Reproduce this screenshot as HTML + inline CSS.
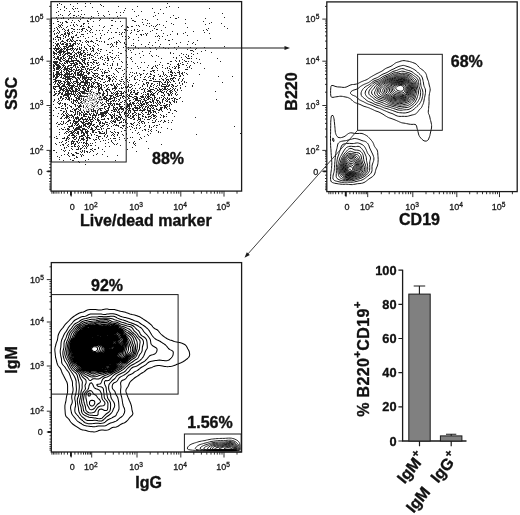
<!DOCTYPE html>
<html lang="en"><head><meta charset="utf-8"><title>Flow cytometry figure</title>
<style>html,body{margin:0;padding:0;background:#fff}svg{display:block}</style>
</head><body>
<svg width="520" height="515" viewBox="0 0 520 515">
<style>
text{font-family:'Liberation Sans', sans-serif;fill:#111}
.tk{font-size:9px;fill:#1a1a1a;stroke:#1a1a1a;stroke-width:.3px}
.sp{font-size:6.6px}
.ti{font-size:16px;font-weight:bold;stroke:#111;stroke-width:.35px}
.pc{font-size:16px;font-weight:bold;stroke:#111;stroke-width:.35px}
.bt{font-size:12.8px;font-weight:bold;stroke:#111;stroke-width:.3px}
.bl{font-size:14px;font-weight:bold;stroke:#111;stroke-width:.3px}
</style>
<rect width="520" height="515" fill="#fff"/>
<defs>
<clipPath id="c2"><rect x="327.5" y="2.5" width="189" height="189"/></clipPath>
<clipPath id="c3"><rect x="52" y="263" width="189" height="188.5"/></clipPath>
</defs>
<path d="M59 3h1M77 3h1M85 3h1M90 3h1M167 3h1M57 4h1M61 4h1M70 4h1M100 4h1M57 5h1M101 5h1M64 6h1M73 6h1M85 6h1M103 6h1M118 6h1M137 6h1M169 6h1M57 7h1M64 7h1M92 7h1M166 7h1M178 7h1M66 8h1M72 8h1M75 8h1M77 8h1M125 8h1M152 8h1M209 8h1M60 9h1M73 9h1M132 9h1M160 9h1M64 10h1M81 10h1M124 10h1M58 11h1M69 11h1M74 11h1M78 11h1M97 11h1M108 11h1M134 11h1M141 11h1M56 12h1M116 12h1M120 12h1M123 12h1M154 12h1M70 13h1M98 13h1M158 13h1M163 13h1M222 13h1M60 14h1M69 14h1M81 14h1M84 14h1M109 14h1M58 15h1M62 15h1M68 15h1M73 15h1M74 15h1M78 15h1M98 15h1M103 15h1M120 15h1M138 15h1M155 15h1M173 15h1M76 16h1M80 16h1M91 16h1M104 16h1M117 16h1M136 16h1M153 16h1M56 17h1M63 17h1M70 17h1M73 17h1M82 17h1M83 17h1M93 17h1M170 17h1M178 17h1M224 17h1M61 18h1M63 18h1M88 18h1M91 18h1M99 18h1M109 18h1M113 18h1M118 18h1M131 18h1M175 18h1M176 18h1M205 18h1M57 19h1M68 19h1M80 19h1M90 19h1M100 19h1M142 19h1M145 19h1M157 19h1M185 19h1M72 20h1M78 20h1M87 20h1M99 20h1M111 20h1M112 20h1M132 20h1M133 20h1M147 20h1M57 21h1M58 21h1M65 21h1M66 21h1M79 21h1M87 21h1M88 21h1M93 21h1M115 21h1M120 21h1M134 21h1M135 21h1M166 21h1M203 21h1M60 22h1M62 22h1M66 22h1M67 22h1M71 22h1M74 22h1M142 22h1M211 22h1M53 23h1M62 23h1M83 23h1M84 23h1M88 23h1M147 23h1M149 23h1M171 23h1M185 23h1M209 23h1M221 23h1M58 24h1M61 24h1M73 24h1M76 24h1M83 24h1M143 24h1M157 24h1M159 24h1M173 24h1M205 24h1M59 25h1M60 25h1M62 25h1M70 25h1M73 25h1M77 25h1M81 25h1M99 25h1M111 25h1M112 25h1M122 25h1M136 25h1M138 25h1M146 25h1M151 25h1M156 25h1M163 25h1M58 26h1M60 26h1M67 26h1M74 26h1M80 26h1M81 26h1M83 26h1M88 26h1M92 26h1M104 26h1M121 26h1M127 26h1M131 26h1M132 26h1M139 26h1M149 26h1M153 26h1M155 26h1M224 26h1M56 27h1M59 27h1M61 27h1M66 27h1M88 27h1M89 27h1M103 27h1M127 27h1M128 27h1M165 27h1M187 27h1M54 28h1M57 28h1M63 28h1M71 28h1M72 28h1M82 28h1M83 28h1M84 28h1M90 28h1M110 28h1M117 28h1M154 28h1M208 28h1M227 28h1M57 29h1M62 29h1M64 29h1M68 29h1M73 29h1M74 29h1M77 29h1M79 29h1M81 29h1M82 29h1M86 29h1M91 29h1M124 29h1M125 29h1M134 29h1M137 29h1M156 29h1M157 29h1M206 29h1M54 30h1M58 30h1M65 30h1M67 30h1M68 30h1M82 30h1M87 30h1M90 30h1M96 30h1M99 30h1M102 30h1M108 30h1M125 30h1M127 30h1M131 30h1M134 30h1M139 30h1M142 30h1M152 30h1M161 30h1M203 30h1M207 30h1M53 31h1M59 31h1M64 31h1M68 31h1M72 31h1M74 31h1M81 31h1M85 31h1M89 31h1M137 31h1M138 31h1M150 31h1M172 31h1M193 31h1M57 32h1M59 32h1M65 32h1M67 32h1M69 32h1M71 32h1M77 32h1M79 32h1M90 32h1M92 32h1M107 32h1M111 32h1M115 32h1M116 32h1M119 32h1M122 32h1M124 32h1M131 32h1M185 32h1M204 32h1M54 33h1M56 33h1M58 33h1M64 33h1M65 33h1M67 33h1M68 33h1M69 33h1M72 33h1M87 33h1M100 33h1M121 33h1M130 33h1M145 33h1M147 33h1M156 33h1M163 33h1M177 33h1M183 33h1M209 33h1M54 34h1M61 34h1M62 34h1M64 34h1M65 34h1M68 34h1M69 34h1M76 34h1M81 34h1M82 34h1M83 34h1M95 34h1M104 34h1M119 34h1M121 34h1M136 34h1M140 34h1M141 34h1M143 34h1M146 34h1M170 34h1M177 34h1M57 35h1M60 35h1M63 35h1M66 35h1M68 35h1M75 35h1M76 35h1M101 35h1M141 35h1M146 35h1M158 35h1M167 35h1M187 35h1M56 36h1M57 36h1M63 36h1M65 36h1M68 36h1M71 36h1M73 36h1M80 36h1M83 36h1M92 36h1M122 36h1M125 36h1M128 36h1M155 36h1M157 36h1M159 36h1M162 36h1M55 37h1M57 37h1M58 37h1M59 37h1M60 37h1M65 37h1M71 37h1M72 37h1M73 37h1M77 37h1M78 37h1M88 37h1M100 37h1M113 37h1M129 37h1M138 37h1M53 38h1M60 38h1M63 38h1M69 38h1M72 38h1M85 38h1M96 38h1M100 38h1M109 38h1M111 38h1M128 38h1M159 38h1M210 38h1M53 39h1M55 39h1M58 39h1M60 39h1M67 39h1M68 39h1M70 39h1M72 39h1M108 39h1M125 39h1M133 39h1M165 39h1M172 39h1M58 40h1M62 40h1M66 40h1M67 40h1M70 40h1M71 40h1M73 40h1M76 40h1M77 40h1M79 40h1M80 40h1M86 40h1M91 40h1M96 40h1M97 40h1M118 40h1M138 40h1M158 40h1M168 40h1M169 40h1M197 40h1M56 41h1M61 41h1M62 41h1M63 41h1M67 41h1M69 41h1M71 41h1M72 41h1M74 41h1M75 41h1M80 41h1M85 41h1M87 41h1M88 41h1M90 41h1M91 41h1M92 41h1M99 41h1M101 41h1M104 41h1M116 41h1M119 41h1M188 41h1M53 42h1M60 42h1M64 42h1M65 42h1M75 42h1M82 42h1M86 42h1M88 42h1M93 42h1M104 42h1M114 42h1M116 42h1M117 42h1M120 42h1M124 42h1M149 42h1M155 42h1M180 42h1M193 42h1M55 43h1M57 43h1M58 43h1M60 43h1M62 43h1M63 43h1M66 43h1M67 43h1M69 43h1M70 43h1M73 43h1M74 43h1M75 43h1M77 43h1M79 43h1M95 43h1M111 43h1M116 43h1M124 43h1M133 43h1M176 43h1M192 43h1M56 44h1M57 44h1M58 44h1M61 44h1M62 44h1M63 44h1M65 44h1M66 44h1M67 44h1M70 44h1M72 44h1M73 44h1M75 44h1M78 44h1M81 44h1M87 44h1M97 44h1M107 44h1M108 44h1M110 44h1M112 44h1M116 44h1M125 44h1M126 44h1M141 44h1M148 44h1M160 44h1M169 44h1M187 44h1M195 44h1M53 45h1M56 45h1M57 45h1M59 45h1M66 45h1M67 45h1M69 45h1M70 45h1M71 45h1M72 45h1M73 45h1M81 45h1M88 45h1M93 45h1M98 45h1M112 45h1M131 45h1M133 45h1M152 45h1M55 46h1M57 46h1M59 46h1M63 46h1M64 46h1M65 46h1M66 46h1M68 46h1M69 46h1M70 46h1M71 46h1M72 46h1M77 46h1M84 46h1M89 46h1M90 46h1M94 46h1M111 46h1M113 46h1M116 46h1M125 46h1M135 46h1M145 46h1M159 46h1M178 46h1M224 46h1M55 47h1M58 47h1M60 47h1M64 47h1M66 47h1M67 47h1M68 47h1M72 47h1M79 47h1M81 47h1M84 47h1M92 47h1M110 47h1M123 47h1M128 47h1M135 47h1M149 47h1M155 47h1M163 47h1M174 47h1M190 47h1M204 47h1M53 48h1M54 48h1M55 48h1M56 48h1M57 48h1M58 48h1M59 48h1M61 48h1M63 48h1M64 48h1M65 48h1M67 48h1M70 48h1M71 48h1M72 48h1M73 48h1M75 48h1M77 48h1M79 48h1M81 48h1M85 48h1M86 48h1M90 48h1M92 48h1M93 48h1M98 48h1M118 48h1M138 48h1M150 48h1M165 48h1M168 48h1M196 48h1M54 49h1M56 49h1M57 49h1M58 49h1M60 49h1M61 49h1M62 49h1M64 49h1M66 49h1M67 49h1M68 49h1M69 49h1M70 49h1M72 49h1M74 49h1M76 49h1M77 49h1M79 49h1M80 49h1M86 49h1M90 49h1M93 49h1M97 49h1M100 49h1M101 49h1M128 49h1M133 49h1M156 49h1M176 49h1M187 49h1M195 49h1M55 50h1M56 50h1M59 50h1M60 50h1M61 50h1M63 50h1M66 50h1M67 50h1M71 50h1M73 50h1M76 50h1M81 50h1M83 50h1M84 50h1M87 50h1M92 50h1M93 50h1M98 50h1M106 50h1M112 50h1M125 50h1M130 50h1M190 50h1M191 50h1M192 50h1M205 50h1M53 51h1M56 51h1M58 51h1M59 51h1M60 51h1M61 51h1M62 51h1M63 51h1M64 51h1M65 51h1M67 51h1M73 51h1M78 51h1M80 51h1M83 51h1M91 51h1M93 51h1M100 51h1M126 51h1M142 51h1M150 51h1M193 51h1M201 51h1M53 52h1M54 52h1M57 52h1M58 52h1M59 52h1M60 52h1M61 52h1M63 52h1M64 52h1M67 52h1M68 52h1M69 52h1M72 52h1M74 52h1M77 52h1M78 52h1M79 52h1M80 52h1M83 52h1M84 52h1M87 52h1M96 52h1M109 52h1M110 52h1M118 52h1M131 52h1M170 52h1M211 52h1M53 53h1M54 53h1M55 53h1M56 53h1M59 53h1M60 53h1M63 53h1M65 53h1M66 53h1M67 53h1M68 53h1M69 53h1M70 53h1M71 53h1M75 53h1M76 53h1M78 53h1M80 53h1M81 53h1M82 53h1M85 53h1M90 53h1M95 53h1M97 53h1M99 53h1M112 53h1M120 53h1M121 53h1M139 53h1M149 53h1M170 53h1M173 53h1M181 53h1M191 53h1M197 53h1M54 54h1M56 54h1M58 54h1M60 54h1M62 54h1M64 54h1M65 54h1M67 54h1M70 54h1M71 54h1M74 54h1M76 54h1M79 54h1M80 54h1M81 54h1M84 54h1M85 54h1M87 54h1M88 54h1M89 54h1M90 54h1M94 54h1M107 54h1M135 54h1M183 54h1M186 54h1M193 54h1M53 55h1M59 55h1M60 55h1M63 55h1M64 55h1M68 55h1M69 55h1M73 55h1M74 55h1M77 55h1M79 55h1M81 55h1M83 55h1M87 55h1M89 55h1M91 55h1M92 55h1M97 55h1M104 55h1M116 55h1M118 55h1M126 55h1M143 55h1M151 55h1M156 55h1M179 55h1M188 55h1M54 56h1M57 56h1M58 56h1M62 56h1M63 56h1M67 56h1M69 56h1M70 56h1M71 56h1M72 56h1M74 56h1M76 56h1M77 56h1M79 56h1M83 56h1M84 56h1M85 56h1M93 56h1M101 56h1M107 56h1M110 56h1M152 56h1M158 56h1M185 56h1M188 56h1M191 56h1M53 57h1M54 57h1M57 57h1M58 57h1M60 57h1M61 57h1M63 57h1M65 57h1M69 57h1M71 57h1M72 57h1M74 57h1M79 57h1M81 57h1M89 57h1M91 57h1M95 57h1M100 57h1M102 57h1M107 57h1M111 57h1M112 57h1M115 57h1M118 57h1M127 57h1M131 57h1M140 57h1M173 57h1M176 57h1M181 57h1M186 57h1M55 58h1M56 58h1M57 58h1M58 58h1M60 58h1M61 58h1M63 58h1M64 58h1M68 58h1M69 58h1M70 58h1M71 58h1M73 58h1M75 58h1M76 58h1M80 58h1M83 58h1M84 58h1M85 58h1M87 58h1M89 58h1M98 58h1M100 58h1M105 58h1M107 58h1M108 58h1M114 58h1M130 58h1M161 58h1M176 58h1M187 58h1M188 58h1M189 58h1M191 58h1M196 58h1M217 58h1M54 59h1M56 59h1M58 59h1M59 59h1M60 59h1M62 59h1M65 59h1M68 59h1M71 59h1M76 59h1M81 59h1M82 59h1M84 59h1M85 59h1M92 59h1M93 59h1M102 59h1M108 59h1M112 59h1M119 59h1M131 59h1M182 59h1M199 59h1M59 60h1M60 60h1M63 60h1M64 60h1M66 60h1M67 60h1M68 60h1M71 60h1M72 60h1M73 60h1M74 60h1M75 60h1M76 60h1M77 60h1M78 60h1M82 60h1M83 60h1M84 60h1M88 60h1M94 60h1M95 60h1M96 60h1M104 60h1M107 60h1M108 60h1M175 60h1M179 60h1M184 60h1M53 61h1M54 61h1M55 61h1M56 61h1M57 61h1M60 61h1M61 61h1M65 61h1M66 61h1M67 61h1M68 61h1M69 61h1M70 61h1M71 61h1M72 61h1M73 61h1M77 61h1M78 61h1M79 61h1M82 61h1M84 61h1M93 61h1M113 61h1M121 61h1M126 61h1M132 61h1M155 61h1M170 61h1M171 61h1M176 61h1M179 61h1M185 61h1M186 61h1M188 61h1M191 61h1M220 61h1M53 62h1M54 62h1M55 62h1M56 62h1M57 62h1M59 62h1M64 62h1M66 62h1M67 62h1M69 62h1M73 62h1M75 62h1M76 62h1M79 62h1M80 62h1M83 62h1M84 62h1M87 62h1M88 62h1M90 62h1M91 62h1M93 62h1M94 62h1M96 62h1M98 62h1M105 62h1M122 62h1M126 62h1M141 62h1M144 62h1M160 62h1M182 62h1M193 62h1M197 62h1M54 63h1M55 63h1M56 63h1M59 63h1M60 63h1M62 63h1M64 63h1M65 63h1M67 63h1M70 63h1M71 63h1M72 63h1M73 63h1M74 63h1M76 63h1M77 63h1M79 63h1M80 63h1M81 63h1M84 63h1M85 63h1M87 63h1M92 63h1M96 63h1M97 63h1M103 63h1M107 63h1M112 63h1M117 63h1M135 63h1M167 63h1M168 63h1M178 63h1M180 63h1M187 63h1M194 63h1M200 63h1M53 64h1M55 64h1M56 64h1M57 64h1M58 64h1M61 64h1M63 64h1M71 64h1M74 64h1M75 64h1M76 64h1M77 64h1M81 64h1M82 64h1M85 64h1M87 64h1M88 64h1M93 64h1M99 64h1M103 64h1M104 64h1M112 64h1M117 64h1M127 64h1M159 64h1M170 64h1M177 64h1M178 64h1M182 64h1M183 64h1M53 65h1M54 65h1M56 65h1M57 65h1M58 65h1M59 65h1M62 65h1M63 65h1M64 65h1M68 65h1M69 65h1M70 65h1M71 65h1M73 65h1M74 65h1M75 65h1M79 65h1M82 65h1M88 65h1M91 65h1M97 65h1M98 65h1M107 65h1M110 65h1M112 65h1M117 65h1M148 65h1M155 65h1M157 65h1M162 65h1M178 65h1M179 65h1M186 65h1M190 65h1M53 66h1M54 66h1M57 66h1M58 66h1M59 66h1M60 66h1M63 66h1M65 66h1M67 66h1M68 66h1M73 66h1M75 66h1M77 66h1M81 66h1M82 66h1M83 66h1M84 66h1M86 66h1M87 66h1M95 66h1M121 66h1M137 66h1M153 66h1M155 66h1M169 66h1M174 66h1M176 66h1M178 66h1M189 66h1M53 67h1M56 67h1M57 67h1M58 67h1M59 67h1M60 67h1M62 67h1M64 67h1M65 67h1M67 67h1M70 67h1M71 67h1M72 67h1M75 67h1M77 67h1M78 67h1M80 67h1M82 67h1M83 67h1M84 67h1M90 67h1M91 67h1M93 67h1M94 67h1M98 67h1M111 67h1M127 67h1M140 67h1M147 67h1M152 67h1M156 67h1M162 67h1M167 67h1M172 67h1M175 67h1M178 67h1M179 67h1M187 67h1M189 67h1M53 68h1M54 68h1M56 68h1M57 68h1M58 68h1M59 68h1M61 68h1M64 68h1M65 68h1M66 68h1M67 68h1M68 68h1M69 68h1M71 68h1M76 68h1M81 68h1M85 68h1M87 68h1M88 68h1M93 68h1M97 68h1M98 68h1M108 68h1M111 68h1M116 68h1M118 68h1M119 68h1M120 68h1M131 68h1M138 68h1M151 68h1M152 68h1M157 68h1M165 68h1M167 68h1M169 68h1M174 68h1M175 68h1M178 68h1M191 68h1M204 68h1M54 69h1M56 69h1M57 69h1M58 69h1M60 69h1M63 69h1M64 69h1M65 69h1M66 69h1M67 69h1M69 69h1M70 69h1M71 69h1M73 69h1M74 69h1M76 69h1M78 69h1M79 69h1M81 69h1M82 69h1M83 69h1M85 69h1M87 69h1M89 69h1M90 69h1M91 69h1M92 69h1M96 69h1M100 69h1M102 69h1M115 69h1M124 69h1M170 69h1M185 69h1M186 69h1M187 69h1M53 70h1M54 70h1M59 70h1M61 70h1M64 70h1M66 70h1M67 70h1M68 70h1M71 70h1M72 70h1M75 70h1M76 70h1M77 70h1M78 70h1M80 70h1M81 70h1M86 70h1M89 70h1M94 70h1M95 70h1M97 70h1M105 70h1M108 70h1M116 70h1M122 70h1M143 70h1M144 70h1M152 70h1M153 70h1M154 70h1M157 70h1M168 70h1M171 70h1M178 70h1M56 71h1M57 71h1M58 71h1M61 71h1M63 71h1M66 71h1M68 71h1M69 71h1M70 71h1M71 71h1M73 71h1M75 71h1M79 71h1M80 71h1M81 71h1M82 71h1M86 71h1M87 71h1M91 71h1M101 71h1M104 71h1M109 71h1M117 71h1M126 71h1M150 71h1M151 71h1M153 71h1M162 71h1M170 71h1M171 71h1M179 71h1M53 72h1M56 72h1M57 72h1M58 72h1M60 72h1M61 72h1M64 72h1M66 72h1M67 72h1M69 72h1M74 72h1M75 72h1M77 72h1M78 72h1M79 72h1M81 72h1M83 72h1M84 72h1M86 72h1M88 72h1M89 72h1M92 72h1M102 72h1M104 72h1M105 72h1M106 72h1M107 72h1M118 72h1M130 72h1M132 72h1M136 72h1M154 72h1M163 72h1M168 72h1M170 72h1M171 72h1M172 72h1M174 72h1M177 72h1M178 72h1M179 72h1M182 72h1M184 72h1M53 73h1M56 73h1M57 73h1M58 73h1M59 73h1M61 73h1M65 73h1M66 73h1M67 73h1M68 73h1M69 73h1M71 73h1M72 73h1M74 73h1M75 73h1M77 73h1M78 73h1M80 73h1M81 73h1M83 73h1M87 73h1M88 73h1M89 73h1M93 73h1M94 73h1M95 73h1M96 73h1M97 73h1M102 73h1M104 73h1M113 73h1M124 73h1M134 73h1M136 73h1M139 73h1M143 73h1M147 73h1M150 73h1M163 73h1M172 73h1M175 73h1M179 73h1M181 73h1M182 73h1M186 73h1M53 74h1M55 74h1M56 74h1M57 74h1M58 74h1M59 74h1M60 74h1M61 74h1M62 74h1M64 74h1M65 74h1M66 74h1M67 74h1M68 74h1M69 74h1M70 74h1M71 74h1M73 74h1M75 74h1M77 74h1M78 74h1M79 74h1M80 74h1M81 74h1M82 74h1M83 74h1M88 74h1M94 74h1M98 74h1M114 74h1M123 74h1M129 74h1M140 74h1M141 74h1M146 74h1M150 74h1M151 74h1M158 74h1M163 74h1M165 74h1M170 74h1M171 74h1M179 74h1M182 74h1M187 74h1M199 74h1M53 75h1M54 75h1M56 75h1M57 75h1M59 75h1M61 75h1M63 75h1M64 75h1M65 75h1M67 75h1M69 75h1M73 75h1M75 75h1M77 75h1M78 75h1M79 75h1M80 75h1M81 75h1M82 75h1M84 75h1M85 75h1M86 75h1M92 75h1M93 75h1M95 75h1M97 75h1M101 75h1M102 75h1M103 75h1M106 75h1M108 75h1M109 75h1M111 75h1M132 75h1M137 75h1M140 75h1M153 75h1M154 75h1M160 75h1M164 75h1M166 75h1M171 75h1M172 75h1M174 75h1M175 75h1M176 75h1M180 75h1M183 75h1M53 76h1M54 76h1M56 76h1M57 76h1M58 76h1M61 76h1M64 76h1M65 76h1M66 76h1M67 76h1M68 76h1M69 76h1M70 76h1M71 76h1M72 76h1M73 76h1M74 76h1M80 76h1M82 76h1M83 76h1M84 76h1M86 76h1M93 76h1M96 76h1M97 76h1M102 76h1M106 76h1M107 76h1M113 76h1M116 76h1M123 76h1M126 76h1M131 76h1M135 76h1M145 76h1M149 76h1M150 76h1M154 76h1M159 76h1M160 76h1M162 76h1M167 76h1M169 76h1M171 76h1M179 76h1M180 76h1M218 76h1M232 76h1M53 77h1M55 77h1M56 77h1M57 77h1M60 77h1M61 77h1M63 77h1M65 77h1M66 77h1M67 77h1M68 77h1M69 77h1M72 77h1M73 77h1M74 77h1M75 77h1M77 77h1M78 77h1M80 77h1M82 77h1M83 77h1M84 77h1M85 77h1M86 77h1M87 77h1M88 77h1M89 77h1M90 77h1M91 77h1M94 77h1M95 77h1M98 77h1M99 77h1M106 77h1M108 77h1M109 77h1M112 77h1M114 77h1M121 77h1M126 77h1M129 77h1M134 77h1M140 77h1M144 77h1M148 77h1M153 77h1M166 77h1M173 77h1M174 77h1M55 78h1M56 78h1M62 78h1M63 78h1M64 78h1M65 78h1M67 78h1M68 78h1M69 78h1M70 78h1M71 78h1M75 78h1M76 78h1M78 78h1M79 78h1M82 78h1M83 78h1M84 78h1M85 78h1M86 78h1M88 78h1M91 78h1M92 78h1M97 78h1M99 78h1M100 78h1M102 78h1M108 78h1M109 78h1M110 78h1M115 78h1M125 78h1M134 78h1M150 78h1M152 78h1M153 78h1M161 78h1M165 78h1M170 78h1M171 78h1M172 78h1M173 78h1M175 78h1M179 78h1M183 78h1M53 79h1M54 79h1M55 79h1M65 79h1M66 79h1M67 79h1M68 79h1M69 79h1M70 79h1M72 79h1M76 79h1M77 79h1M79 79h1M82 79h1M84 79h1M85 79h1M87 79h1M88 79h1M89 79h1M90 79h1M91 79h1M94 79h1M95 79h1M101 79h1M102 79h1M104 79h1M109 79h1M110 79h1M113 79h1M116 79h1M121 79h1M122 79h1M127 79h1M134 79h1M135 79h1M137 79h1M143 79h1M144 79h1M145 79h1M153 79h1M155 79h1M159 79h1M162 79h1M163 79h1M166 79h1M167 79h1M168 79h1M170 79h1M172 79h1M178 79h1M182 79h1M55 80h1M56 80h1M57 80h1M58 80h1M59 80h1M60 80h1M65 80h1M67 80h1M70 80h1M76 80h1M77 80h1M80 80h1M83 80h1M85 80h1M86 80h1M87 80h1M90 80h1M95 80h1M98 80h1M108 80h1M109 80h1M112 80h1M119 80h1M126 80h1M129 80h1M139 80h1M146 80h1M149 80h1M150 80h1M151 80h1M163 80h1M166 80h1M168 80h1M171 80h1M173 80h1M178 80h1M182 80h1M54 81h1M55 81h1M56 81h1M58 81h1M60 81h1M61 81h1M63 81h1M64 81h1M66 81h1M67 81h1M68 81h1M70 81h1M73 81h1M74 81h1M75 81h1M76 81h1M77 81h1M81 81h1M82 81h1M83 81h1M85 81h1M86 81h1M87 81h1M91 81h1M94 81h1M100 81h1M105 81h1M107 81h1M109 81h1M112 81h1M115 81h1M120 81h1M121 81h1M123 81h1M127 81h1M142 81h1M153 81h1M154 81h1M155 81h1M156 81h1M157 81h1M158 81h1M159 81h1M160 81h1M165 81h1M167 81h1M169 81h1M173 81h1M174 81h1M181 81h1M184 81h1M53 82h1M55 82h1M58 82h1M59 82h1M60 82h1M64 82h1M65 82h1M67 82h1M68 82h1M69 82h1M71 82h1M73 82h1M76 82h1M77 82h1M78 82h1M80 82h1M81 82h1M82 82h1M83 82h1M84 82h1M85 82h1M86 82h1M87 82h1M88 82h1M89 82h1M92 82h1M93 82h1M95 82h1M96 82h1M97 82h1M103 82h1M104 82h1M124 82h1M128 82h1M136 82h1M146 82h1M147 82h1M148 82h1M159 82h1M161 82h1M164 82h1M165 82h1M167 82h1M168 82h1M170 82h1M179 82h1M184 82h1M186 82h1M222 82h1M55 83h1M57 83h1M59 83h1M61 83h1M62 83h1M64 83h1M67 83h1M68 83h1M69 83h1M70 83h1M72 83h1M74 83h1M75 83h1M77 83h1M79 83h1M80 83h1M84 83h1M85 83h1M86 83h1M87 83h1M89 83h1M91 83h1M93 83h1M94 83h1M97 83h1M98 83h1M99 83h1M113 83h1M117 83h1M120 83h1M123 83h1M135 83h1M143 83h1M146 83h1M148 83h1M151 83h1M152 83h1M157 83h1M159 83h1M162 83h1M167 83h1M175 83h1M179 83h1M182 83h1M193 83h1M54 84h1M57 84h1M58 84h1M60 84h1M63 84h1M64 84h1M66 84h1M67 84h1M68 84h1M69 84h1M73 84h1M77 84h1M78 84h1M79 84h1M80 84h1M84 84h1M85 84h1M87 84h1M89 84h1M91 84h1M93 84h1M97 84h1M98 84h1M100 84h1M101 84h1M105 84h1M108 84h1M110 84h1M111 84h1M113 84h1M116 84h1M118 84h1M119 84h1M124 84h1M128 84h1M130 84h1M131 84h1M138 84h1M143 84h1M144 84h1M147 84h1M151 84h1M154 84h1M159 84h1M162 84h1M163 84h1M164 84h1M165 84h1M167 84h1M169 84h1M171 84h1M172 84h1M182 84h1M58 85h1M59 85h1M62 85h1M63 85h1M64 85h1M68 85h1M69 85h1M70 85h1M71 85h1M72 85h1M73 85h1M74 85h1M77 85h1M79 85h1M81 85h1M82 85h1M83 85h1M84 85h1M85 85h1M86 85h1M88 85h1M89 85h1M91 85h1M92 85h1M98 85h1M99 85h1M101 85h1M103 85h1M106 85h1M107 85h1M111 85h1M112 85h1M114 85h1M116 85h1M121 85h1M128 85h1M132 85h1M134 85h1M142 85h1M147 85h1M150 85h1M153 85h1M157 85h1M159 85h1M161 85h1M166 85h1M168 85h1M169 85h1M172 85h1M173 85h1M177 85h1M180 85h1M192 85h1M53 86h1M54 86h1M55 86h1M56 86h1M57 86h1M58 86h1M59 86h1M61 86h1M62 86h1M63 86h1M64 86h1M65 86h1M67 86h1M69 86h1M71 86h1M72 86h1M73 86h1M75 86h1M76 86h1M77 86h1M79 86h1M80 86h1M83 86h1M86 86h1M88 86h1M90 86h1M91 86h1M92 86h1M93 86h1M95 86h1M97 86h1M98 86h1M99 86h1M101 86h1M106 86h1M114 86h1M115 86h1M117 86h1M125 86h1M127 86h1M128 86h1M131 86h1M142 86h1M147 86h1M150 86h1M151 86h1M156 86h1M161 86h1M162 86h1M163 86h1M164 86h1M165 86h1M166 86h1M167 86h1M168 86h1M171 86h1M173 86h1M175 86h1M176 86h1M185 86h1M192 86h1M53 87h1M55 87h1M59 87h1M60 87h1M61 87h1M65 87h1M66 87h1M68 87h1M70 87h1M71 87h1M72 87h1M74 87h1M78 87h1M80 87h1M82 87h1M83 87h1M84 87h1M87 87h1M88 87h1M89 87h1M91 87h1M92 87h1M94 87h1M96 87h1M98 87h1M100 87h1M101 87h1M104 87h1M108 87h1M114 87h1M115 87h1M116 87h1M121 87h1M123 87h1M125 87h1M126 87h1M127 87h1M129 87h1M130 87h1M140 87h1M149 87h1M153 87h1M158 87h1M164 87h1M165 87h1M172 87h1M180 87h1M53 88h1M54 88h1M59 88h1M60 88h1M61 88h1M63 88h1M64 88h1M66 88h1M68 88h1M69 88h1M70 88h1M71 88h1M72 88h1M75 88h1M76 88h1M78 88h1M79 88h1M82 88h1M83 88h1M85 88h1M87 88h1M88 88h1M95 88h1M98 88h1M99 88h1M100 88h1M101 88h1M107 88h1M112 88h1M113 88h1M114 88h1M115 88h1M116 88h1M119 88h1M121 88h1M122 88h1M126 88h1M132 88h1M135 88h1M139 88h1M143 88h1M145 88h1M149 88h1M155 88h1M156 88h1M159 88h1M162 88h1M164 88h1M165 88h1M167 88h1M170 88h1M173 88h1M175 88h1M180 88h1M54 89h1M55 89h1M60 89h1M61 89h1M62 89h1M63 89h1M65 89h1M66 89h1M67 89h1M69 89h1M71 89h1M72 89h1M75 89h1M76 89h1M77 89h1M79 89h1M83 89h1M84 89h1M85 89h1M87 89h1M88 89h1M91 89h1M98 89h1M99 89h1M101 89h1M102 89h1M106 89h1M107 89h1M108 89h1M109 89h1M112 89h1M115 89h1M128 89h1M131 89h1M141 89h1M142 89h1M144 89h1M147 89h1M150 89h1M151 89h1M152 89h1M153 89h1M157 89h1M159 89h1M160 89h1M161 89h1M163 89h1M164 89h1M165 89h1M166 89h1M168 89h1M169 89h1M172 89h1M174 89h1M177 89h1M59 90h1M60 90h1M62 90h1M63 90h1M64 90h1M66 90h1M67 90h1M68 90h1M69 90h1M70 90h1M72 90h1M73 90h1M75 90h1M76 90h1M78 90h1M79 90h1M84 90h1M85 90h1M86 90h1M88 90h1M90 90h1M98 90h1M99 90h1M102 90h1M105 90h1M106 90h1M109 90h1M114 90h1M118 90h1M126 90h1M128 90h1M130 90h1M133 90h1M134 90h1M137 90h1M144 90h1M148 90h1M149 90h1M150 90h1M154 90h1M157 90h1M158 90h1M160 90h1M162 90h1M167 90h1M170 90h1M171 90h1M174 90h1M177 90h1M181 90h1M54 91h1M56 91h1M58 91h1M59 91h1M63 91h1M65 91h1M66 91h1M67 91h1M68 91h1M70 91h1M71 91h1M72 91h1M73 91h1M74 91h1M75 91h1M76 91h1M77 91h1M80 91h1M81 91h1M82 91h1M83 91h1M84 91h1M86 91h1M87 91h1M88 91h1M90 91h1M98 91h1M103 91h1M106 91h1M107 91h1M110 91h1M116 91h1M117 91h1M119 91h1M120 91h1M121 91h1M124 91h1M126 91h1M128 91h1M131 91h1M134 91h1M144 91h1M147 91h1M148 91h1M149 91h1M150 91h1M151 91h1M156 91h1M159 91h1M160 91h1M161 91h1M164 91h1M166 91h1M169 91h1M170 91h1M172 91h1M175 91h1M215 91h1M54 92h1M59 92h1M60 92h1M62 92h1M65 92h1M67 92h1M68 92h1M71 92h1M73 92h1M75 92h1M78 92h1M79 92h1M81 92h1M82 92h1M83 92h1M84 92h1M91 92h1M93 92h1M98 92h1M99 92h1M103 92h1M107 92h1M111 92h1M113 92h1M115 92h1M117 92h1M121 92h1M123 92h1M125 92h1M126 92h1M130 92h1M131 92h1M133 92h1M134 92h1M137 92h1M138 92h1M143 92h1M145 92h1M150 92h1M152 92h1M155 92h1M158 92h1M161 92h1M162 92h1M163 92h1M166 92h1M170 92h1M171 92h1M176 92h1M55 93h1M56 93h1M58 93h1M59 93h1M61 93h1M62 93h1M65 93h1M66 93h1M67 93h1M68 93h1M69 93h1M70 93h1M71 93h1M73 93h1M75 93h1M77 93h1M79 93h1M80 93h1M82 93h1M83 93h1M84 93h1M85 93h1M86 93h1M87 93h1M90 93h1M96 93h1M97 93h1M99 93h1M100 93h1M103 93h1M104 93h1M107 93h1M111 93h1M112 93h1M114 93h1M116 93h1M117 93h1M118 93h1M120 93h1M121 93h1M122 93h1M123 93h1M130 93h1M135 93h1M136 93h1M137 93h1M141 93h1M147 93h1M148 93h1M151 93h1M153 93h1M154 93h1M157 93h1M163 93h1M167 93h1M168 93h1M170 93h1M172 93h1M175 93h1M54 94h1M55 94h1M58 94h1M61 94h1M62 94h1M64 94h1M65 94h1M66 94h1M67 94h1M68 94h1M69 94h1M71 94h1M72 94h1M73 94h1M74 94h1M76 94h1M78 94h1M80 94h1M87 94h1M97 94h1M102 94h1M103 94h1M107 94h1M113 94h1M115 94h1M116 94h1M117 94h1M121 94h1M127 94h1M129 94h1M131 94h1M132 94h1M135 94h1M136 94h1M137 94h1M143 94h1M145 94h1M147 94h1M148 94h1M150 94h1M151 94h1M152 94h1M153 94h1M157 94h1M164 94h1M168 94h1M169 94h1M171 94h1M175 94h1M177 94h1M53 95h1M54 95h1M57 95h1M63 95h1M64 95h1M65 95h1M66 95h1M67 95h1M68 95h1M70 95h1M74 95h1M75 95h1M77 95h1M79 95h1M80 95h1M81 95h1M92 95h1M102 95h1M103 95h1M106 95h1M107 95h1M109 95h1M110 95h1M111 95h1M112 95h1M115 95h1M117 95h1M119 95h1M120 95h1M121 95h1M123 95h1M126 95h1M128 95h1M129 95h1M142 95h1M146 95h1M148 95h1M150 95h1M152 95h1M153 95h1M154 95h1M161 95h1M162 95h1M164 95h1M168 95h1M169 95h1M171 95h1M176 95h1M60 96h1M61 96h1M63 96h1M67 96h1M68 96h1M70 96h1M74 96h1M77 96h1M79 96h1M80 96h1M81 96h1M82 96h1M83 96h1M84 96h1M85 96h1M86 96h1M87 96h1M100 96h1M104 96h1M105 96h1M110 96h1M111 96h1M113 96h1M116 96h1M117 96h1M118 96h1M122 96h1M123 96h1M124 96h1M127 96h1M129 96h1M130 96h1M131 96h1M134 96h1M135 96h1M136 96h1M140 96h1M141 96h1M142 96h1M143 96h1M145 96h1M147 96h1M148 96h1M149 96h1M154 96h1M163 96h1M60 97h1M61 97h1M65 97h1M66 97h1M68 97h1M69 97h1M75 97h1M76 97h1M78 97h1M79 97h1M99 97h1M100 97h1M103 97h1M104 97h1M105 97h1M106 97h1M110 97h1M113 97h1M114 97h1M115 97h1M120 97h1M122 97h1M125 97h1M128 97h1M132 97h1M133 97h1M136 97h1M137 97h1M141 97h1M142 97h1M143 97h1M145 97h1M147 97h1M148 97h1M150 97h1M151 97h1M154 97h1M155 97h1M159 97h1M161 97h1M164 97h1M167 97h1M173 97h1M180 97h1M58 98h1M60 98h1M62 98h1M63 98h1M66 98h1M68 98h1M69 98h1M71 98h1M76 98h1M77 98h1M78 98h1M79 98h1M81 98h1M83 98h1M91 98h1M97 98h1M103 98h1M104 98h1M106 98h1M107 98h1M109 98h1M110 98h1M111 98h1M112 98h1M114 98h1M116 98h1M120 98h1M123 98h1M128 98h1M129 98h1M134 98h1M135 98h1M136 98h1M137 98h1M139 98h1M140 98h1M144 98h1M146 98h1M148 98h1M149 98h1M152 98h1M154 98h1M157 98h1M159 98h1M163 98h1M165 98h1M167 98h1M169 98h1M171 98h1M172 98h1M174 98h1M175 98h1M179 98h1M54 99h1M58 99h1M62 99h1M65 99h1M67 99h1M68 99h1M69 99h1M71 99h1M73 99h1M76 99h1M78 99h1M79 99h1M81 99h1M83 99h1M85 99h1M93 99h1M99 99h1M101 99h1M102 99h1M104 99h1M105 99h1M106 99h1M108 99h1M109 99h1M110 99h1M114 99h1M118 99h1M119 99h1M127 99h1M133 99h1M135 99h1M136 99h1M137 99h1M141 99h1M143 99h1M144 99h1M147 99h1M148 99h1M150 99h1M152 99h1M154 99h1M156 99h1M162 99h1M163 99h1M166 99h1M168 99h1M169 99h1M174 99h1M176 99h1M177 99h1M216 99h1M54 100h1M59 100h1M61 100h1M69 100h1M73 100h1M74 100h1M75 100h1M76 100h1M77 100h1M80 100h1M83 100h1M106 100h1M107 100h1M108 100h1M112 100h1M113 100h1M114 100h1M116 100h1M119 100h1M124 100h1M125 100h1M129 100h1M130 100h1M135 100h1M136 100h1M137 100h1M138 100h1M139 100h1M140 100h1M144 100h1M145 100h1M146 100h1M152 100h1M153 100h1M156 100h1M157 100h1M158 100h1M162 100h1M165 100h1M167 100h1M172 100h1M174 100h1M53 101h1M58 101h1M71 101h1M73 101h1M75 101h1M77 101h1M81 101h1M85 101h1M88 101h1M96 101h1M98 101h1M106 101h1M108 101h1M110 101h1M111 101h1M113 101h1M115 101h1M118 101h1M122 101h1M125 101h1M129 101h1M134 101h1M138 101h1M140 101h1M142 101h1M143 101h1M145 101h1M149 101h1M150 101h1M152 101h1M153 101h1M157 101h1M159 101h1M162 101h1M166 101h1M167 101h1M169 101h1M173 101h1M174 101h1M176 101h1M182 101h1M57 102h1M60 102h1M71 102h1M73 102h1M76 102h1M78 102h1M80 102h1M81 102h1M97 102h1M100 102h1M102 102h1M106 102h1M110 102h1M120 102h1M121 102h1M124 102h1M126 102h1M130 102h1M132 102h1M133 102h1M137 102h1M140 102h1M142 102h1M145 102h1M146 102h1M147 102h1M148 102h1M150 102h1M151 102h1M153 102h1M155 102h1M157 102h1M159 102h1M160 102h1M162 102h1M169 102h1M170 102h1M174 102h1M176 102h1M58 103h1M59 103h1M60 103h1M62 103h1M64 103h1M65 103h1M72 103h1M73 103h1M78 103h1M79 103h1M82 103h1M92 103h1M97 103h1M101 103h1M104 103h1M107 103h1M108 103h1M109 103h1M110 103h1M111 103h1M113 103h1M114 103h1M116 103h1M117 103h1M119 103h1M127 103h1M129 103h1M130 103h1M132 103h1M133 103h1M134 103h1M136 103h1M138 103h1M140 103h1M141 103h1M143 103h1M144 103h1M146 103h1M147 103h1M153 103h1M156 103h1M158 103h1M160 103h1M164 103h1M170 103h1M53 104h1M59 104h1M64 104h1M65 104h1M67 104h1M74 104h1M75 104h1M80 104h1M102 104h1M103 104h1M105 104h1M108 104h1M110 104h1M112 104h1M114 104h1M116 104h1M117 104h1M118 104h1M119 104h1M120 104h1M124 104h1M127 104h1M128 104h1M129 104h1M130 104h1M131 104h1M133 104h1M139 104h1M141 104h1M142 104h1M143 104h1M144 104h1M146 104h1M148 104h1M151 104h1M157 104h1M159 104h1M166 104h1M167 104h1M169 104h1M171 104h1M62 105h1M65 105h1M69 105h1M75 105h1M77 105h1M79 105h1M80 105h1M83 105h1M92 105h1M97 105h1M101 105h1M102 105h1M108 105h1M109 105h1M111 105h1M112 105h1M114 105h1M119 105h1M127 105h1M128 105h1M129 105h1M131 105h1M134 105h1M135 105h1M137 105h1M138 105h1M140 105h1M141 105h1M142 105h1M147 105h1M149 105h1M150 105h1M151 105h1M152 105h1M153 105h1M154 105h1M155 105h1M157 105h1M160 105h1M161 105h1M163 105h1M164 105h1M165 105h1M166 105h1M169 105h1M61 106h1M65 106h1M70 106h1M71 106h1M75 106h1M78 106h1M79 106h1M80 106h1M81 106h1M83 106h1M86 106h1M93 106h1M94 106h1M104 106h1M105 106h1M106 106h1M109 106h1M113 106h1M119 106h1M120 106h1M121 106h1M122 106h1M126 106h1M127 106h1M128 106h1M129 106h1M131 106h1M135 106h1M139 106h1M141 106h1M143 106h1M145 106h1M146 106h1M148 106h1M150 106h1M152 106h1M155 106h1M156 106h1M164 106h1M165 106h1M167 106h1M169 106h1M55 107h1M58 107h1M59 107h1M67 107h1M71 107h1M78 107h1M79 107h1M83 107h1M87 107h1M104 107h1M108 107h1M109 107h1M113 107h1M114 107h1M116 107h1M117 107h1M120 107h1M121 107h1M124 107h1M126 107h1M127 107h1M129 107h1M134 107h1M135 107h1M136 107h1M137 107h1M139 107h1M140 107h1M142 107h1M145 107h1M147 107h1M148 107h1M151 107h1M153 107h1M160 107h1M161 107h1M162 107h1M164 107h1M165 107h1M166 107h1M56 108h1M61 108h1M62 108h1M63 108h1M65 108h1M67 108h1M73 108h1M76 108h1M77 108h1M80 108h1M93 108h1M99 108h1M100 108h1M101 108h1M102 108h1M104 108h1M107 108h1M108 108h1M113 108h1M115 108h1M117 108h1M119 108h1M120 108h1M121 108h1M122 108h1M123 108h1M125 108h1M126 108h1M128 108h1M129 108h1M130 108h1M132 108h1M133 108h1M135 108h1M136 108h1M137 108h1M138 108h1M139 108h1M142 108h1M144 108h1M147 108h1M149 108h1M150 108h1M152 108h1M153 108h1M156 108h1M160 108h1M161 108h1M164 108h1M166 108h1M169 108h1M65 109h1M72 109h1M74 109h1M75 109h1M76 109h1M78 109h1M80 109h1M88 109h1M91 109h1M93 109h1M98 109h1M100 109h1M105 109h1M108 109h1M113 109h1M114 109h1M115 109h1M116 109h1M118 109h1M119 109h1M121 109h1M122 109h1M123 109h1M127 109h1M129 109h1M132 109h1M133 109h1M137 109h1M140 109h1M143 109h1M144 109h1M145 109h1M147 109h1M150 109h1M154 109h1M156 109h1M157 109h1M159 109h1M160 109h1M161 109h1M167 109h1M170 109h1M53 110h1M60 110h1M61 110h1M66 110h1M70 110h1M74 110h1M75 110h1M79 110h1M80 110h1M83 110h1M91 110h1M93 110h1M94 110h1M95 110h1M97 110h1M100 110h1M101 110h1M106 110h1M107 110h1M108 110h1M111 110h1M112 110h1M114 110h1M116 110h1M118 110h1M123 110h1M126 110h1M128 110h1M129 110h1M130 110h1M133 110h1M134 110h1M135 110h1M136 110h1M137 110h1M139 110h1M140 110h1M141 110h1M142 110h1M143 110h1M144 110h1M147 110h1M148 110h1M149 110h1M150 110h1M152 110h1M153 110h1M158 110h1M159 110h1M161 110h1M170 110h1M174 110h1M175 110h1M63 111h1M64 111h1M66 111h1M70 111h1M71 111h1M72 111h1M75 111h1M77 111h1M78 111h1M81 111h1M84 111h1M86 111h1M87 111h1M88 111h1M91 111h1M92 111h1M93 111h1M95 111h1M97 111h1M104 111h1M105 111h1M106 111h1M107 111h1M113 111h1M114 111h1M115 111h1M117 111h1M119 111h1M122 111h1M125 111h1M128 111h1M130 111h1M134 111h1M142 111h1M148 111h1M149 111h1M150 111h1M153 111h1M154 111h1M155 111h1M162 111h1M176 111h1M63 112h1M66 112h1M73 112h1M75 112h1M77 112h1M79 112h1M81 112h1M82 112h1M84 112h1M87 112h1M88 112h1M95 112h1M97 112h1M100 112h1M101 112h1M102 112h1M103 112h1M104 112h1M105 112h1M106 112h1M107 112h1M111 112h1M117 112h1M118 112h1M119 112h1M121 112h1M124 112h1M125 112h1M128 112h1M130 112h1M134 112h1M135 112h1M141 112h1M145 112h1M146 112h1M148 112h1M150 112h1M151 112h1M153 112h1M155 112h1M158 112h1M168 112h1M169 112h1M58 113h1M62 113h1M65 113h1M67 113h1M75 113h1M77 113h1M79 113h1M80 113h1M83 113h1M85 113h1M86 113h1M89 113h1M91 113h1M93 113h1M96 113h1M97 113h1M100 113h1M101 113h1M102 113h1M103 113h1M104 113h1M105 113h1M106 113h1M108 113h1M114 113h1M119 113h1M124 113h1M125 113h1M126 113h1M127 113h1M129 113h1M132 113h1M133 113h1M136 113h1M138 113h1M142 113h1M148 113h1M150 113h1M156 113h1M172 113h1M61 114h1M63 114h1M66 114h1M68 114h1M71 114h1M74 114h1M75 114h1M77 114h1M79 114h1M81 114h1M83 114h1M84 114h1M85 114h1M86 114h1M87 114h1M89 114h1M90 114h1M93 114h1M94 114h1M96 114h1M98 114h1M99 114h1M100 114h1M101 114h1M102 114h1M103 114h1M105 114h1M109 114h1M110 114h1M112 114h1M114 114h1M119 114h1M120 114h1M124 114h1M128 114h1M132 114h1M135 114h1M138 114h1M139 114h1M140 114h1M143 114h1M147 114h1M148 114h1M149 114h1M152 114h1M153 114h1M160 114h1M166 114h1M53 115h1M63 115h1M64 115h1M66 115h1M67 115h1M69 115h1M70 115h1M71 115h1M72 115h1M74 115h1M79 115h1M81 115h1M83 115h1M84 115h1M90 115h1M92 115h1M93 115h1M94 115h1M95 115h1M96 115h1M98 115h1M101 115h1M102 115h1M103 115h1M104 115h1M106 115h1M110 115h1M111 115h1M113 115h1M114 115h1M116 115h1M117 115h1M120 115h1M125 115h1M127 115h1M128 115h1M130 115h1M133 115h1M134 115h1M136 115h1M138 115h1M142 115h1M151 115h1M153 115h1M154 115h1M155 115h1M161 115h1M163 115h1M57 116h1M62 116h1M66 116h1M67 116h1M68 116h1M72 116h1M73 116h1M77 116h1M83 116h1M84 116h1M85 116h1M86 116h1M88 116h1M92 116h1M95 116h1M101 116h1M102 116h1M103 116h1M105 116h1M111 116h1M112 116h1M114 116h1M118 116h1M119 116h1M121 116h1M125 116h1M127 116h1M130 116h1M132 116h1M133 116h1M138 116h1M142 116h1M143 116h1M145 116h1M148 116h1M149 116h1M150 116h1M153 116h1M154 116h1M156 116h1M163 116h1M164 116h1M166 116h1M174 116h1M61 117h1M65 117h1M66 117h1M67 117h1M69 117h1M71 117h1M73 117h1M75 117h1M76 117h1M77 117h1M78 117h1M81 117h1M82 117h1M88 117h1M89 117h1M90 117h1M92 117h1M93 117h1M95 117h1M98 117h1M101 117h1M111 117h1M112 117h1M114 117h1M116 117h1M118 117h1M119 117h1M120 117h1M121 117h1M128 117h1M129 117h1M132 117h1M133 117h1M138 117h1M139 117h1M145 117h1M146 117h1M148 117h1M151 117h1M155 117h1M160 117h1M163 117h1M195 117h1M60 118h1M61 118h1M64 118h1M66 118h1M68 118h1M73 118h1M75 118h1M76 118h1M77 118h1M78 118h1M80 118h1M81 118h1M82 118h1M85 118h1M87 118h1M89 118h1M92 118h1M94 118h1M97 118h1M104 118h1M107 118h1M108 118h1M111 118h1M112 118h1M115 118h1M116 118h1M117 118h1M120 118h1M122 118h1M130 118h1M131 118h1M134 118h1M138 118h1M140 118h1M142 118h1M150 118h1M153 118h1M154 118h1M69 119h1M74 119h1M76 119h1M78 119h1M79 119h1M80 119h1M82 119h1M83 119h1M84 119h1M85 119h1M86 119h1M87 119h1M89 119h1M90 119h1M91 119h1M92 119h1M95 119h1M97 119h1M98 119h1M101 119h1M102 119h1M103 119h1M104 119h1M108 119h1M114 119h1M116 119h1M117 119h1M120 119h1M123 119h1M124 119h1M126 119h1M133 119h1M134 119h1M138 119h1M139 119h1M140 119h1M144 119h1M147 119h1M148 119h1M149 119h1M156 119h1M68 120h1M69 120h1M70 120h1M73 120h1M74 120h1M78 120h1M79 120h1M83 120h1M86 120h1M88 120h1M90 120h1M93 120h1M97 120h1M98 120h1M99 120h1M111 120h1M113 120h1M115 120h1M117 120h1M118 120h1M119 120h1M123 120h1M125 120h1M137 120h1M140 120h1M152 120h1M155 120h1M161 120h1M164 120h1M168 120h1M172 120h1M61 121h1M63 121h1M67 121h1M68 121h1M73 121h1M74 121h1M75 121h1M76 121h1M77 121h1M78 121h1M80 121h1M81 121h1M83 121h1M85 121h1M86 121h1M87 121h1M90 121h1M91 121h1M92 121h1M98 121h1M100 121h1M105 121h1M110 121h1M112 121h1M113 121h1M114 121h1M115 121h1M121 121h1M125 121h1M139 121h1M141 121h1M142 121h1M143 121h1M155 121h1M158 121h1M160 121h1M164 121h1M165 121h1M57 122h1M63 122h1M66 122h1M70 122h1M73 122h1M75 122h1M76 122h1M77 122h1M81 122h1M82 122h1M83 122h1M84 122h1M88 122h1M89 122h1M91 122h1M96 122h1M99 122h1M100 122h1M102 122h1M105 122h1M106 122h1M107 122h1M111 122h1M114 122h1M115 122h1M119 122h1M120 122h1M121 122h1M123 122h1M125 122h1M126 122h1M134 122h1M138 122h1M141 122h1M144 122h1M148 122h1M152 122h1M153 122h1M154 122h1M163 122h1M168 122h1M171 122h1M56 123h1M60 123h1M63 123h1M65 123h1M70 123h1M72 123h1M74 123h1M75 123h1M76 123h1M78 123h1M82 123h1M83 123h1M85 123h1M86 123h1M87 123h1M88 123h1M89 123h1M90 123h1M91 123h1M99 123h1M100 123h1M102 123h1M103 123h1M104 123h1M109 123h1M112 123h1M119 123h1M127 123h1M130 123h1M131 123h1M133 123h1M139 123h1M142 123h1M144 123h1M58 124h1M59 124h1M61 124h1M62 124h1M67 124h1M72 124h1M75 124h1M77 124h1M78 124h1M83 124h1M84 124h1M85 124h1M87 124h1M88 124h1M90 124h1M91 124h1M93 124h1M94 124h1M99 124h1M104 124h1M106 124h1M107 124h1M114 124h1M116 124h1M126 124h1M131 124h1M132 124h1M137 124h1M159 124h1M71 125h1M72 125h1M74 125h1M76 125h1M77 125h1M79 125h1M81 125h1M83 125h1M84 125h1M85 125h1M89 125h1M90 125h1M92 125h1M93 125h1M97 125h1M100 125h1M102 125h1M103 125h1M108 125h1M113 125h1M115 125h1M116 125h1M117 125h1M118 125h1M122 125h1M123 125h1M124 125h1M133 125h1M136 125h1M139 125h1M145 125h1M149 125h1M154 125h1M156 125h1M157 125h1M57 126h1M68 126h1M69 126h1M70 126h1M71 126h1M72 126h1M78 126h1M79 126h1M80 126h1M81 126h1M83 126h1M85 126h1M86 126h1M88 126h1M89 126h1M94 126h1M96 126h1M97 126h1M98 126h1M101 126h1M102 126h1M107 126h1M111 126h1M118 126h1M123 126h1M126 126h1M129 126h1M131 126h1M144 126h1M149 126h1M153 126h1M234 126h1M64 127h1M69 127h1M73 127h1M76 127h1M77 127h1M78 127h1M79 127h1M80 127h1M81 127h1M87 127h1M89 127h1M91 127h1M95 127h1M96 127h1M100 127h1M120 127h1M121 127h1M127 127h1M132 127h1M136 127h1M140 127h1M149 127h1M151 127h1M156 127h1M161 127h1M61 128h1M67 128h1M68 128h1M73 128h1M75 128h1M76 128h1M77 128h1M78 128h1M79 128h1M82 128h1M83 128h1M84 128h1M88 128h1M91 128h1M92 128h1M96 128h1M101 128h1M103 128h1M107 128h1M108 128h1M109 128h1M122 128h1M125 128h1M134 128h1M136 128h1M139 128h1M167 128h1M59 129h1M62 129h1M63 129h1M65 129h1M67 129h1M68 129h1M69 129h1M74 129h1M75 129h1M76 129h1M77 129h1M78 129h1M79 129h1M80 129h1M82 129h1M83 129h1M84 129h1M85 129h1M86 129h1M90 129h1M91 129h1M92 129h1M95 129h1M97 129h1M98 129h1M99 129h1M101 129h1M106 129h1M114 129h1M130 129h1M144 129h1M145 129h1M148 129h1M151 129h1M171 129h1M68 130h1M72 130h1M74 130h1M75 130h1M76 130h1M80 130h1M81 130h1M82 130h1M85 130h1M87 130h1M92 130h1M93 130h1M94 130h1M106 130h1M124 130h1M125 130h1M135 130h1M142 130h1M145 130h1M150 130h1M156 130h1M66 131h1M67 131h1M69 131h1M70 131h1M71 131h1M73 131h1M74 131h1M77 131h1M78 131h1M81 131h1M82 131h1M85 131h1M86 131h1M87 131h1M88 131h1M92 131h1M93 131h1M98 131h1M99 131h1M102 131h1M106 131h1M110 131h1M114 131h1M121 131h1M148 131h1M151 131h1M158 131h1M59 132h1M65 132h1M68 132h1M71 132h1M72 132h1M73 132h1M75 132h1M77 132h1M78 132h1M81 132h1M82 132h1M83 132h1M85 132h1M86 132h1M87 132h1M92 132h1M93 132h1M95 132h1M96 132h1M99 132h1M100 132h1M104 132h1M106 132h1M111 132h1M112 132h1M115 132h1M117 132h1M118 132h1M132 132h1M138 132h1M158 132h1M160 132h1M64 133h1M66 133h1M70 133h1M71 133h1M72 133h1M74 133h1M76 133h1M77 133h1M78 133h1M81 133h1M83 133h1M84 133h1M86 133h1M87 133h1M90 133h1M99 133h1M100 133h1M101 133h1M102 133h1M103 133h1M104 133h1M106 133h1M113 133h1M118 133h1M126 133h1M137 133h1M150 133h1M240 133h1M59 134h1M69 134h1M72 134h1M73 134h1M78 134h1M83 134h1M84 134h1M87 134h1M91 134h1M94 134h1M105 134h1M112 134h1M114 134h1M117 134h1M122 134h1M126 134h1M139 134h1M147 134h1M196 134h1M68 135h1M69 135h1M71 135h1M72 135h1M73 135h1M74 135h1M76 135h1M81 135h1M82 135h1M83 135h1M84 135h1M87 135h1M88 135h1M91 135h1M96 135h1M97 135h1M104 135h1M107 135h1M111 135h1M113 135h1M117 135h1M123 135h1M148 135h1M56 136h1M67 136h1M74 136h1M75 136h1M79 136h1M80 136h1M81 136h1M82 136h1M85 136h1M87 136h1M98 136h1M99 136h1M100 136h1M104 136h1M107 136h1M114 136h1M144 136h1M54 137h1M64 137h1M67 137h1M68 137h1M72 137h1M73 137h1M74 137h1M76 137h1M79 137h1M83 137h1M86 137h1M87 137h1M88 137h1M89 137h1M96 137h1M98 137h1M106 137h1M119 137h1M130 137h1M132 137h1M140 137h1M56 138h1M57 138h1M62 138h1M63 138h1M64 138h1M66 138h1M67 138h1M69 138h1M73 138h1M76 138h1M79 138h1M81 138h1M82 138h1M83 138h1M86 138h1M87 138h1M89 138h1M90 138h1M98 138h1M102 138h1M110 138h1M113 138h1M114 138h1M115 138h1M124 138h1M127 138h1M141 138h1M66 139h1M68 139h1M74 139h1M75 139h1M78 139h1M81 139h1M82 139h1M83 139h1M84 139h1M87 139h1M93 139h1M95 139h1M96 139h1M99 139h1M108 139h1M119 139h1M139 139h1M65 140h1M66 140h1M72 140h1M78 140h1M80 140h1M83 140h1M86 140h1M87 140h1M94 140h1M103 140h1M105 140h1M111 140h1M115 140h1M125 140h1M62 141h1M68 141h1M71 141h1M72 141h1M73 141h1M74 141h1M76 141h1M77 141h1M86 141h1M100 141h1M111 141h1M134 141h1M146 141h1M59 142h1M61 142h1M66 142h1M71 142h1M73 142h1M77 142h1M79 142h1M81 142h1M83 142h1M84 142h1M86 142h1M95 142h1M108 142h1M112 142h1M129 142h1M133 142h1M55 143h1M65 143h1M71 143h1M72 143h1M73 143h1M75 143h1M78 143h1M83 143h1M85 143h1M86 143h1M87 143h1M90 143h1M92 143h1M105 143h1M113 143h1M117 143h1M133 143h1M135 143h1M56 144h1M62 144h1M63 144h1M68 144h1M71 144h1M74 144h1M75 144h1M86 144h1M88 144h1M114 144h1M116 144h1M134 144h1M161 144h1M60 145h1M63 145h1M67 145h1M74 145h1M78 145h1M82 145h1M84 145h1M86 145h1M88 145h1M90 145h1M91 145h1M95 145h1M120 145h1M135 145h1M68 146h1M71 146h1M72 146h1M74 146h1M75 146h1M77 146h1M79 146h1M83 146h1M85 146h1M87 146h1M105 146h1M109 146h1M64 147h1M66 147h1M78 147h1M82 147h1M86 147h1M98 147h1M132 147h1M64 148h1M71 148h1M78 148h1M80 148h1M81 148h1M84 148h1M86 148h1M92 148h1M98 148h1M148 148h1M61 149h1M72 149h1M76 149h1M77 149h1M78 149h1M80 149h1M90 149h1M91 149h1M94 149h1M95 149h1M102 149h1M127 149h1M53 150h1M54 150h1M63 150h1M65 150h1M69 150h1M82 150h1M84 150h1M92 150h1M64 151h1M80 151h1M82 151h1M84 151h1M86 151h1M87 151h1M90 151h1M93 151h1M104 151h1M136 151h1M56 152h1M68 152h1M75 152h1M76 152h1M81 152h1M84 152h1M87 152h1M89 152h1M68 153h1M71 153h1M76 153h1M77 153h1M78 153h1M97 153h1M64 154h1M67 154h1M72 154h1M73 154h1M80 154h1M82 154h1M96 154h1M102 154h1M61 155h1M68 155h1M72 155h1M73 155h1M74 155h1M81 155h1M83 155h1M93 155h1M117 155h1M57 156h1M69 156h1M76 156h1M81 156h1M107 156h1M59 157h1M76 157h1M77 157h1M74 158h1M59 159h1M70 159h1M88 159h1M63 160h1M72 160h1M73 160h1M85 160h1M115 160h1M78 161h1M79 162h1M85 164h1" stroke="#262626" stroke-width="1" fill="none" shape-rendering="crispEdges" transform="translate(0 .5)"/>
<path d="M92 89h1M89 91h1M91 91h1M92 91h1M96 91h1M85 92h1M89 92h1M94 92h1M100 92h1M88 93h1M89 93h1M93 93h1M95 93h1M98 93h1M102 93h1M84 94h1M90 94h1M91 94h1M92 94h1M94 94h1M96 94h1M99 94h1M82 95h1M83 95h1M86 95h1M88 95h1M89 95h1M90 95h1M95 95h1M96 95h1M98 95h1M99 95h1M78 96h1M89 96h1M92 96h1M94 96h1M96 96h1M99 96h1M102 96h1M81 97h1M84 97h1M87 97h1M89 97h1M90 97h1M91 97h1M92 97h1M94 97h1M97 97h1M98 97h1M101 97h1M80 98h1M87 98h1M88 98h1M89 98h1M94 98h1M95 98h1M99 98h1M101 98h1M86 99h1M89 99h1M90 99h1M92 99h1M94 99h1M95 99h1M96 99h1M98 99h1M100 99h1M84 100h1M85 100h1M86 100h1M87 100h1M89 100h1M90 100h1M91 100h1M92 100h1M93 100h1M94 100h1M96 100h1M99 100h1M100 100h1M101 100h1M82 101h1M84 101h1M95 101h1M102 101h1M105 101h1M83 102h1M84 102h1M85 102h1M90 102h1M91 102h1M92 102h1M94 102h1M95 102h1M98 102h1M81 103h1M84 103h1M86 103h1M87 103h1M88 103h1M93 103h1M96 103h1M100 103h1M85 104h1M87 104h1M90 104h1M91 104h1M93 104h1M95 104h1M96 104h1M81 105h1M86 105h1M87 105h1M89 105h1M91 105h1M94 105h1M95 105h1M88 106h1M91 106h1M96 106h1M97 106h1M100 106h1M85 107h1M91 107h1M92 107h1M94 107h1M98 107h1M85 108h1M88 108h1M89 108h1M90 108h1M96 108h1M97 108h1M83 109h1M86 109h1M90 109h1M92 109h1M99 109h1M86 110h1M88 110h1M89 110h1M98 110h1M89 111h1M94 111h1M93 112h1M96 112h1" stroke="#b0b0b0" stroke-width="1" fill="none" shape-rendering="crispEdges" transform="translate(0 .5)"/>
<rect x="51" y="1.6" width="190.6" height="189.5" fill="none" stroke="#1a1a1a" stroke-width="1.3"/>
<path d="M46.5 19.1H51M46.5 61.2H51M46.5 105.5H51M46.5 150.4H51M46.5 171.4H51M49.2 136.9H51M49.2 129H51M49.2 123.4H51M49.2 119H51M49.2 115.5H51M49.2 112.5H51M49.2 109.9H51M49.2 107.6H51M49.2 92.2H51M49.2 84.4H51M49.2 78.8H51M49.2 74.5H51M49.2 71H51M49.2 68.1H51M49.2 65.5H51M49.2 63.2H51M49.2 48.5H51M49.2 41.1H51M49.2 35.9H51M49.2 31.8H51M49.2 28.4H51M49.2 25.6H51M49.2 23.2H51M49.2 21H51M49.2 6.4H51M49.2 167.6H51M49.2 164.3H51M49.2 161.3H51M49.2 158.8H51M49.2 156.7H51M49.2 154.8H51M49.2 153.1H51M49.2 151.7H51M49.2 175.2H51M49.2 178.5H51M49.2 181.5H51M49.2 184H51M49.2 186.1H51M49.2 188H51M49.2 189.7H51M71.2 191.1V196.6M91.7 191.1V196.6M137 191.1V196.6M180.8 191.1V196.6M224 191.1V196.6M105.3 191.1V193.7M113.3 191.1V193.7M119 191.1V193.7M123.4 191.1V193.7M127 191.1V193.7M130 191.1V193.7M132.6 191.1V193.7M134.9 191.1V193.7M150.2 191.1V193.7M157.9 191.1V193.7M163.4 191.1V193.7M167.6 191.1V193.7M171.1 191.1V193.7M174 191.1V193.7M176.6 191.1V193.7M178.8 191.1V193.7M193.8 191.1V193.7M201.4 191.1V193.7M206.8 191.1V193.7M211 191.1V193.7M214.4 191.1V193.7M217.3 191.1V193.7M219.8 191.1V193.7M222 191.1V193.7M237 191.1V193.7M74.9 191.1V193.7M78.2 191.1V193.7M81 191.1V193.7M83.5 191.1V193.7M85.5 191.1V193.7M87.4 191.1V193.7M89 191.1V193.7M90.5 191.1V193.7M67.5 191.1V193.7M64.2 191.1V193.7M61.4 191.1V193.7M58.9 191.1V193.7M56.9 191.1V193.7M55 191.1V193.7M53.4 191.1V193.7M51.9 191.1V193.7" stroke="#1a1a1a" stroke-width="0.9" fill="none"/>
<path d="M70.9 191.1V195.6M47.5 171.4H51" stroke="#1a1a1a" stroke-width="1.8" fill="none"/>
<text x="43.5" y="22.2" text-anchor="end" class="tk">10<tspan dy="-3.2" class="sp">5</tspan></text>
<text x="43.5" y="64.3" text-anchor="end" class="tk">10<tspan dy="-3.2" class="sp">4</tspan></text>
<text x="43.5" y="108.6" text-anchor="end" class="tk">10<tspan dy="-3.2" class="sp">3</tspan></text>
<text x="43.5" y="153.5" text-anchor="end" class="tk">10<tspan dy="-3.2" class="sp">2</tspan></text>
<text x="42.5" y="174.5" text-anchor="end" class="tk">0</text>
<text x="72.2" y="209.7" text-anchor="middle" class="tk">0</text>
<text x="90.9" y="209.7" text-anchor="middle" class="tk">10<tspan dy="-3.2" class="sp">2</tspan></text>
<text x="136.2" y="209.7" text-anchor="middle" class="tk">10<tspan dy="-3.2" class="sp">3</tspan></text>
<text x="180" y="209.7" text-anchor="middle" class="tk">10<tspan dy="-3.2" class="sp">4</tspan></text>
<text x="223.2" y="209.7" text-anchor="middle" class="tk">10<tspan dy="-3.2" class="sp">5</tspan></text>
<text x="145.8" y="226.3" text-anchor="middle" class="ti">Live/dead marker</text>
<text transform="translate(17 93.5) rotate(-90)" text-anchor="middle" class="ti">SSC</text>
<rect x="51.5" y="18.1" width="74.7" height="143.9" fill="none" stroke="#1a1a1a" stroke-width="1"/>
<text x="152" y="164.3" class="pc">88%</text>
<path d="M126.2 48H286" stroke="#1a1a1a" stroke-width="1.15" fill="none"/>
<path d="M290 48l-5.5 -1.9v3.8z" fill="#1a1a1a"/>
<path d="M401.2 61 402.5 60.7 404 60.6 405.5 60.8 406.5 61 408 61.2 409.5 61.5 410.5 61.8 411.5 62.1 412.6 62.5 414 63 415 63.4 416 64 416.7 64.5 417.5 65.4 418 66 418.8 67 419.5 67.7 420.5 68.5 421.2 69 422 69.6 423 70.3 423.8 71 424.5 71.7 425.2 72.5 425.8 73.5 426.3 74.5 426.6 75.5 426.9 77 427.2 78 427.5 79 428 80.2 428.5 81.5 428.7 82.5 429 84 429.2 85 429.5 86 429.9 87.5 430.1 88.5 430.2 90 430 91.2 429.7 92.5 429.5 93.5 429.2 95 429.1 96.5 429 97.9 429 99 429 100 429.1 101.5 429 103 429 104 428.8 105.5 428.7 107 428.6 108.5 428.5 109.5 428.3 111 428.3 112.5 428.5 113.5 429 114.6 429.5 115.8 429.8 117 430 118 430.3 119.5 430.6 120.5 431 122 431.2 123 431.5 124.5 431.6 125.5 431.6 127 431.5 128 431.2 129.5 431 130.5 430.6 132 430.4 133 430.1 134.5 429.9 135.5 429.5 136.7 429 138 428.6 139 428.1 140 427.5 140.5 426.5 141 425 141.1 424 140.8 423 140.2 422.2 139.5 421.5 138.8 420.8 138 420 137.1 419.5 136.4 419 135.4 418.5 134 418.3 133 418 131.7 417.7 130.5 417.4 129.5 417 128.1 416.8 127 416.5 125.8 416 124.9 415 124.4 413.5 124.3 412 124.4 410.5 124.3 409 124.1 408 123.9 406.5 123.6 405.5 123.4 404 123.1 402.9 123 401.5 122.7 400.5 122.3 399.5 121.9 398.5 121.4 397.5 121 396.4 120.5 395.2 120 394 119.5 393 119.1 392 118.8 391 118.4 389.7 118 388.5 117.6 387.5 117.1 386.5 116.5 385.7 116 384.9 115.5 384 114.9 383 114.2 382 113.7 381 113.1 380 112.6 379 112.1 378 111.7 377 111.4 375.9 111 374.7 110.5 373.7 110 372.7 109.5 371.6 109 370.5 108.6 369.5 108.1 368.5 107.7 367.5 107.4 366.4 107 365 106.6 364 106.3 363 105.9 362 105.4 361 104.9 360 104.4 358.9 104 357.5 103.6 356.5 103.2 355.5 102.8 354.5 102.3 353.5 101.6 352.8 101 352 100.2 351.2 99.5 350.5 98.9 349.5 98.3 348.5 97.8 347.5 97.4 346 97.1 345 96.9 343.5 96.6 342.5 96.4 341 96.2 339.5 96.3 338.3 96.5 337 96.7 335.5 96.9 334.5 97.1 333 97.4 331.5 97.2 331 96.4 330.7 95 330.6 93.5 330.6 92 330.6 90.5 330.7 89 330.8 87.5 331 86.4 331.5 85.5 333 85.5 334 85.9 335 86.3 336 86.6 337.5 86.9 339 87 340 87 341.5 87.2 343 87.4 344.5 87.4 346 87.1 347 86.7 348 86.2 349 85.7 350 85.2 351 84.8 352.5 84.5 353.5 84.5 355 84.3 356.5 84 357.5 83.7 358.5 83.2 359.5 82.7 360.5 82.2 361.5 81.7 362.5 81.3 363.5 80.9 364.5 80.5 365.9 80 367 79.5 367.8 79 368.6 78.5 369.5 77.8 370.5 77.2 371.5 76.6 372.5 76 373.4 75.5 374.3 75 375.2 74.5 376.1 74 377.1 73.5 378.2 73 379.2 72.5 380.2 72 381.2 71.5 382.1 71 383 70.4 384 69.6 384.9 69 385.7 68.5 386.7 68 388 67.5 389 67.1 390 66.7 391 66.2 392 65.6 392.9 65 393.5 64.5 394.5 63.7 395.5 63 396.5 62.5 397.5 62.2 398.5 61.9 399.8 61.5 401 61 401.2 61M331.8 115.5 333 115.5 333.5 116.5 333.7 117.5 334 118.8 334.2 120 334.3 121.5 334.5 123 334.6 124 334.7 125.5 334.9 127 335 128.3 335.1 129.5 335.2 131 335.4 132.5 335.7 133.5 336 134.5 336.5 135.5 337.2 136.5 338 137.3 339 137.6 340.5 137.7 341.6 137.5 343 137.1 344 136.7 345 136.2 345.9 135.5 346.5 135 347.5 134.2 348.5 133.5 349.5 133.1 350.5 132.8 352 132.9 353 133.1 354.5 133.4 356 133.5 357 133.5 358 133.5 359.5 133.4 361 133.4 362 133.5 363.5 134 364.5 134.5 365.5 135 366.4 135.5 367.2 136 368 136.7 368.8 137.5 369.5 138.3 370.2 139 371 139.9 371.5 140.5 372.3 141.5 372.9 142.5 373.4 143.5 373.8 144.5 374.1 145.5 374.6 146.5 375.3 147.5 376 148.4 376.5 149 377.1 150 377.5 151.1 377.7 152.5 377.8 154 377.9 155.5 378 156.5 378.1 158 378.2 159.5 378.1 161 378 162.5 377.9 163.5 377.6 165 377.3 166 376.9 167 376.4 168 376 169.1 375.6 170.5 375.4 171.5 375 173 374.6 174 374.1 175 373.5 175.7 372.6 176.5 372 177 371 177.6 370 178.3 369 178.9 368.2 179.5 367.5 180.1 366.5 180.9 365.7 181.5 365 182 364 182.5 362.8 183 361.5 183.3 360 183.5 359 183.6 357.5 183.7 356 184 355 184.2 353.5 184.4 352.5 184.6 351 184.6 349.9 184.5 348.5 184.4 347 184.2 345.5 184.2 344 184.3 342.5 184.3 341 184.2 339.5 184 338.5 183.9 337 183.6 336 183.5 334.5 183.2 333.5 182.9 332.4 182.5 331.5 182 330.9 181 330.6 179.5 330.5 178 330.6 176.5 330.7 175 330.8 173.5 331 172.1 331.2 171 331.4 169.5 331.6 168.5 331.6 167 331.7 165.5 331.8 164 331.8 162.5 331.7 161 331.6 159.5 331.5 158.5 331.4 157 331.3 155.5 331.2 154 331.1 152.5 331 151 331 150 330.8 148.5 330.7 147 330.6 145.5 330.6 144 330.5 142.5 330.5 141.5 330.5 140 330.5 138.5 330.5 137 330.5 135.5 330.5 134.5 330.6 133 330.6 131.5 330.6 130 330.6 128.5 330.7 127 330.7 125.5 330.7 124 330.7 122.5 330.8 121 330.9 119.5 331 118.3 331.2 117 331.5 115.9 331.8 115.5M402.2 65.5 403.5 65.4 404.5 65.6 405.8 66 407 66.4 408 66.7 409 67 410.3 67.5 411.3 68 412.4 68.5 413.3 69 414.2 69.5 415 70 416 70.8 416.8 71.5 417.5 72.1 418.4 73 419 73.5 420 74.4 420.6 75 421.4 76 422 77 422.4 78 422.7 79 423 80.5 423.2 81.5 423.5 83 423.6 84 423.9 85.5 424.2 86.5 424.6 87.5 425.1 88.5 425.5 90 425.5 91 425.5 92.3 425.4 93.5 425.1 95 424.9 96 424.6 97.5 424.4 98.5 424.1 100 423.9 101 423.6 102.5 423.3 103.5 422.9 104.5 422.4 105.5 422 106.5 421.5 107.5 420.6 108.5 420 109.1 419.2 110 418.5 110.8 418 111.5 417.2 112.5 416.5 113.3 415.5 114 414.5 114.4 413.5 114.7 412.2 115 411 115.3 410 115.6 408.6 116 407.5 116.3 406 116.4 404.5 116.4 403 116.3 401.5 116.4 400 116.4 398.5 116.3 397.3 116 396 115.5 395 115 394.1 114.5 393.1 114 392 113.5 391 113.2 390 112.9 389 112.5 387.8 112 386.6 111.5 385.5 111 384.5 110.6 383.5 110.2 382.5 109.7 381.5 109.2 380.5 108.8 379.5 108.4 378.2 108 377 107.6 376 107.2 375 106.8 374 106.3 373 105.8 372 105.4 371 105 369.5 104.5 368.5 104.2 367.5 103.8 366.5 103.3 365.5 102.8 364.5 102.3 363.5 101.7 362.5 101.3 361.5 100.8 360.5 100.3 359.5 99.8 358.5 99 357.9 98.5 357 97.6 356.4 97 355.5 96.3 354.5 95.9 353.5 95.5 352.3 95 351.5 94.5 350.6 93.5 350.5 92.5 351 91.7 351.9 91 352.7 90.5 353.9 90 355 89.7 356 89.4 357 89 358 88.5 359 87.7 359.8 87 360.5 86.4 361.5 85.8 362.5 85.2 363.5 84.7 364.5 84.2 365.5 83.8 366.5 83.4 367.6 83 368.6 82.5 369.5 81.9 370.5 81.2 371.4 80.5 372.1 80 373 79.4 374 78.9 375 78.5 376.3 78 377.4 77.5 378.3 77 379.1 76.5 380 75.9 381 75.2 382 74.6 383 74.1 384 73.7 385 73.3 386 72.9 387 72.5 388 71.9 389 71.3 390 70.7 391 70.1 392 69.6 393 69.2 394 68.8 395 68.2 396 67.7 397 67.2 398 66.8 399 66.4 400.4 66 401.5 65.7 402.2 65.5M332.8 138 333.5 138.4 333.8 139.5 334 141 333.8 141.5 333 141.1 332.7 140 332.6 138.5 332.8 138M354.3 138.5 355.2 138.5 356.5 138.7 357.8 139 359 139.4 360 139.8 361 140.2 362 140.6 363.5 141 364.5 141.2 365.5 141.6 366.5 142.3 367.3 143 368 143.8 368.5 144.7 369 145.9 369.4 147 369.7 148 370.2 149 370.6 150 371.2 151 371.6 152 372.1 153 372.6 154 373 155 373.5 156.4 373.8 157.5 373.9 159 373.7 160.5 373.4 161.5 373 162.6 372.5 164 372.2 165 372 166.5 372 168 372 169.5 372 170.5 371.6 172 371.1 173 370.5 173.7 369.7 174.5 369 175.1 368 176 367.3 176.5 366.5 177.1 365.5 177.9 364.7 178.5 363.9 179 363 179.5 362 180 360.5 180.5 359.5 180.7 358.1 181 357 181.3 356 181.5 354.5 181.9 353.5 182.1 352 182.2 350.5 182.3 349 182.2 347.5 182.1 346 182.1 344.5 182.2 343 182.3 341.5 182.3 340 182 339 181.8 337.8 181.5 336.5 181.2 335.5 180.9 334.5 180.5 333.5 179.7 333 178.9 332.9 177.5 333 176.2 333.2 175 333.5 173.9 333.9 172.5 334.1 171.5 334.3 170 334.4 168.5 334.5 167.3 334.6 166 334.7 164.5 334.8 163 334.9 161.5 335 160.5 335.1 159 335.3 157.5 335.5 156 335.6 155 335.8 153.5 336 152 336.2 151 336.5 149.9 336.9 148.5 337.1 147.5 337.4 146 337.6 145 338 143.7 338.5 143 339.5 142.1 340.5 141.6 341.5 141.3 343 141 344 140.9 345.5 140.7 346.5 140.5 348 140.1 349 139.9 350.5 139.5 351.5 139.2 352.5 138.9 354 138.5 354.3 138.5M400.1 69 401.5 68.6 403 68.6 404.3 69 405.4 69.5 406.5 69.9 407.5 70.2 408.6 70.5 410 70.9 411 71.3 412 71.8 413 72.5 413.6 73 414.5 73.7 415.5 74.4 416.3 75 417 75.5 418 76.2 418.8 77 419.5 78 419.9 79 420.2 80 420.4 81.5 420.6 82.5 420.7 84 420.9 85.5 421.1 86.5 421.5 87.7 422 88.9 422.5 90 422.7 91 422.9 92.5 422.9 94 422.7 95.5 422.5 96.6 422.2 98 422 99 421.5 100.2 421 101.3 420.5 102.3 420 103.1 419.4 104 418.5 105 418 105.5 417 106.4 416.4 107 415.5 107.9 414.8 108.5 414 109.2 413 110 412.2 110.5 411.3 111 410.3 111.5 409 112 408 112.4 407 112.6 405.5 112.9 404 113 402.5 112.9 401 112.8 399.5 112.7 398.4 112.5 397 112.2 396 111.8 395 111.4 394 111 392.5 110.5 391.5 110.2 390.5 109.8 389.5 109.5 388.2 109 387 108.7 386 108.4 384.5 108 383.5 107.6 382.5 107.2 381.5 106.7 380.5 106.3 379.5 105.9 378.2 105.5 377 105.2 376 104.8 375 104.4 374 104 373 103.4 372 102.9 371 102.5 369.8 102 368.5 101.5 367.6 101 366.8 100.5 366 99.8 365.1 99 364.5 98.5 363.5 97.7 362.6 97 362 96.4 361.4 95.5 361 94 361.2 92.5 361.5 91.5 362 90.5 362.6 89.5 363.4 88.5 364 87.9 365 87 365.8 86.5 366.6 86 367.6 85.5 368.5 85 369.5 84.4 370.5 83.7 371.3 83 372 82.4 373 81.6 373.9 81 375 80.5 376 80.2 377 79.9 378.1 79.5 379.2 79 380 78.5 381 77.8 382 77.1 383 76.5 384 76 385 75.6 386 75.2 387 74.8 388 74.4 389 73.9 390 73.3 391 72.6 391.9 72 393 71.5 394 71.1 395 70.9 396.3 70.5 397.5 70.1 398.5 69.6 399.5 69.2 400.1 69M356.2 143 357.5 142.9 358.5 143.1 359.9 143.5 361 144 362 144.5 362.9 145 363.5 145.5 364.4 146.5 365 147.4 365.5 148.3 366 149.3 366.5 150.5 366.9 151.5 367.3 152.5 367.8 153.5 368.5 154.4 369 155 369.8 156 370.3 157 370.5 158 370.4 159 370 160.5 369.8 161.5 369.7 163 369.7 164.5 369.7 166 369.7 167.5 369.7 169 369.5 170.5 369.2 171.5 368.6 172.5 368 173.3 367.4 174 366.5 174.9 365.8 175.5 365 176 364 176.7 363 177.2 362 177.8 361 178.2 360 178.6 358.9 179 357.5 179.4 356.5 179.7 355.5 180 354 180.4 353 180.6 351.5 180.8 350 180.8 348.5 180.7 347 180.6 345.5 180.6 344 180.7 342.5 180.7 341.2 180.5 340 180.1 339 179.7 338 179.1 337.1 178.5 336.5 177.6 336.2 176.5 336.2 175 336.3 173.5 336.4 172 336.4 170.5 336.3 169 336.3 167.5 336.4 166 336.5 164.6 336.6 163.5 336.9 162 337 161 337.2 159.5 337.5 158.1 337.8 157 338.2 156 338.5 155 339 153.6 339.3 152.5 339.6 151.5 340 150.4 340.5 149 340.8 148 341.1 147 341.5 146 342.1 145 343 144.3 344 144 345.5 143.7 346.5 143.5 348 143.4 349.5 143.4 351 143.5 352 143.6 353.5 143.5 354.5 143.4 356 143 356.2 143M400.4 71.5 401.5 71.2 403 71.2 404.1 71.5 405.5 71.9 406.5 72.2 407.8 72.5 409 72.8 410 73.2 411 73.7 412 74.3 412.9 75 413.5 75.5 414.5 76.2 415.5 76.9 416.3 77.5 417 78.2 417.6 79 418 80 418.5 81.5 418.6 82.5 418.8 84 418.9 85.5 419 86.5 419.5 88 419.9 89 420.2 90 420.5 91.2 420.6 92.5 420.5 94 420.4 95 420.2 96.5 419.9 97.5 419.5 98.7 419 99.6 418.5 100.5 417.9 101.5 417.2 102.5 416.5 103.4 416 104 415 105 414.5 105.5 413.5 106.3 412.6 107 411.9 107.5 411 108.2 410 108.8 409 109.3 408 109.6 406.5 109.7 405 109.8 403.5 109.9 402.5 110.1 401 110.2 399.5 110.2 398.1 110 397 109.7 396 109.3 395 109 393.5 108.5 392.5 108.2 391.5 107.9 390.5 107.5 389 107 388 106.8 386.7 106.5 385.5 106.2 384.5 105.8 383.5 105.4 382.5 104.9 381.5 104.4 380.5 104 379.2 103.5 378 103.2 377 102.9 375.6 102.5 374.6 102 373.9 101.5 373 100.8 372 100 371.2 99.5 370.3 99 369.2 98.5 368.3 98 367.5 97.4 366.7 96.5 366 95.5 365.5 94.5 365.2 93.5 365.3 92 365.7 91 366.2 90 367 89 367.5 88.4 368.5 87.5 369.1 87 370 86.3 370.9 85.5 371.5 84.9 372.5 84 373 83.5 374 82.7 375 82.1 376 81.8 377 81.5 378.4 81 379.5 80.5 380.4 80 381.2 79.5 382 79 383 78.3 384 77.7 385 77.2 386 76.7 387 76.3 388 76 389.1 75.5 390.1 75 391 74.4 392 73.8 393 73.2 394 72.9 395.5 72.6 396.5 72.5 398 72.2 399 71.9 400.4 71.5M348.8 146.5 350 146.3 351.5 146.3 353 146.5 354 146.6 355.5 146.6 356.5 146.5 358 146.3 359.2 146.5 360.1 147 361 147.8 361.6 148.5 362.4 149.5 363 150.2 363.5 151 364.1 152 364.6 153 365 154 365.5 155.1 366 156.3 366.3 157.5 366.4 159 366.5 160.5 366.7 161.5 367 162.7 367.3 164 367.5 165.2 367.6 166.5 367.7 168 367.7 169.5 367.5 170.6 367 172 366.5 172.8 366 173.5 365 174.4 364.1 175 363.3 175.5 362.3 176 361.3 176.5 360.3 177 359.1 177.5 358 177.9 357 178.2 356 178.6 354.7 179 353.5 179.3 352.2 179.5 351 179.6 349.5 179.6 348 179.5 347 179.5 345.5 179.4 344 179.3 342.5 179.1 341.5 178.7 340.5 178.1 339.8 177.5 339.1 176.5 338.6 175.5 338.4 174.5 338.1 173 338 172 337.8 170.5 337.7 169 337.7 167.5 337.8 166 338 164.7 338.3 163.5 338.6 162.5 339 161.2 339.3 160 339.5 159 340 157.6 340.5 156.6 341 155.8 341.5 154.9 342 154 342.5 153 343.1 152 343.7 151 344.4 150 345 149.1 345.5 148.4 346.5 147.5 347.4 147 348.5 146.6 348.8 146.5M400.2 73.5 401.5 73.3 403 73.2 404.5 73.4 405.5 73.5 407 73.8 408 74.1 409.1 74.5 410.1 75 411 75.6 412 76.4 412.7 77 413.5 77.7 414.5 78.4 415.1 79 416 80 416.5 80.9 416.9 82 417.1 83 417.2 84.5 417.3 86 417.5 87 417.9 88.5 418.2 89.5 418.5 90.7 418.6 92 418.5 93 418.1 94.5 417.8 95.5 417.5 96.5 417 98 416.6 99 416.1 100 415.6 101 415 102 414.5 102.7 413.9 103.5 413 104.3 412.1 105 411.4 105.5 410.5 106.1 409.5 106.7 408.5 107.2 407.2 107.5 406 107.6 404.5 107.7 403 107.9 402 108.1 400.5 108.3 399 108.3 398 108 396.5 107.5 395.5 107.2 394.5 106.9 393 106.5 392 106.2 391 105.9 389.8 105.5 388.5 105.1 387.5 104.8 386.5 104.5 385.4 104 384.3 103.5 383.2 103 382 102.5 381 102.1 380 101.8 379 101.4 377.8 101 376.6 100.5 375.7 100 375 99.5 374 98.7 373.2 98 372.5 97.4 371.5 96.7 370.6 96 370 95.5 369.2 94.5 368.8 93.5 368.8 92 369 91 369.6 90 370.3 89 371 88.2 371.6 87.5 372.4 86.5 373 85.8 373.7 85 374.5 84.3 375.5 83.6 376.5 83.2 377.5 82.8 378.5 82.4 379.5 81.9 380.5 81.3 381.5 80.7 382.5 80.1 383.4 79.5 384.2 79 385.1 78.5 386 78 387.2 77.5 388.5 77 389.5 76.6 390.5 76.2 391.5 75.6 392.5 75 393.5 74.5 394.5 74.2 395.5 74 397 73.9 398.5 73.7 400 73.5 400.2 73.5M350 148.5 351 148.4 352 148.7 353 149.1 354 149.7 355 150 356.5 150.1 358 150.2 359.1 150.5 360.1 151 361 151.7 361.7 152.5 362.4 153.5 362.8 154.5 363.2 155.5 363.4 157 363.5 158 363.7 159.5 364 161 364.3 162 364.7 163 365.1 164 365.5 165.2 365.8 166.5 366 168 366 169 366 170 365.7 171.5 365.1 172.5 364.5 173.2 363.5 174 362.7 174.5 361.7 175 360.8 175.5 359.7 176 358.6 176.5 357.5 176.9 356.5 177.3 355.5 177.6 354.2 178 353 178.3 351.5 178.5 350.5 178.5 349 178.6 347.5 178.5 346.5 178.4 345 178.2 343.9 178 342.6 177.5 341.9 177 341 176.1 340.5 175.4 340 174.4 339.5 173 339.2 172 339 170.7 338.9 169.5 338.8 168 339 166.5 339.1 165.5 339.5 164.3 340 163 340.4 162 340.7 161 341 160 341.5 158.5 341.9 157.5 342.5 156.5 343 155.7 343.5 154.9 344.1 154 345 153 345.5 152.4 346.3 151.5 347 150.6 347.6 150 348.5 149.2 349.5 148.6 350 148.5M398.2 75 399.5 74.9 401 74.8 402.5 74.7 404 74.7 405.5 74.8 406.6 75 408 75.4 409 75.9 409.9 76.5 410.5 77 411.5 77.9 412.2 78.5 413 79.2 413.9 80 414.5 80.6 415.1 81.5 415.5 82.5 415.9 84 416 85.2 416.2 86.5 416.4 88 416.7 89 416.9 90.5 416.9 92 416.6 93.5 416.3 94.5 415.9 95.5 415.5 96.9 415.1 98 414.7 99 414.2 100 413.6 101 413 101.8 412.4 102.5 411.5 103.3 410.5 104 409.7 104.5 408.8 105 407.7 105.5 406.5 105.8 405.2 106 404 106.1 402.5 106.4 401.5 106.5 400 106.6 398.9 106.5 397.5 106.1 396.5 105.8 395.1 105.5 394 105.3 393 105 391.5 104.6 390.5 104.2 389.5 103.8 388.5 103.4 387.5 102.9 386.5 102.3 385.5 101.7 384.5 101.3 383.5 101 382 100.6 381 100.3 380 99.9 378.9 99.5 377.8 99 376.9 98.5 376 97.9 375 97.1 374.3 96.5 373.5 95.7 372.8 95 372 94 371.6 93 371.7 91.5 372.2 90.5 373 89.5 373.5 89 374.2 88 374.8 87 375.5 86 376 85.4 377 84.6 378 84.1 379 83.6 380 83 380.7 82.5 381.5 81.9 382.5 81.3 383.5 80.6 384.5 80 385.5 79.5 386.4 79 387.4 78.5 388.5 78.1 389.5 77.7 390.5 77.3 391.5 76.9 392.5 76.3 393.5 75.8 394.5 75.4 396 75.1 397.5 75 398.2 75M349.2 151.5 350.5 151.2 351.6 151.5 352.9 152 354 152.3 355 152.5 356.5 152.6 358 152.8 359 153.1 360 153.9 360.5 154.5 361 155.7 361.3 157 361.5 158 361.8 159.5 362 160.5 362.4 162 362.8 163 363.2 164 363.6 165 364 166 364.4 167.5 364.5 169 364.5 169.5 364.3 171 363.8 172 363 172.9 362.2 173.5 361.4 174 360.5 174.5 359.5 175 358.5 175.5 357.2 176 356 176.4 355 176.7 354 177 352.5 177.4 351.5 177.5 350 177.6 348.5 177.7 347 177.6 346 177.4 344.5 177 343.5 176.5 342.8 176 342 175.2 341.5 174.5 340.9 173.5 340.5 172.5 340.1 171 339.9 170 339.8 168.5 340 167 340.2 166 340.5 164.9 341 163.5 341.4 162.5 341.7 161.5 342.1 160.5 342.5 159.2 343 158 343.5 157.1 344 156.3 344.6 155.5 345.4 154.5 346 153.9 347 153 347.6 152.5 348.5 151.9 349.2 151.5M401.1 76 402.5 75.9 404 75.9 405.5 76 406.5 76.1 407.6 76.5 408.5 77 409.5 77.7 410.4 78.5 411 79.1 412 79.9 412.7 80.5 413.5 81.4 414 82.1 414.5 83.2 414.8 84.5 415 85.8 415.2 87 415.4 88.5 415.6 89.5 415.6 91 415.5 92 415.1 93.5 414.9 94.5 414.5 95.7 414.1 97 413.7 98 413.2 99 412.5 100 412 100.6 411.1 101.5 410.5 102 409.5 102.6 408.5 103.2 407.5 103.7 406.5 104 405 104.3 403.9 104.5 402.5 104.8 401.3 105 400 105.1 399 105 397.5 104.7 396.5 104.5 395 104.2 394 103.9 392.5 103.5 391.5 103.2 390.5 102.8 389.5 102.3 388.5 101.7 387.5 101.1 386.5 100.5 385.6 100 384.5 99.5 383.5 99.2 382.5 99 381 98.5 380 98.2 379 97.7 378 97.2 377 96.6 376.3 96 375.5 95.1 375 94.4 374.5 93 374.9 91.5 375.4 90.5 375.9 89.5 376.3 88.5 376.7 87.5 377.3 86.5 378 85.7 379 85 379.8 84.5 380.5 84 381.5 83.2 382.4 82.5 383.1 82 384 81.5 385 80.9 386 80.3 387 79.8 388 79.3 389 78.9 390 78.5 391.3 78 392.5 77.5 393.5 77 394.5 76.6 395.5 76.3 397 76.1 398.5 76.1 400 76 401.1 76M348.9 153.5 350 153.3 351.5 153.4 352.5 153.6 354 154 355 154.1 356.5 154.5 357.5 154.8 358.4 155.5 359 156.3 359.5 157.4 359.9 158.5 360.2 159.5 360.6 160.5 361 161.9 361.4 163 361.7 164 362.1 165 362.5 166 362.9 167.5 363 168.5 363 169.8 362.8 171 362.2 172 361.5 172.7 360.5 173.4 359.6 174 358.6 174.5 357.5 175 356.5 175.3 355.5 175.7 354.4 176 353 176.4 352 176.6 350.5 176.8 349 176.9 347.5 176.9 346 176.6 345 176.3 344 175.7 343.2 175 342.5 174.1 342 173.4 341.5 172.4 341 171 340.8 170 340.8 168.5 341 167 341.2 166 341.5 164.9 342 163.5 342.3 162.5 342.7 161.5 343.1 160.5 343.5 159.3 344 158.2 344.5 157.3 345 156.5 345.9 155.5 346.5 155 347.5 154.2 348.5 153.6 348.9 153.5M400.7 77 402 77 403.5 76.9 405 77 406 77.1 407.2 77.5 408.1 78 409 78.7 409.9 79.5 410.5 80 411.5 80.8 412.2 81.5 413 82.5 413.5 83.5 413.8 84.5 414 85.5 414.2 87 414.4 88.5 414.5 90 414.3 91.5 414 93 413.8 94 413.5 95 413 96.4 412.5 97.5 412 98.4 411.5 99.1 410.7 100 410 100.6 409 101.2 408 101.8 407 102.2 406 102.5 404.5 102.9 403.5 103.1 402 103.4 401 103.6 399.5 103.7 398 103.6 397 103.3 395.5 103 394.5 102.8 393.3 102.5 392 102.1 391 101.7 390 101.2 389 100.6 388 100 387.2 99.5 386.3 99 385.4 98.5 384.2 98 383 97.5 382 97.2 381 96.8 380 96.3 379 95.8 378 95 377.5 94.4 377 93 377 92.4 377.2 91 377.5 89.8 377.9 88.5 378.3 87.5 379 86.6 379.7 86 380.5 85.4 381.5 84.6 382.2 84 383 83.3 384 82.6 385 82 385.9 81.5 386.8 81 387.6 80.5 388.6 80 389.8 79.5 391 79.1 392 78.7 393 78.3 394 77.8 395 77.5 396.5 77.1 398 77 399.5 77 400.7 77M348.4 155 349.5 154.7 351 154.7 352.5 155 353.5 155.2 354.7 155.5 355.9 156 356.7 156.5 357.5 157.4 358 158.1 358.5 159 359 160 359.5 161.1 360 162.4 360.4 163.5 360.7 164.5 361.1 165.5 361.5 167 361.7 168 361.7 169.5 361.5 170.5 361 171.6 360.1 172.5 359.5 173 358.5 173.6 357.5 174.1 356.5 174.5 355.1 175 354 175.3 353 175.6 351.5 175.9 350.5 176.1 349 176.2 347.5 176.1 346.5 176 345.3 175.5 344.5 175 343.5 174 343 173.3 342.5 172.5 342 171.2 341.7 170 341.7 168.5 341.9 167 342.1 166 342.5 164.6 342.9 163.5 343.2 162.5 343.6 161.5 344 160.5 344.5 159.2 345 158.2 345.5 157.5 346.3 156.5 347 155.9 348 155.2 348.4 155M397 78 398 77.9 399.5 77.9 401 77.9 402.5 77.8 404 77.8 405.5 78 406.5 78.3 407.5 78.8 408.5 79.5 409.1 80 410 80.7 410.9 81.5 411.5 82.1 412.2 83 412.7 84 413 85 413.3 86.5 413.4 88 413.4 89.5 413.2 91 413 92.2 412.7 93.5 412.5 94.5 412 95.9 411.5 96.9 411 97.7 410.4 98.5 409.5 99.3 408.6 100 407.8 100.5 406.6 101 405.5 101.4 404.5 101.6 403 102 402 102.2 400.5 102.5 399.5 102.5 398.5 102.4 397 102.1 396 101.9 394.5 101.6 393.5 101.4 392.2 101 391 100.5 390 100 389.1 99.5 388.3 99 387.5 98.5 386.5 97.9 385.5 97.4 384.5 96.9 383.5 96.3 382.5 95.8 381.5 95.2 380.5 94.5 380 94 379.2 93 378.9 92 378.8 90.5 379 89.3 379.5 88.2 380 87.5 381 86.6 381.7 86 382.5 85.3 383.3 84.5 384 83.9 385 83.2 386 82.6 386.9 82 387.7 81.5 388.5 81 389.5 80.5 390.8 80 392 79.6 393 79.2 394 78.8 395 78.4 396.5 78.1 397 78M349.1 156 350.5 155.9 351.8 156 353 156.2 354 156.6 355 157.1 356 157.9 356.6 158.5 357.4 159.5 358 160.5 358.5 161.5 358.9 162.5 359.3 163.5 359.6 164.5 360 165.7 360.3 167 360.5 168.5 360.4 170 360 171 359.3 172 358.5 172.6 357.5 173.2 356.5 173.7 355.5 174.1 354.4 174.5 353 174.9 352 175.1 350.5 175.4 349.5 175.5 348 175.5 347 175.4 345.9 175 345 174.5 344.1 173.5 343.5 172.7 343 171.6 342.7 170.5 342.5 169 342.7 167.5 343 166 343.2 165 343.6 164 344 162.8 344.5 161.5 344.9 160.5 345.4 159.5 346 158.5 346.5 157.8 347.3 157 348 156.5 349.1 156M396.3 79 397.5 78.8 399 78.8 400.5 78.7 402 78.6 403.5 78.6 405 78.8 406 79.1 407 79.6 408 80.2 409 81 409.6 81.5 410.5 82.3 411.1 83 411.7 84 412.1 85 412.4 86.5 412.5 88 412.4 89.5 412.2 91 412 92 411.7 93.5 411.4 94.5 411 95.6 410.5 96.5 409.8 97.5 409 98.3 408.2 99 407.4 99.5 406.4 100 405 100.5 404 100.7 402.6 101 401.5 101.2 400 101.3 398.5 101.2 397.3 101 396 100.7 394.8 100.5 393.5 100.3 392.3 100 391.1 99.5 390.2 99 389.3 98.5 388.5 98 387.5 97.4 386.5 96.8 385.5 96.2 384.5 95.6 383.7 95 383 94.4 382 93.5 381.5 92.8 380.9 92 380.5 90.8 380.5 89.8 381 88.6 381.5 88 382.5 87 383 86.5 384 85.5 384.6 85 385.5 84.2 386.5 83.5 387.1 83 388 82.4 389 81.7 390 81.2 391 80.8 392 80.4 393.2 80 394.5 79.5 395.5 79.2 396.3 79M348.6 157.5 350 157.1 351.5 157.1 353 157.5 354 157.9 354.8 158.5 355.5 159.1 356.3 160 357 161 357.5 161.9 358 162.9 358.4 164 358.7 165 359 166 359.3 167.5 359.3 169 359 170.5 358.5 171.4 357.9 172 357 172.6 356 173.2 355 173.6 353.8 174 352.5 174.4 351.5 174.6 350 174.9 348.5 175 347 174.7 346 174.3 345 173.5 344.5 172.9 344 172 343.5 170.7 343.3 169.5 343.4 168 343.6 167 343.9 165.5 344.2 164.5 344.6 163.5 345 162.5 345.5 161.5 346 160.5 346.6 159.5 347.4 158.5 348 157.9 348.6 157.5M399.8 79.5 401 79.4 402.5 79.4 404 79.5 405 79.7 406 80 407 80.6 408 81.2 409 82 409.6 82.5 410.5 83.5 411 84.4 411.4 85.5 411.5 86.5 411.6 88 411.5 89 411.3 90.5 411 92 410.8 93 410.5 94.2 410 95.4 409.5 96.2 408.9 97 408 97.9 407.2 98.5 406.4 99 405.2 99.5 404 99.8 403 100 401.5 100.2 400 100.2 398.5 100.1 397.5 99.9 396 99.7 394.8 99.5 393.5 99.3 392.2 99 391.1 98.5 390.3 98 389.5 97.5 388.5 96.8 387.5 96.3 386.5 95.7 385.5 95 384.8 94.5 384 93.6 383.5 92.8 383 91.8 382.7 90.5 383 89.1 383.5 88.3 384.1 87.5 384.9 86.5 385.5 85.8 386.3 85 387 84.4 388 83.5 388.6 83 389.5 82.4 390.5 81.9 391.5 81.5 392.8 81 394 80.6 395 80.2 396 79.9 397.5 79.7 399 79.5 399.8 79.5M349.8 158.5 351 158.3 352.1 158.5 353.3 159 354.1 159.5 355 160.3 355.6 161 356.4 162 357 163 357.4 164 357.7 165 358 166.1 358.2 167.5 358.2 169 358 170.1 357.5 171.1 356.5 172 355.8 172.5 354.7 173 353.5 173.5 352.5 173.8 351.5 174 350 174.3 348.5 174.4 347 174.1 346 173.5 345.4 173 344.7 172 344.3 171 344.1 169.5 344.2 168 344.4 166.5 344.7 165.5 345 164.5 345.5 163.5 346 162.5 346.6 161.5 347.3 160.5 348 159.7 348.8 159 349.8 158.5M397 80.5 398 80.4 399.5 80.2 401 80.1 402.5 80.1 404 80.3 405 80.5 406.1 81 407 81.5 408 82.2 409 83 409.5 83.6 410.1 84.5 410.5 85.5 410.7 87 410.7 88.5 410.5 89.7 410.3 91 410 92.5 409.8 93.5 409.4 94.5 408.9 95.5 408.2 96.5 407.5 97.2 406.5 98 405.5 98.5 404.5 98.9 403.5 99.1 402 99.2 400.5 99.2 399 99.1 398 99 396.5 98.8 395 98.6 394 98.5 392.5 98.1 391.5 97.7 390.5 97 389.8 96.5 389 96 388 95.4 387 94.8 386 94.1 385.5 93.5 384.9 92.5 384.5 91 384.7 89.5 385.1 88.5 385.8 87.5 386.5 86.5 387 85.9 387.8 85 388.5 84.3 389.4 83.5 390.1 83 391.1 82.5 392.4 82 393.5 81.6 394.5 81.2 395.5 80.8 397 80.5M350.2 160 351.5 159.9 352.5 160.1 353.5 160.7 354.5 161.4 355.1 162 355.8 163 356.3 164 356.7 165 357 166.3 357.1 167.5 357.1 169 356.9 170 356.4 171 355.5 171.8 354.5 172.4 353.5 172.8 352.5 173.2 351.3 173.5 350 173.7 348.5 173.8 347.2 173.5 346.4 173 345.5 172 345 171 344.8 170 344.9 168.5 345 167.4 345.3 166 345.7 165 346.2 164 346.8 163 347.5 162.1 348.1 161.5 349 160.6 350 160.1 350.2 160M398.9 81 400 80.9 401.5 80.8 403 80.9 404 81 405.3 81.5 406.3 82 407.1 82.5 408 83.2 408.8 84 409.5 85 409.8 86 409.9 87.5 409.8 89 409.6 90.5 409.4 91.5 409.1 93 408.8 94 408.3 95 407.5 96 407 96.6 406 97.3 405 97.8 404 98.2 402.5 98.4 401 98.4 399.5 98.2 398 98 397 97.9 395.5 97.8 394 97.6 393 97.4 392 96.9 391 96.2 390.2 95.5 389.5 95 388.5 94.3 387.5 93.7 386.8 93 386.2 92 386.1 90.5 386.4 89 387 88 387.5 87.2 388 86.4 388.7 85.5 389.5 84.6 390.3 84 391.1 83.5 392.1 83 393.3 82.5 394.4 82 395.5 81.6 396.5 81.3 398 81.1 398.9 81M349.6 162 351 161.6 352.5 161.7 353.5 162.2 354.5 163 355 163.7 355.5 164.6 355.9 166 356.1 167 356.1 168.5 355.9 169.5 355.5 170.6 354.6 171.5 353.8 172 352.7 172.5 351.5 172.9 350.5 173.1 349 173.2 347.7 173 346.8 172.5 346 171.6 345.6 170.5 345.5 169 345.7 167.5 346 166.4 346.5 165.2 347 164.4 347.7 163.5 348.5 162.7 349.5 162.1 349.6 162M400.9 81.5 402 81.5 403 81.6 404.5 82 405.5 82.5 406.5 83 407.2 83.5 408 84.2 408.6 85 409 86.1 409.1 87.5 409 88.9 408.8 90 408.6 91.5 408.4 92.5 408 93.7 407.5 94.7 406.9 95.5 406 96.4 405 97 404 97.3 402.8 97.5 401.7 97.5 400.5 97.4 399 97.2 397.5 97 396.5 97 395 96.8 393.5 96.5 392.5 96 391.8 95.5 391 94.8 390.2 94 389.5 93.4 388.5 92.6 388 91.9 387.7 90.5 388 89 388.4 88 389 87 389.5 86.2 390 85.5 391 84.7 392 84 393 83.5 394 83 395 82.5 396 82.2 397 81.9 398.5 81.7 400 81.6 400.9 81.5M349.9 163.5 351 163.3 352.5 163.4 353.5 163.9 354.1 164.5 354.6 165.5 354.9 167 355 168 354.9 169 354.5 170.4 354 171 353 171.7 352 172.1 350.5 172.5 349.5 172.6 348.3 172.5 347.3 172 346.5 171 346.2 170 346.3 168.5 346.5 167.4 347 166.1 347.5 165.3 348.2 164.5 349 163.9 349.9 163.5M397.7 82.5 399 82.3 400.5 82.2 402 82.2 403.5 82.5 404.5 82.8 405.5 83.3 406.5 84 407.1 84.5 407.9 85.5 408.2 86.5 408.3 88 408.1 89.5 407.9 90.5 407.7 92 407.4 93 406.9 94 406.2 95 405.5 95.7 404.5 96.2 403.5 96.5 402 96.6 401 96.5 399.5 96.3 398 96.1 396.9 96 395.5 95.9 394 95.6 393 95 392.4 94.5 391.5 93.6 390.9 93 390.1 92 389.6 91 389.4 90 389.5 88.9 390 87.5 390.5 86.7 391 86 392 85.1 393 84.5 393.8 84 394.7 83.5 395.8 83 397 82.6 397.7 82.5M349.9 165 351 164.9 352 165.1 353 165.7 353.5 166.6 353.8 168 353.7 169.5 353.2 170.5 352.5 171.1 351.5 171.6 350 172 348.5 171.8 347.5 171.2 347 170 347 169 347.2 168 347.6 167 348.2 166 349 165.4 349.9 165M399.1 83 400.5 82.9 402 82.9 403 83.1 404.1 83.5 405.1 84 406 84.6 406.8 85.5 407.3 86.5 407.4 88 407.2 89.5 407 91 406.8 92 406.4 93 405.9 94 405 94.9 404 95.4 403 95.6 401.5 95.5 400.5 95.4 399 95.1 398 95 396.5 94.8 395 94.5 394 94.1 393.1 93.5 392.5 92.8 391.8 92 391.3 91 391 90 391 88.5 391.3 87.5 392 86.5 392.5 86 393.5 85.2 394.5 84.5 395.4 84 396.5 83.5 397.5 83.2 399 83 399.1 83M348.9 167 350 166.5 351.5 166.8 352.1 167.5 352.5 168.5 352.5 169.5 351.8 170.5 351 171 349.5 171.2 348.5 170.9 347.9 170 348 168.6 348.5 167.5 348.9 167M397.6 84 399 83.7 400.5 83.6 402 83.7 403.2 84 404.3 84.5 405 85 405.9 86 406.3 87 406.3 88.5 406.2 90 406 91 405.5 92.5 405 93.3 404.2 94 403 94.4 401.5 94.3 400 94.1 399 93.9 397.5 93.6 396.5 93.4 395.2 93 394.3 92.5 393.5 91.8 392.9 91 392.5 90 392.3 88.5 392.7 87.5 393.4 86.5 394 86 395 85.2 396 84.6 397 84.2 397.6 84M349.7 169 350.5 169.4 350 169.8 349.5 169.4 349.7 169M399.7 84.5 401 84.5 402 84.6 403.2 85 404 85.5 404.8 86.5 405.1 87.5 405.1 89 405 90 404.5 91.5 404 92.3 403 92.9 401.5 93 400 92.8 398.7 92.5 397.5 92.2 396.5 91.8 395.5 91.3 394.5 90.5 394 89.6 393.8 88.5 394.1 87.5 394.9 86.5 395.5 86 396.5 85.4 397.5 84.9 399 84.6 399.7 84.5M397.8 86 399 85.6 400.5 85.5 402 85.7 403 86.3 403.5 87 403.8 88.5 403.5 89.7 403 90.6 402 91.2 400.5 91.2 399.1 91 398 90.6 397 90.1 396.3 89.5 395.8 88.5 396 87.4 396.9 86.5 397.8 86" fill="none" stroke="#000" stroke-width="0.92" stroke-linejoin="round" clip-path="url(#c2)"/>
<rect x="326.8" y="1.9" width="190.4" height="189.7" fill="none" stroke="#1a1a1a" stroke-width="1.3"/>
<path d="M322.3 19.1H326.8M322.3 61.2H326.8M322.3 105.5H326.8M322.3 150.4H326.8M322.3 171.4H326.8M325 136.9H326.8M325 129H326.8M325 123.4H326.8M325 119H326.8M325 115.5H326.8M325 112.5H326.8M325 109.9H326.8M325 107.6H326.8M325 92.2H326.8M325 84.4H326.8M325 78.8H326.8M325 74.5H326.8M325 71H326.8M325 68.1H326.8M325 65.5H326.8M325 63.2H326.8M325 48.5H326.8M325 41.1H326.8M325 35.9H326.8M325 31.8H326.8M325 28.4H326.8M325 25.6H326.8M325 23.2H326.8M325 21H326.8M325 6.4H326.8M325 167.6H326.8M325 164.3H326.8M325 161.3H326.8M325 158.8H326.8M325 156.7H326.8M325 154.8H326.8M325 153.1H326.8M325 151.7H326.8M325 175.2H326.8M325 178.5H326.8M325 181.5H326.8M325 184H326.8M325 186.1H326.8M325 188H326.8M325 189.7H326.8M346 191.6V197.1M367.7 191.6V197.1M412.8 191.6V197.1M456.8 191.6V197.1M499.5 191.6V197.1M381.3 191.6V194.2M389.2 191.6V194.2M394.9 191.6V194.2M399.2 191.6V194.2M402.8 191.6V194.2M405.8 191.6V194.2M408.4 191.6V194.2M410.7 191.6V194.2M426 191.6V194.2M433.8 191.6V194.2M439.3 191.6V194.2M443.6 191.6V194.2M447 191.6V194.2M450 191.6V194.2M452.5 191.6V194.2M454.8 191.6V194.2M469.7 191.6V194.2M477.2 191.6V194.2M482.5 191.6V194.2M486.6 191.6V194.2M490 191.6V194.2M492.9 191.6V194.2M495.4 191.6V194.2M497.5 191.6V194.2M512.4 191.6V194.2M349.9 191.6V194.2M353.4 191.6V194.2M356.4 191.6V194.2M359 191.6V194.2M361.2 191.6V194.2M363.1 191.6V194.2M364.9 191.6V194.2M366.4 191.6V194.2M342.1 191.6V194.2M338.6 191.6V194.2M335.6 191.6V194.2M333 191.6V194.2M330.8 191.6V194.2M328.9 191.6V194.2" stroke="#1a1a1a" stroke-width="0.9" fill="none"/>
<path d="M345.7 191.6V196.1M323.3 171.4H326.8" stroke="#1a1a1a" stroke-width="1.8" fill="none"/>
<text x="319.3" y="22.2" text-anchor="end" class="tk">10<tspan dy="-3.2" class="sp">5</tspan></text>
<text x="319.3" y="64.3" text-anchor="end" class="tk">10<tspan dy="-3.2" class="sp">4</tspan></text>
<text x="319.3" y="108.6" text-anchor="end" class="tk">10<tspan dy="-3.2" class="sp">3</tspan></text>
<text x="319.3" y="153.5" text-anchor="end" class="tk">10<tspan dy="-3.2" class="sp">2</tspan></text>
<text x="318.3" y="174.5" text-anchor="end" class="tk">0</text>
<text x="347" y="209.7" text-anchor="middle" class="tk">0</text>
<text x="366.9" y="209.7" text-anchor="middle" class="tk">10<tspan dy="-3.2" class="sp">2</tspan></text>
<text x="412" y="209.7" text-anchor="middle" class="tk">10<tspan dy="-3.2" class="sp">3</tspan></text>
<text x="456" y="209.7" text-anchor="middle" class="tk">10<tspan dy="-3.2" class="sp">4</tspan></text>
<text x="498.7" y="209.7" text-anchor="middle" class="tk">10<tspan dy="-3.2" class="sp">5</tspan></text>
<text x="419.5" y="225" text-anchor="middle" class="ti">CD19</text>
<text transform="translate(297 91.5) rotate(-90)" text-anchor="middle" class="ti">B220</text>
<rect x="357.6" y="54.3" width="84.7" height="76" fill="none" stroke="#1a1a1a" stroke-width="1"/>
<text x="450.8" y="67" class="pc">68%</text>
<path d="M357.6 130.3L247 255" stroke="#2a2a2a" stroke-width="0.9" fill="none"/>
<path d="M244.5 257.8l2.3 -5.6l3.0 2.7z" fill="#1a1a1a"/>
<path d="M90.4 309.5 91.5 309.5 93 309.5 94.5 309.5 95.5 309.5 97 309.7 98.5 309.9 99.5 310 101 310 102 309.8 103.3 309.5 104.5 309.2 106 309 107.5 309.1 109 309.4 110 309.5 111.5 309.6 113 309.5 114.5 309.6 115.9 310 117 310.3 118 310.6 119.5 310.9 120.5 311.2 122 311.5 123 311.7 124.2 312 125.5 312.3 126.5 312.7 127.5 313 128.7 313.5 130 314 131 314.2 132.1 314.5 133.5 314.8 134.6 315 136 315.4 137 315.8 138 316.2 139 316.6 140 317 141 317.6 142 318.2 143 318.9 143.9 319.5 144.6 320 145.5 320.5 146.5 321.2 147.5 321.9 148.3 322.5 149 323 150 323.8 150.8 324.5 151.5 325.2 152.2 326 152.9 327 153.5 327.7 154.5 328.5 155.5 329 156.5 329.4 157.4 330 158 330.5 158.8 331.5 159.5 332.4 160 333 160.9 334 161.5 334.6 162.5 335.4 163.2 336 164 336.6 165 337.4 166 338 166.8 338.5 167.7 339 168.8 339.5 170 339.9 171 340.2 172 340.6 173 341 174.3 341.5 175.5 341.8 176.7 342 178 342.2 179.5 342.4 180.5 342.7 181.5 343.1 182.6 343.5 183.7 344 184.7 344.5 185.5 345.1 186.3 346 186.9 347 187.4 348 187.9 349 188.5 350 189 351 189.3 352 189.5 353 189.7 354.5 189.5 355.7 189 356.9 188.5 357.5 187.5 358.5 186.9 359 186 359.7 185 360.5 184.2 361 183.4 361.5 182.5 362 181.5 362.5 180.4 363 179.1 363.5 178 364 177 364.3 176 364.8 175 365.2 174 365.6 172.6 366 171.5 366.2 170 366.4 169 366.6 167.5 366.7 166 366.6 164.9 366.5 163.5 366.2 162.5 366 161 365.7 159.5 365.6 158 365.6 156.5 365.8 155.3 366 154 366.4 153 366.9 152 367.4 151 367.7 150 368 148.5 368.5 147.5 369 146.7 369.5 146 370.1 145 371 144.4 371.5 143.5 372.1 142.5 372.7 141.5 373.3 140.5 373.9 139.7 374.5 139 375 138 375.8 137 376.4 136 377 135.2 377.5 134.5 378 133.5 378.8 132.8 379.5 132 380.1 131 381 130.5 381.5 129.8 382.5 129.3 383.5 128.9 384.5 128.5 385.5 128 386.5 127.3 387.5 126.7 388.5 126.1 389.5 125.9 390.5 126 391.9 126.4 393 126.8 394 127.1 395 127.5 396.1 128 397.4 128.5 398.5 128.9 399.5 129.3 400.5 129.8 401.5 130.2 402.5 130.6 403.5 131 404.7 131.4 406 131.6 407 131.8 408.5 132 410 132.2 411 132.6 412 132.9 413.5 132.5 414.8 132 415.5 131 416.4 130.3 417 129.5 417.9 129 418.5 128.3 419.5 127.5 420.4 126.9 421 126 421.8 125 422.5 124 423 123 423.3 122 423.7 121 424.3 120 424.9 119.1 425.5 118.4 426 117.5 426.5 116.2 427 115 427.2 113.5 427.3 112.5 427.5 111.4 428 110.5 428.6 109.5 429.3 108.5 429.8 107.5 430.1 106 430.2 104.5 430.2 103 430.1 101.5 430 100 430.2 98.9 430.5 97.8 431 96.6 431.5 95.5 431.8 94 431.9 92.5 431.8 91 431.7 89.5 431.5 88.5 431.3 87.4 431 86 430.6 85 430.3 83.5 430.1 82.5 429.9 81.2 429.5 80.2 429 79.3 428.5 78.5 427.9 77.5 427.3 76.5 426.6 75.5 426 74.7 425.5 74 425 73 424.3 72.1 423.5 71.5 422.9 70.7 422 70 421 69.5 420.1 69 419.4 68.2 418.5 67.5 417.8 66.6 417 66 416.3 65.5 415.1 65.3 414 65.2 412.5 65.1 411 65 409.5 64.9 408.5 64.9 407 64.9 405.5 65.1 404.5 65.4 403 65.7 402 66 400.7 66.1 399.5 66.3 398 66.5 396.8 66.8 395.5 67.1 394.5 67.4 393 67.6 392 67.6 390.5 67.6 389 67.6 387.5 67.6 386 67.5 384.7 67.3 383.5 67 382.5 66.5 381.3 66 380.4 65.5 379.4 65 378.4 64.5 377.4 64 376.4 63.5 375.5 63 374.5 62.4 373.5 62 372.5 61.5 371.2 61.1 370 60.6 369 60 368 59.5 367.4 58.7 366.5 58 365.5 57.5 364.5 57.2 363.5 56.9 362.5 56.5 361 56.3 360 56 358.9 55.6 357.5 55.5 356.5 55.3 355 55.2 353.5 55 352 54.9 351 54.8 349.5 55 348 55.2 347 55.5 346 55.9 344.5 56.1 343.5 56.5 342.4 57 341.1 57.4 340 57.6 339 57.8 337.5 58 336 58.3 335 58.6 334 59.1 333 59.6 332 60.2 331 60.9 330 61.5 329.3 62.2 328.5 63 327.6 63.5 326.9 64.1 326 64.8 325 65.5 324.1 66.1 323.5 67 322.7 67.7 322 68.5 321.2 69.2 320.5 70 319.6 70.6 319 71.5 318.2 72.4 317.5 73 317 74 316.3 75 315.6 75.9 315 76.7 314.5 77.6 314 78.5 313.5 79.5 313 81 312.5 82 312.3 83.4 312 84.5 311.6 85.4 311 86.3 310.5 87.4 310 88.5 309.7 90 309.5 90.4 309.5M107.5 314 108.5 313.9 110 313.8 111.5 313.7 113 313.7 114.5 314 115.5 314.3 116.5 314.6 117.6 315 118.8 315.5 119.9 316 121 316.4 122 316.8 123 317.1 124.5 317.4 125.5 317.6 127 317.9 128 318.2 129 318.5 130.4 319 131.5 319.4 132.5 319.8 133.5 320.3 134.5 320.7 135.5 321 137 321.4 138 321.8 139 322.4 139.8 323 140.5 323.5 141.5 324.3 142.5 324.9 143.5 325.5 144.3 326 145 326.5 146 327.4 146.7 328 147.5 328.7 148.3 329.5 149 330.4 149.5 331.1 150 332 150.6 333 151.2 334 151.8 335 152.5 336 153 336.6 153.8 337.5 154.5 338.2 155.5 339 156.3 339.5 157.3 340 158.5 340.5 159.5 341 160.4 341.5 161.1 342 162 342.6 163 343.3 164 343.9 164.9 344.5 165.5 345 166.5 346 167 346.6 167.7 347.5 168.5 348.5 169.1 349 170 349.6 171 350.1 172 350.6 173 351.4 173.3 352.5 173.2 354 173 355.1 172.5 356.3 172 357 171.2 358 170.5 358.7 169.7 359.5 168.9 360 167.7 360.5 166.5 360.7 165 360.7 163.5 360.5 162.5 360.4 161 360.2 159.5 360.1 158 360.2 156.5 360.4 155.5 360.5 154 360.8 153 361 151.5 361.3 150.4 361.5 149.1 362 148.4 362.5 147.5 363.2 146.7 364 146 364.6 145 365.3 144 365.9 143 366.5 142 367 141.2 367.5 140.4 368 139.5 368.8 138.6 369.5 138 370 137 370.6 136 371.1 135 371.6 134 372.3 133.2 373 132.5 373.5 131.5 374.1 130.5 374.5 129.2 375 128.3 375.5 127.5 376.3 126.9 377 126.3 378 125.5 378.9 124.5 379.5 123.5 379.9 122.5 380.3 121.5 381 121 381.8 120.6 383 120.7 384.5 120.9 386 120.9 387.5 120.7 389 120.6 390.5 120.6 392 120.7 393.5 121 395 121.3 396 121.6 397 121.9 398.5 122.1 399.5 122.3 401 122.5 402.4 122.7 403.5 123 405 123.3 406 123.7 407 124.2 408 124.5 409 124.8 410.5 124.6 412 124.3 413 123.8 414 123.3 415 122.5 416 122 416.5 121 417.2 120 417.9 119.2 418.5 118.5 419.2 117.6 420 117 420.5 116 421.1 115 421.6 113.9 422 112.5 422.5 111.5 422.8 110.5 423.1 109.5 423.5 108.5 424 107.5 424.6 106.5 425.2 105.5 425.7 104 426 102.5 426 101 425.9 99.5 425.9 98.5 426 97 426.3 96 426.6 94.5 426.8 93 426.8 91.5 426.6 90.4 426.5 89 426.3 87.5 426.1 86.5 425.9 85 425.6 84 425.2 83 424.7 82 424.1 81.2 423.5 80.3 423 79.5 422.5 78.5 421.9 77.5 421.1 76.9 420.5 76 419.5 75.5 418.8 74.9 418 74.1 417 73.5 416.3 72.9 415.5 72.2 414.5 71.7 413.5 71.4 412.5 71.1 411 70.9 410 70.6 408.5 70.6 407 70.9 405.5 71.4 404.5 71.9 403.5 72.2 402.5 72.3 401 72 399.5 71.8 398.5 71.7 397 71.8 395.5 72 394.5 72.5 393 72.8 392 73 390.8 73.1 389.5 73 388.1 72.8 387 72.5 385.5 72.5 384.5 72.5 383 72.3 381.5 72 380.5 71.5 379.4 71 378.1 70.6 377 70.3 376 69.9 375 69.5 373.9 69 372.8 68.5 372 67.7 371 67 370.1 66.5 369.5 65.8 368.5 65.2 367.5 64.5 366.5 64 366 63.1 365 62.5 364.3 62 363.5 61.6 362 61.6 360.5 61.5 359.2 61.3 358 61 356.8 60.7 355.5 60.5 354.4 60.3 353 60.2 351.5 60.3 350 60.5 348.8 60.8 347.5 60.9 346 61 344.5 61 343.5 61.2 342 61.5 340.7 61.9 339.5 62.3 338.5 62.8 337.5 63.2 336.5 63.6 335.5 64.1 334.5 64.6 333.5 65.3 332.5 66 331.6 66.5 330.9 67 330 67.6 329 68.1 328 68.8 327 69.5 326.1 70 325.5 70.9 324.5 71.5 323.8 72.2 323 73 322 73.5 321.4 74.5 320.5 75.2 320 76.1 319.5 77.1 319 78.1 318.5 79 318 80 317.4 81 317 82.5 316.6 83.5 316.5 85 316.2 86 315.9 87 315.5 88 315 89 314.5 90.5 314.1 92 314 93.5 314.1 95 314.1 96.5 314.1 98 314.1 99.5 314.1 101 314.1 102.5 314.3 104 314.4 105.5 314.4 107 314.1 107.5 314M99.9 316.5 101 316.5 102 316.5 103.5 316.7 105 316.8 106.5 316.7 108 316.5 109 316.4 110.5 316.3 112 316.2 113.5 316.3 114.5 316.6 115.5 317 116.5 317.5 117.5 318.1 118.5 318.6 119.6 319 121 319.4 122 319.7 123.2 320 124.5 320.4 125.5 320.8 126.5 321.2 127.5 321.6 128.5 322 130 322.5 131 322.8 132 323.2 133 323.6 134 324 135.2 324.5 136.4 325 137.3 325.5 138.1 326 139 326.6 140 327.2 141 327.8 141.7 328.5 142.5 329.5 143 330.3 143.5 331.1 144.2 332 145 332.9 145.6 333.5 146.5 334.4 147.1 335 147.9 336 148.5 336.8 149 337.5 149.7 338.5 150.2 339.5 150.5 340.5 150.7 342 150.9 343.5 151.4 344.5 152 345.2 153 346 153.9 346.5 154.7 347 155.6 347.5 156.5 348.2 157.1 349 157 350.5 156.7 351.5 156.2 352.5 155.5 353.3 154.6 354 153.5 354.5 152.5 354.8 151.5 355 150.2 355.5 149.5 356 148.6 357 148 357.7 147.4 358.5 146.5 359.4 145.9 360 145 360.8 144.1 361.5 143.3 362 142.4 362.5 141.5 363 140.5 363.7 139.5 364.3 138.5 365 137.7 365.5 136.8 366 135.5 366.5 134.5 366.7 133.5 367 132.5 367.5 131.5 368.2 130.7 369 130 369.9 129.5 370.6 128.8 371.5 128 372.2 127 373 126.3 373.5 125.5 374.1 124.5 374.8 123.5 375.4 122.5 375.9 121.5 376.4 120.5 376.9 119.7 377.5 119 378.2 118.4 379 117.8 380 117.1 381 116.5 381.6 115.5 382.2 114.5 382.6 113.5 383.3 112.9 384 112.4 385 112.2 386.5 112.3 388 112.8 389 113.5 389.8 114.2 390.5 114.9 391.5 115.3 392.5 115.5 393.5 116 394.6 116.6 395.5 117.2 396.5 117.7 397.5 118 398.6 118.3 400 118.5 401.2 118.7 402.5 118.8 404 118.9 405.5 119 407 119 408 119 409 118.5 410.5 118 411.5 117.5 412.2 117 413.1 116.5 414.4 116 415.3 115.4 416 114.5 416.5 113.4 417 112.5 417.5 111.5 418.1 110.5 418.6 109.5 419 108.4 419.5 107.5 420 106.5 420.8 105.8 421.5 105 422.1 104 422.7 103 423.1 101.5 423.3 100 423.4 98.5 423.3 97 423.2 95.5 423.2 94 423.4 93 423.6 91.5 423.8 90 423.8 88.5 423.7 87.5 423.5 86 423.1 85 422.7 84.1 422 83.5 421.5 82.5 420.5 81.9 420 81 419.3 80.1 418.5 79.5 417.8 78.8 417 78.1 416 77.5 415.3 76.7 414.5 76 413.7 75.5 413 75 412 74.8 410.5 74.9 409 75 408 75.4 406.5 75.5 405.5 75.6 404 75.5 403 75.3 401.5 75 400.1 74.8 399 74.8 397.5 75 396.3 75.4 395 75.7 394 76 392.8 76.2 391.5 76.4 390 76.4 388.5 76.3 387 76.2 385.5 76.1 384 76.2 382.5 76.1 381 75.8 380 75.5 379 75 377.8 74.5 376.7 74 375.8 73.5 375 72.9 374 72.2 373 71.5 372 71 371.3 70.5 370.5 69.7 369.5 69.1 368.5 68.5 367.5 68.1 366.5 67.6 365.5 67.1 364.5 66.5 363.5 66 362.8 65.5 362 64.9 361 64.4 360 64 358.8 63.6 357.5 63.3 356.5 63 355 62.9 354 62.9 352.5 63 351.4 63.3 350 63.6 349 63.9 347.5 64 346 64 344.5 64 343 64.2 342 64.5 341 65 340 65.5 339 66 337.9 66.5 336.5 66.8 335.5 67.2 334.5 67.6 333.5 68.2 332.5 68.8 331.5 69.5 330.5 70 329.9 70.8 329 71.5 328.1 72 327.5 72.6 326.5 73.4 325.5 74 324.7 74.8 324 75.5 323.5 76.5 322.9 77.5 322.5 78.5 321.9 79.5 321.2 80.5 320.5 81.2 320 82.2 319.5 83.5 319.1 84.5 318.8 86 318.5 87 318.2 88 317.9 89.4 317.5 90.5 317.2 92 317.1 93.5 317.1 95 317.1 96.5 317 97.5 316.9 99 316.6 99.9 316.5M99.1 318.5 100.5 318.3 102 318.2 103.5 318.3 105 318.3 106.5 318.2 108 318.2 109.5 318.3 110.8 318.5 112 318.8 113 319.1 114 319.5 115.4 320 116.5 320.3 117.5 320.7 118.5 321 119.9 321.5 121 321.9 122 322.2 123.1 322.5 124.5 322.9 125.5 323.3 126.5 323.7 127.5 324 129 324.4 130 324.6 131.3 325 132.5 325.5 133.3 326 134 326.5 135 327.5 135.5 328.1 136.3 329 137 329.6 138 330.4 138.7 331 139.4 332 139.9 333 140.3 334 141 335 141.6 335.5 142.5 336.1 143.5 336.7 144.5 337.3 145.3 338 146 338.9 146.5 339.8 146.8 341 147 342.2 147.1 343.5 147.2 345 147.3 346.5 147.3 348 146.8 349 146.1 350 145.6 351 145.2 352 144.8 353 144.5 354 144 355.3 143.5 356.3 143 357.1 142.3 358 141.5 359 141 359.5 140 360.4 139.1 361 138.3 361.5 137.4 362 136.5 362.5 135.5 363.1 134.5 363.7 133.5 364.2 132.5 364.7 131.5 365.3 130.5 365.9 129.7 366.5 129 367.1 128 368 127.5 368.5 126.6 369.5 126 370.3 125.4 371 124.5 371.8 123.5 372.4 122.5 372.8 121.5 373.2 120.5 373.7 119.5 374.2 118.5 374.7 117.5 375.4 116.8 376 116 377 115.5 377.7 114.9 378.5 114 379.3 113 380 112.4 380.5 111.5 381.4 111 382 110.1 383 109.5 383.8 109 384.6 108.7 386 108.6 387.5 108.7 389 109 390.2 109.5 391.4 110 392.5 110.4 393.5 110.6 394.5 110.7 396 111 397.5 111.4 398.5 112 399.5 112.5 400.3 113 401 113.7 402 114.2 403 114.5 404 114.7 405.5 114.5 406.7 114 407.8 113.5 408.8 113 410 112.6 411 112.1 412 111.5 412.8 110.9 413.5 110 414.3 109.2 415 108.5 415.5 107.5 416.2 106.5 416.9 105.9 417.5 105 418.3 104.3 419 103.5 419.8 102.5 420.5 101.5 420.9 100.5 421.1 99.2 421 98 420.8 96.9 420.5 95.5 420.3 94 420.3 92.5 420.4 91 420.5 90 420.5 88.8 420.5 87.5 420.4 86.3 420 85.5 419.5 84.5 418.6 83.7 418 83 417.5 82 416.6 81.4 416 80.6 415 80 414 79.5 413.1 79.1 412 78.8 411 78.5 409.5 78.5 408.5 78.3 407 78 405.5 77.8 404.5 77.6 403 77.4 402 77.3 400.5 77.4 399 77.7 398 78.1 397 78.5 396 78.8 394.5 78.8 393 78.9 391.5 79 390.5 79.2 389 79.3 387.5 79.3 386 79.2 384.5 79 383.2 78.8 382 78.5 380.5 78.2 379.5 78 378.5 77.6 377 77.4 376 77 374.7 76.5 373.9 75.7 373 75 372.4 74 371.6 73.4 371 72.5 370.1 72 369.5 71.3 368.5 70.6 367.5 70.1 366.5 69.7 365.5 69.3 364.5 68.9 363.5 68.5 362.5 67.9 361.5 67.3 360.5 66.8 359.5 66.2 358.5 65.8 357.5 65.4 356.5 65 355.1 64.8 354 64.8 352.5 65 351.4 65.3 350 65.5 349 65.8 347.5 66 346 66.1 345 66.2 343.5 66.5 342.3 67 341.1 67.5 340.1 68 339 68.3 338 68.6 337 69 335.5 69.3 334.5 69.7 333.5 70.2 332.5 71 331.5 71.5 330.9 72.4 330 73 329.4 73.6 328.5 74.3 327.5 75 326.6 75.6 326 76.5 325.3 77.5 324.8 78.5 324.3 79.5 323.7 80.4 323 81 322.5 82 321.8 83 321.3 84 320.9 85.5 320.6 86.5 320.4 88 320 89 319.8 90.3 319.5 91.5 319.3 93 319.2 94.5 319.2 96 319.1 97 318.9 98.5 318.6 99.1 318.5M99.3 320 100.5 319.8 102 319.7 103.5 319.7 105 319.6 106.5 319.5 108 319.7 109.1 320 110.1 320.5 111 321 112 321.5 113.5 321.9 114.9 322 116 322.1 117.3 322.5 118.5 323 119.4 323.5 120.5 324 121.5 324.3 122.5 324.6 124 324.9 125 325.2 126 325.6 127.2 326 128.5 326.3 129.5 326.5 131 327 131.8 327.5 132.5 328.3 133 329.1 133.5 330 134.2 331 135 331.7 136 332.5 136.5 333 137.4 334 138 335 138.5 335.8 139.1 336.5 140 337.3 141 338 141.7 338.5 142.5 339.4 143 340.2 143.4 341.5 143.5 342.5 143.5 343.5 143 345 142.7 346 142.4 347 142.3 348.5 142.2 350 142 351.1 141.5 352.3 141 353 140.2 354 139.5 355 139 356 138.6 357 138 358 137.5 358.6 136.5 359.3 135.5 359.8 134.5 360.4 133.7 361 133 361.5 132 362.3 131 362.9 130.1 363.5 129.4 364 128.5 364.7 127.6 365.5 127 366 126 366.9 125.4 367.5 124.5 368.3 123.8 369 123 369.6 122 370.2 121 370.9 120 371.5 119.1 372 118.2 372.5 117.2 373 116.2 373.5 115.3 374 114.5 374.6 113.5 375.4 112.9 376 112 377 111.5 377.5 110.7 378.5 110 379.4 109.4 380 108.5 380.6 107 380.7 105.5 380.6 104.6 381.5 104.4 382.5 104.5 383.6 105 384.9 105.5 385.9 105.9 387 106.2 388 106.3 389.5 106.4 391 106.6 392 106.9 393.5 107 394.5 107.2 396 107.5 397.5 107.9 398.5 108.5 399.4 109 400.1 109.6 401 110.1 402 110.5 403.2 110.6 404.5 110.6 406 110.5 407.5 110.5 408.5 110.2 410 109.8 411 109 412 108.3 412.5 107.5 413 106.5 413.7 105.6 414.5 105 415.1 104.1 416 103.5 416.7 102.7 417.5 102 418.1 101 418.6 99.5 418.8 98 418.6 97 418.4 95.5 418.1 94.5 418 93 417.8 91.5 417.6 90.5 417.5 89 417.2 88 416.8 87 416.4 86 415.9 85 415.5 84 414.9 83 414.1 82.5 413.5 81.9 412.5 81.5 411 81.4 410 81.2 408.5 81 407 80.7 406 80.3 405 80 404 79.6 402.5 79.6 401 79.9 399.5 80.2 398.5 80.5 397.2 80.7 396 80.8 394.5 80.9 393 81 392 81.4 390.5 81.8 389.5 82.1 388.5 82.2 387 82.1 385.5 82.2 384 82.4 382.5 82.1 381 81.6 380 81 379.1 80.5 378.3 80 377 79.7 376 79.4 375 79 374 78.3 373 77.5 372.2 76.7 371.5 76 370.9 75 370.1 74.3 369.5 73.5 368.7 72.9 368 72.2 367 71.7 366 71.2 365 70.8 364 70.4 363 70 362 69.5 361 69 360 68.4 359 68 358 67.5 356.9 67 355.6 66.7 354.5 66.6 353 66.7 351.5 66.9 350 67 349 67.3 347.5 67.5 346 67.6 345 67.9 343.5 68.2 342.5 68.6 341.5 69.1 340.5 69.6 339.5 70 338.5 70.5 337.2 70.9 336 71.1 335 71.5 333.9 72 333 72.8 332 73.5 331.2 74.1 330.5 74.9 329.5 75.5 328.6 76 328 76.9 327 77.5 326.5 78.5 325.9 79.5 325.3 80.5 324.7 81.5 324.1 82.4 323.5 83.3 323 84.5 322.5 85.5 322.3 86.8 322 88 321.8 89.5 321.5 90.5 321.4 92 321.2 93.5 321.1 94.5 320.9 96 320.7 97 320.5 98.5 320.2 99.3 320M105.2 321 106.5 320.9 107.5 321.1 108.5 321.5 109.5 322.1 110.5 322.6 111.7 323 113 323.3 114.5 323.4 115.5 323.5 117 323.9 118 324.4 119 325 119.9 325.5 121 326 122 326.3 123 326.6 124.4 327 125.5 327.4 126.5 327.9 127.5 328.4 128.5 328.8 129.5 329.3 130.3 330 131 330.7 131.7 331.5 132.5 332.3 133.3 333 134 333.6 135 334.4 135.6 335 136.3 336 137 337 137.5 337.7 138.2 338.5 139 339.3 139.6 340 140 341 140.1 342.5 139.9 343.5 139.7 345 139.6 346.5 139.5 348 139.4 349 139 350.1 138.5 351.1 138 352.1 137.5 353.3 137 354.5 136.6 355.5 136.1 356.5 135.5 357.2 134.5 358 133.6 358.5 132.7 359 132 359.5 131 360.2 130.1 361 129.5 361.5 128.5 362.3 127.6 363 127 363.5 126 364.4 125.5 365 124.5 366 124 366.5 123 367.4 122.2 368 121.5 368.5 120.5 369.2 119.5 369.8 118.5 370.5 117.6 371 116.6 371.5 115.5 372 114.5 372.5 113.5 373 112.7 373.5 112 374 111 374.7 110 375.4 109 376 108 376.5 107 376.9 106 377.2 105 377.5 104 378 103 378.9 102.5 379.5 102 380.5 101.5 381.9 101 383 100.5 383.7 99.5 384.1 98 384.2 96.9 384.5 97 385.5 98 386.2 99.1 386.5 100.5 386.7 101.5 387 102.5 387.6 103.2 388.5 103.5 389.7 103.6 391 103.8 392.5 104 393.5 104.1 395 104.2 396.5 104.4 398 105 398.9 105.5 399.5 106.4 400.5 107 401.2 107.5 402 108 403.5 107.9 405 107.8 406.5 107.8 408 107.5 409.5 107 410.2 106 410.6 104.5 410.5 103.6 410 102.7 409.5 101.5 409.1 100 409.3 99 410 98.5 410.8 98.1 412 98.1 413.5 98 414.7 97 415.5 96 415.6 94.5 415.6 93.5 415.5 92 415.3 90.5 415.2 89.2 415 88 414.5 87 414 86.2 413.5 85.4 413 84.5 412.1 84 411.5 83.5 410.3 83.3 409 83.1 407.5 83 406.5 82.5 405.1 82.1 404 81.8 403 81.6 401.5 81.7 400 81.9 398.5 82.1 397.5 82.3 396 82.5 394.5 82.6 393.5 83 392.4 83.6 391.5 84.5 390.5 85 389.8 85.5 388.5 85.2 387 85 385.5 85.5 384.2 86 383.1 86.2 382 86 380.6 85.5 379.6 84.9 379 84 378.3 83 377.5 82.5 376.9 81.9 376 81.4 375 80.9 374 80.2 373 79.5 372.2 78.8 371.5 78 370.8 77.1 370 76.5 369.5 75.5 368.5 75 368 74.1 367 73.5 366.2 73 365.4 72.5 364.4 72 363.2 71.5 362 71 361 70.5 360.1 70 359.1 69.5 358 69.1 357 68.7 356 68.4 355 68.1 353.5 68.1 352 68.2 350.5 68.4 349 68.5 348 68.7 346.5 68.9 345 69.1 344 69.5 342.8 70 341.7 70.5 340.7 71 339.7 71.5 338.7 72 337.7 72.5 336.6 73 335.5 73.4 334.5 73.8 333.5 74.5 332.5 75 331.8 75.6 331 76.3 330 77 329 77.5 328.4 78.5 327.5 79.2 327 80 326.5 81 325.9 82 325.4 83 324.9 84 324.4 85.1 324 86.5 323.6 87.5 323.3 89 323.1 90 322.9 91.5 322.8 93 322.7 94.4 322.5 95.5 322.3 96.6 322 98 321.7 99 321.5 100.5 321.3 102 321.2 103.5 321.2 105 321 105.2 321M105.4 322.5 106.2 322.5 107.5 322.8 108.5 323.2 109.5 323.6 110.8 324 112 324.3 113.5 324.4 114.5 324.6 116 324.9 117 325.3 118 325.8 119 326.4 120 326.9 121 327.4 122 327.8 123 328.2 124 328.6 125 329.2 126 329.8 127 330.4 128 330.9 128.9 331.5 129.6 332 130.5 332.7 131.4 333.5 132 334 133 334.9 133.6 335.5 134.4 336.5 135 337.3 135.5 338.2 136 339.2 136.5 340.3 137 341.5 137.2 342.5 137.3 344 137.3 345.5 137.3 347 137.1 348.5 136.9 349.5 136.5 350.9 136.2 352 135.9 353 135.5 354.2 135 355.3 134.4 356 133.5 356.8 132.5 357.3 131.5 357.9 130.6 358.5 130 359 129 359.9 128.4 360.5 127.5 361.3 126.7 362 126 362.5 125 363.4 124.4 364 123.5 365 123 365.5 122 366.5 121.3 367 120.5 367.6 119.5 368.2 118.5 368.9 117.5 369.5 116.6 370 115.5 370.5 114.5 371 113.5 371.5 112.6 372 111.8 372.5 111 373 110 373.5 108.9 374 107.6 374.5 106.5 374.9 105.5 375.3 104.5 375.7 103.5 376.2 102.5 376.8 101.5 377.4 100.6 378 99.8 378.5 98.6 379 97.5 379 96.5 378.9 95 378.7 93.5 378.7 92.5 379 91.5 379.8 90.8 380.5 89.7 380.5 89 379.8 88.4 379 87.6 378 87 377.5 86 376.9 85 376.3 84 375.7 83.3 375 82.6 374 82 373.2 81.5 372.5 80.6 371.5 80 370.9 79 370 78.4 369.5 77.5 368.6 77 368 76.1 367 75.5 366.3 74.8 365.5 74.1 364.5 73.5 363.5 73 362.5 72.6 361.5 72 360.5 71.5 359.5 71 358.5 70.6 357.5 70.2 356.5 69.9 355.5 69.5 354 69.4 353 69.4 351.5 69.5 350 69.6 349 69.8 347.5 70 346 70.1 345 70.5 343.5 70.9 342.5 71.3 341.5 71.8 340.5 72.3 339.5 72.9 338.5 73.5 337.5 74 336.6 74.5 335.6 75 334.5 75.5 333.5 76 332.6 76.5 331.9 77.2 331 78 330 78.5 329.4 79.5 328.5 80.2 328 81 327.5 82 326.9 83 326.3 84 325.8 85 325.5 86.4 325 87.5 324.7 88.5 324.4 90 324.2 91.5 324 92.5 324 94 323.8 95.5 323.5 96.5 323.3 98 323 99 322.8 100.5 322.7 102 322.6 103.5 322.6 105 322.5 105.4 322.5M90.3 383 91.5 382.8 92.1 383.5 92.8 384.5 93.2 385.5 93.6 386.5 94.2 387.5 95 388.3 96 388.8 97 389.1 98.2 389.5 99.2 390 100 390.8 100.5 391.7 101 392.8 101.5 394 101.7 395 101.7 396.5 101.9 398 102.3 399 102.9 400 103.5 400.8 104.2 401.5 104.8 402.5 105 403.5 104.7 404.5 104 405.4 103 405.7 101.5 405.9 100.5 406.1 99.2 406.5 98.4 407 97.5 407.8 97 408.5 96.3 409.5 95.7 410.5 95.1 411.5 94.5 412 93.5 412.5 92 412.8 90.5 412.9 89 412.7 88 412.3 87 411.5 86.5 411 85.9 410 85.6 408.5 85.5 407.1 85.2 406 84.9 405 84.5 403.9 84.1 402.5 83.9 401.5 83.6 400 83.6 398.5 83.8 397 84 395.9 84.3 394.5 84.6 393.5 85.2 392.5 86 391.5 86.5 391 87.4 390 88 389.3 88.5 388.3 88.8 387 89 385.8 89.5 384.5 90 383.5 90.3 383M100.8 324 102 323.9 103.5 323.9 105 323.9 106.2 324 107.5 324.3 108.5 324.6 110 324.9 111 325.1 112.5 325.4 113.7 325.5 115 325.7 116 326 117.1 326.5 118 327 119 327.6 120 328.1 121 328.6 122 329.2 123 329.7 124 330.4 124.9 331 125.6 331.5 126.5 332.1 127.5 332.7 128.5 333.3 129.5 334 130.1 334.5 131 335.3 131.7 336 132.5 336.9 133 337.6 133.5 338.7 133.9 340 134.1 341 134.5 342.5 134.8 343.5 135.2 344.5 135.5 346 135.6 347 135.5 348.3 135.4 349.5 135.1 351 134.9 352 134.5 353.3 134 354.3 133.5 355 132.5 355.8 131.5 356.4 130.5 357 129.8 357.5 129 358.3 128.3 359 127.5 359.9 126.9 360.5 126 361.2 125 362 124.2 362.5 123.5 363.1 122.6 364 122 364.7 121.2 365.5 120.5 366.1 119.5 366.8 118.5 367.4 117.5 368 116.7 368.5 115.8 369 114.8 369.5 113.8 370 112.9 370.5 112 371.1 111 371.7 110 372.2 109 372.6 107.8 373 106.5 373.3 105.5 373.6 104.3 374 103 374.5 102 374.7 100.7 375 99.5 375.4 98.5 375.8 97.5 376.3 96.5 376.6 95 376.7 93.5 376.8 92 376.9 90.5 376.8 89.5 376.3 88.5 375.7 87.5 375.2 86.5 374.8 85.5 374.4 84.5 373.8 83.6 373 83 372.4 82.2 371.5 81.5 370.8 80.6 370 80 369.4 79.1 368.5 78.5 367.9 77.8 367 77 366 76.5 365.4 75.7 364.5 75 363.6 74.5 362.9 74 361.9 73.5 361 73 360 72.5 359 72 358 71.5 356.7 71.1 355.5 70.9 354.5 70.6 353 70.5 351.5 70.6 350 70.7 348.5 70.9 347 71 346 71.3 344.5 71.6 343.5 72 342.4 72.5 341.2 73 340.2 73.5 339.3 74 338.5 74.7 337.5 75.3 336.5 75.8 335.5 76.3 334.5 76.8 333.5 77.5 332.5 78 331.8 78.8 331 79.5 330.3 80.5 329.5 81.1 329 82 328.3 83 327.7 84 327.1 85 326.7 86 326.3 87 326 88.5 325.6 89.5 325.4 91 325.2 92.5 325.1 93.5 325 95 324.8 96.5 324.5 97.5 324.4 99 324.2 100.5 324 100.8 324M88.9 391 90 390.6 91.5 391 92 391.5 92.7 392.5 93.3 393.5 94 394.3 95 394.8 96 395.4 96.6 396 97.2 397 97.9 398 98.5 398.6 99.5 399.5 100 400.2 100.5 401.4 100.4 402 99.5 403 98.6 403.5 97.9 404 97 404.8 96.5 405.5 95.7 406.5 95 407.5 94.5 408.1 93.5 409 92.6 409.5 91.5 409.8 90 409.5 89.5 409 89 408 88.5 407 87.9 406 87.4 405 87 403.9 86.8 402.5 86.6 401 86.4 400 86 398.5 85.9 397.5 85.9 396 86 395 86.4 393.5 87 392.5 87.5 392 88.5 391.2 88.9 391M97.5 325.5 99 325.4 100.5 325.3 102 325.1 103.5 325 105 325.1 106.5 325.3 107.5 325.5 109 325.8 110 326 111.5 326.2 113 326.4 114 326.6 115.5 326.9 116.5 327.3 117.5 327.8 118.5 328.4 119.5 328.9 120.5 329.5 121.3 330 122.1 330.5 123 331.2 123.9 332 124.5 332.6 125.5 333.4 126.2 334 127 334.6 128 335.3 128.8 336 129.5 336.7 130.3 337.5 131 338.4 131.5 339.4 131.9 340.5 132.1 341.5 132.5 343 132.9 344 133.3 345 133.7 346 134 347.1 134.1 348.5 134 349.8 133.8 351 133.5 352.3 133 353.5 132.5 354.1 131.5 354.9 130.5 355.5 129.8 356 129 356.7 128.3 357.5 127.5 358.5 127 359.1 126.1 360 125.5 360.5 124.5 361.2 123.5 361.8 122.5 362.5 121.8 363 121 363.8 120.3 364.5 119.5 365.2 118.5 365.9 117.7 366.5 116.9 367 116 367.6 115 368.2 114 368.8 113 369.3 112 369.9 111.1 370.5 110.2 371 109.1 371.5 108 371.8 107 372 105.5 372.3 104.5 372.6 103 373 102 373.2 100.5 373.4 99.5 373.5 98 373.9 97 374.4 96 374.8 95 375 93.5 375.2 92 375.2 90.9 375 89.9 374.5 89 374 88 373.4 86.9 373 85.5 372.5 84.6 372 83.9 371.5 83 370.7 82.2 370 81.5 369.3 80.7 368.5 80 367.8 79.3 367 78.5 366 78 365.4 77.2 364.5 76.5 363.7 75.9 363 75.2 362 74.7 361 74.1 360 73.7 359 73.2 358 72.8 357 72.5 356 72 354.5 71.8 353.5 71.6 352 71.6 350.5 71.7 349 71.8 347.5 72 346 72.1 345 72.5 343.6 72.9 342.5 73.3 341.5 73.8 340.5 74.3 339.5 75 338.5 75.5 337.8 76 337 76.5 336 77.1 335 77.6 334 78.3 333 79 332.2 79.8 331.5 80.5 330.9 81.5 330.2 82.4 329.5 83 329 84 328.4 85 327.8 86 327.4 87.3 327 88.5 326.6 89.5 326.4 91 326.2 92.5 326.1 93.5 326 95 325.8 96.5 325.6 97.5 325.5M89.3 393 90 393.1 90.5 394 90.4 395 89.8 396 88.5 396 88.1 395 88.5 393.5 89.3 393M90.7 400.5 92 400.2 93.5 400.5 94.3 401 94.8 402 94.7 403.5 94.2 404.5 93.5 405.4 92.5 406 91.5 406 90.5 405.5 90 405 89.5 404 89.5 402.5 89.8 401.5 90.5 400.6 90.7 400.5M96.7 326.5 98 326.4 99.5 326.4 101 326.3 102.5 326.2 104 326.1 105.5 326.2 107 326.5 108 326.6 109.5 326.9 110.5 327 112 327.3 113.3 327.5 114.5 327.7 115.5 328 116.7 328.5 117.8 329 118.7 329.5 119.6 330 120.5 330.6 121.5 331.3 122.3 332 123 332.7 123.8 333.5 124.5 334.2 125.4 335 126 335.6 126.9 336.5 127.5 337.2 128.1 338 128.8 339 129.4 340 130 341 130.4 342 130.7 343 131 344 131.5 345.1 132 346.2 132.5 347.5 132.6 348.5 132.6 350 132.4 351 132 352.3 131.5 353 130.5 353.9 129.7 354.5 129 355.2 128.3 356 127.5 357 127 357.8 126.4 358.5 125.5 359.5 124.9 360 124 360.5 123 361.1 122 361.5 121 362.1 120 362.8 119.2 363.5 118.5 364.2 117.6 365 117 365.5 116 366.3 115.1 367 114.3 367.5 113.5 368 112.5 368.6 111.5 369.2 110.5 369.8 109.5 370.3 108.5 370.7 107.1 371 106 371.2 104.5 371.5 103.5 371.7 102.4 372 101 372.2 99.5 372.3 98.1 372.5 97 372.7 96 373 94.5 373.5 93.5 373.7 92 373.6 91 373.3 90 372.8 89 372.3 88 371.9 86.9 371.5 85.5 371 84.5 370.5 83.8 370 83 369.3 82.1 368.5 81.5 367.9 80.7 367 80 366.2 79.4 365.5 78.6 364.5 78 363.9 77.2 363 76.5 362.2 76 361.5 75.5 360.5 75 359.5 74.5 358.3 74 357 73.6 356 73.3 355 73 354 72.7 352.5 72.5 351 72.6 349.5 72.7 348 72.8 346.5 73 345 73.2 344 73.6 343 74 341.8 74.5 340.7 75 339.8 75.5 339 76.2 338 76.8 337 77.4 336 77.9 335 78.5 334.1 79 333.5 80 332.5 80.6 332 81.5 331.3 82.5 330.6 83.3 330 84.1 329.5 85 328.9 86 328.5 87.4 328 88.5 327.7 89.5 327.4 91 327.2 92.5 327 93.5 326.9 95 326.7 96.5 326.5 96.7 326.5M95 327.5 96 327.4 97.5 327.3 99 327.3 100.5 327.3 102 327.3 103.5 327.2 105 327.2 106.5 327.3 108 327.5 109 327.6 110.5 327.9 111.5 328.1 113 328.4 114 328.6 115.4 329 116.5 329.4 117.5 329.9 118.5 330.4 119.5 331 120.3 331.5 121 332.1 122 333 122.5 333.5 123.4 334.5 124 335.1 125 336 125.5 336.5 126.3 337.5 126.9 338.5 127.4 339.5 127.9 340.5 128.3 341.5 128.8 342.5 129.1 343.5 129.5 344.8 129.9 346 130.3 347 130.6 348 130.8 349.5 130.6 351 130 352 129.5 352.6 128.7 353.5 128 354.4 127.5 355.2 127 356.1 126.5 357 125.8 358 125 358.8 124.2 359.5 123.2 360 122 360.5 121 360.9 120 361.4 119.1 362 118.5 362.5 117.5 363.4 116.9 364 116 364.9 115.4 365.5 114.5 366.3 113.5 367 112.7 367.5 111.9 368 111 368.5 110 369.1 109 369.6 107.5 370 106.5 370.1 105 370.3 104 370.6 102.5 371 101.5 371.2 100 371.3 98.5 371.4 97.1 371.5 96 371.7 94.5 372 93.5 372.2 92 372.2 91 371.9 90 371.5 88.7 371 87.5 370.6 86.5 370.3 85.5 369.9 84.5 369.3 83.5 368.5 83 368 82 367.1 81.5 366.5 80.6 365.5 80 364.8 79.3 364 78.5 363.1 77.9 362.5 77.1 361.5 76.5 360.6 76 359.6 75.6 358.5 75.3 357.5 74.9 356.5 74.5 355.4 74 354 73.7 353 73.5 351.9 73.4 350.5 73.4 349 73.5 347.9 73.6 346.5 73.8 345 74.1 344 74.5 342.7 75 341.5 75.4 340.5 76 339.5 76.5 338.7 77 338 77.6 337 78.2 336 78.8 335 79.5 334 80 333.5 81 332.7 82 332 82.7 331.5 83.5 331 84.5 330.3 85.5 329.7 86.5 329.3 87.5 328.9 89 328.5 90 328.3 91.5 328 92.5 327.9 94 327.7 95 327.5M96.8 328 98 328 99 328 100.5 328.1 102 328.2 103.5 328.2 105 328.1 106.5 328.1 108 328.2 109.5 328.5 110.5 328.7 111.7 329 113 329.3 114 329.6 115.4 330 116.5 330.4 117.5 330.9 118.5 331.5 119.4 332 120.1 332.5 121 333.3 121.7 334 122.5 334.8 123.2 335.5 124 336.2 124.8 337 125.5 338 126 338.9 126.4 340 126.7 341 127.1 342 127.5 343.4 127.8 344.5 128 345.5 128.4 347 128.5 348 128.5 349.5 128.2 350.5 127.8 351.5 127.3 352.5 126.9 353.5 126.5 354.6 126 355.8 125.5 356.8 125 357.5 124.1 358.5 123.3 359 122.2 359.5 121 359.9 120 360.3 119 360.9 118.1 361.5 117.5 362 116.5 362.9 116 363.5 115.1 364.5 114.5 365.1 113.5 366 112.8 366.5 112 367 111 367.6 110 368.2 109 368.6 107.5 369 106.5 369.1 105 369.3 104 369.6 102.7 370 101.5 370.3 100 370.4 98.5 370.5 97.5 370.5 96 370.6 94.5 370.8 93 371 91.5 370.9 90 370.5 89 370.2 88 369.9 86.9 369.5 85.8 369 85 368.5 84 367.8 83.1 367 82.5 366.4 81.7 365.5 81 364.7 80.4 364 79.5 363 79 362.5 78.1 361.5 77.5 360.7 77 359.8 76.5 358.5 76.2 357.5 75.9 356.5 75.5 355.4 75 354.2 74.6 353 74.4 352 74.2 350.5 74.2 349 74.3 347.5 74.5 346 74.6 345 75 343.6 75.4 342.5 75.7 341.5 76.2 340.5 76.7 339.5 77.4 338.5 78 337.5 78.5 336.6 79 335.8 79.5 335 80.4 334 81 333.5 82 332.8 83 332.2 84 331.6 85 331 86 330.5 87 330.1 88 329.7 89 329.5 90.5 329.1 91.5 328.9 93 328.6 94 328.4 95.5 328.1 96.8 328M94.5 329 95.5 328.8 97 328.6 98.5 328.6 100 328.8 101.5 329 102.5 329 104 329 105 328.9 106.5 328.8 108 328.9 109 329.1 110.5 329.4 111.5 329.7 112.5 330 114 330.5 115 330.8 116 331.2 117 331.8 118 332.4 118.9 333 119.7 333.5 120.5 334.2 121.4 335 122 335.5 123 336.4 123.6 337 124.5 338 125 338.9 125.4 340 125.7 341 126 342.4 126.3 343.5 126.5 344.7 126.7 346 126.8 347.5 126.6 349 126.2 350 125.9 351 125.5 352.5 125.4 353.5 125.1 355 124.7 356 124.1 357 123.5 357.7 122.5 358.4 121.5 358.8 120.5 359.2 119.5 359.6 118.5 360.2 117.5 360.9 116.7 361.5 116 362.2 115.2 363 114.5 363.9 113.9 364.5 113 365.4 112.1 366 111.3 366.5 110.4 367 109.3 367.5 108 367.8 106.5 368 105.5 368.1 104 368.5 103 368.9 102 369.2 100.8 369.5 99.5 369.6 98 369.7 96.5 369.6 95 369.7 93.5 369.9 92.5 370 91.5 370 90 369.7 89 369.5 87.7 369 86.6 368.5 85.7 368 85 367.5 84 366.7 83.2 366 82.5 365.3 81.8 364.5 81 363.6 80.5 363 79.5 362 79 361.4 78.3 360.5 77.7 359.5 77.3 358.5 77 357.5 76.5 356 76.2 355 75.8 354 75.4 353 75 351.5 74.9 350.5 74.9 349 75 347.9 75.1 346.5 75.4 345 75.7 344 76 342.9 76.5 341.5 76.9 340.5 77.5 339.5 78 338.6 78.5 337.7 79 336.9 79.6 336 80.3 335 81 334.3 82 333.6 83 333 83.9 332.5 84.8 332 85.8 331.5 86.9 331 88 330.6 89 330.3 90.2 330 91.5 329.7 92.5 329.5 94 329.1 94.5 329M95 329.5 96.5 329.3 98 329.2 99.5 329.3 100.5 329.5 102 329.7 103.5 329.8 105 329.6 106.5 329.5 108 329.6 109.5 329.8 110.5 330.1 111.7 330.5 113 331 114 331.3 115 331.7 116 332.4 116.8 333 117.5 333.6 118.5 334.3 119.5 335 120.3 335.5 121 336 122 336.8 122.8 337.5 123.5 338.2 124 339 124.5 340.4 124.8 341.5 125 342.6 125.3 344 125.5 345.5 125.5 347 125.2 348.5 124.8 349.5 124.4 350.5 124 352 123.9 353 123.7 354.5 123.5 355.5 122.9 356.5 122 357.4 121 358 120 358.5 119 359 118.1 359.5 117.4 360 116.5 360.7 115.6 361.5 115 362.1 114.2 363 113.5 363.8 112.7 364.5 112 365.1 111 365.7 110 366.2 109 366.6 107.5 366.8 106 366.9 105 367.1 103.8 367.5 102.6 368 101.5 368.4 100.5 368.7 99 368.8 97.5 368.8 96 368.8 94.5 368.9 93.5 369 92 369.2 90.5 369.1 89.5 368.9 88.2 368.5 87.1 368 86.3 367.5 85.5 366.9 84.5 366.2 83.7 365.5 83 364.8 82.3 364 81.5 363.1 81 362.5 80.1 361.5 79.5 360.8 78.9 360 78.3 359 77.9 358 77.5 356.8 77.1 355.5 76.7 354.5 76.3 353.5 76 352.5 75.7 351 75.6 349.5 75.7 348 75.9 346.5 76 345.5 76.4 344 76.8 343 77.1 342 77.5 340.9 78 339.8 78.5 338.8 79 338 79.6 337 80.3 336 81 335.1 81.8 334.5 82.6 334 83.5 333.5 84.5 333 85.5 332.5 86.5 332 87.8 331.5 89 331.1 90 330.8 91.2 330.5 92.5 330.1 93.5 329.9 95 329.5 95 329.5M95.4 330 96.5 329.8 98 329.8 99.5 329.9 100.5 330.1 102 330.3 103.5 330.4 105 330.3 106.5 330.1 108 330.2 109.5 330.5 110.5 330.8 111.5 331.2 112.5 331.5 113.6 332 114.5 332.5 115.5 333.2 116.2 334 117 334.8 117.7 335.5 118.5 336 119.5 336.6 120.5 337.2 121.5 337.8 122.3 338.5 123 339.4 123.5 340.5 123.7 341.5 124 342.6 124.3 344 124.4 345.5 124.3 347 124 348.1 123.5 349.5 123.1 350.5 122.8 351.5 122.5 353 122.3 354 122 355.1 121.5 356 120.5 357 119.8 357.5 118.9 358 118 358.6 117 359.3 116.2 360 115.5 360.6 114.5 361.5 114 362.1 113.1 363 112.5 363.6 111.5 364.4 110.5 365 109.5 365.4 108.5 365.6 107 365.8 105.8 366 104.5 366.3 103.5 366.7 102.5 367.1 101.5 367.5 100 367.9 99 368.1 97.5 368.1 96 368 94.5 368 93 368.3 91.5 368.5 90 368.4 88.7 368 87.6 367.5 86.8 367 86 366.4 85 365.7 84.2 365 83.5 364.4 82.7 363.5 82 362.7 81.4 362 80.6 361 80 360.3 79.4 359.5 78.9 358.5 78.4 357.5 78 356.3 77.5 355 77.2 354 76.8 353 76.5 351.9 76.3 350.5 76.3 349 76.4 347.5 76.5 346.5 76.9 345 77.2 344 77.5 343 78 341.5 78.4 340.5 78.8 339.5 79.3 338.5 79.9 337.5 80.5 336.6 81 336 82 335.1 83 334.5 84 334 85 333.6 86 333.1 87 332.6 88 332.2 89 331.8 90 331.5 91.5 331.1 92.5 330.8 93.5 330.5 95 330.1 95.4 330M95.7 330.5 97 330.3 98.5 330.4 99.5 330.5 101 330.8 102.5 331 104 331 105.5 330.8 107 330.7 108.5 330.8 109.5 331.1 110.6 331.5 111.8 332 112.9 332.5 113.7 333 114.5 333.6 115.3 334.5 116 335.3 116.6 336 117.5 336.8 118.5 337.5 119.3 338 120.1 338.5 121 339.1 121.8 340 122.4 341 122.8 342 123 343 123.3 344.5 123.3 346 123.1 347.5 122.8 348.5 122.5 349.5 122 350.7 121.5 352 121.1 353 120.8 354 120.3 355 119.7 356 119 356.6 118 357.4 117.4 358 116.5 358.8 115.7 359.5 115 360.1 114.1 361 113.5 361.5 112.5 362.5 111.9 363 111 363.6 110 364.1 109 364.5 107.5 364.8 106.5 365 105 365.4 104 365.7 103 366 101.8 366.5 100.5 367 99.5 367.2 98 367.4 96.5 367.3 95 367.3 93.5 367.4 92.5 367.6 91 367.8 89.5 367.6 88.5 367.2 87.5 366.7 86.5 366 85.9 365.5 85 364.8 84 364 83.5 363.5 82.7 362.5 82 361.6 81.5 361 80.7 360 80 359.1 79.5 358.3 79 357.3 78.5 356 78.1 355 77.8 354 77.4 353 77 351.5 76.9 350.5 76.9 349 77 347.6 77.2 346.5 77.5 345.4 78 344 78.3 343 78.6 342 79 340.6 79.4 339.5 80 338.5 80.5 337.6 81 336.9 81.9 336 82.6 335.5 83.5 335 84.7 334.5 85.7 334 86.7 333.5 87.7 333 88.9 332.5 90 332.1 91 331.8 92 331.5 93.5 331.1 94.5 330.8 95.7 330.5M96.2 331 97.5 330.9 99 331 100 331.1 101.5 331.4 102.5 331.5 104 331.6 105 331.5 106.5 331.3 108 331.4 109 331.6 110.1 332 111.2 332.5 112.1 333 113 333.6 114 334.4 114.5 335 115.4 336 116 336.7 116.9 337.5 117.5 338 118.5 338.8 119.4 339.5 120 340 120.9 341 121.5 342 121.8 343 122.1 344 122.3 345.5 122.2 347 122 348 121.5 349.5 121.1 350.5 120.6 351.5 120 352.5 119.5 353.5 119 354.4 118.5 355.1 117.9 356 117.1 357 116.5 357.6 115.7 358.5 115 359.3 114.2 360 113.5 360.6 112.5 361.5 111.8 362 111 362.6 110 363.1 109 363.5 107.5 363.9 106.5 364.2 105.5 364.5 104 365 103 365.3 102 365.6 100.9 366 99.5 366.4 98.5 366.6 97 366.6 95.5 366.5 94 366.6 92.5 366.9 91.5 367.1 90 367 89 366.7 88 366.2 87 365.5 86.3 365 85.5 364.4 84.5 363.6 83.9 363 83.1 362 82.5 361.2 81.9 360.5 81.1 359.5 80.5 358.7 80 357.9 79.5 357 79 355.8 78.5 354.5 78.2 353.5 77.9 352.5 77.6 351 77.5 350 77.5 348.5 77.6 347.5 78 346 78.3 345 78.7 344 79 343 79.4 341.5 79.7 340.5 80.1 339.5 80.6 338.5 81.3 337.5 82 336.8 83 336 84 335.5 85 335.1 86 334.6 87 334.1 88 333.6 89 333.1 90 332.7 91 332.4 92.3 332 93.5 331.6 94.5 331.3 96 331 96.2 331M97.5 331.5 98 331.5 99.5 331.6 101 331.9 102 332 103.5 332.2 105 332.1 106.1 332 107.5 332 108.5 332.1 109.6 332.5 110.6 333 111.5 333.6 112.5 334.3 113.3 335 114 335.8 114.7 336.5 115.5 337.3 116.2 338 117 338.8 117.8 339.5 118.5 340.2 119.2 341 119.9 342 120.5 343 120.8 344 121.1 345 121.2 346.5 121.1 348 120.8 349 120.4 350 119.8 351 119.1 352 118.5 352.8 118 353.6 117.5 354.5 116.9 355.5 116.3 356.5 115.6 357.5 115 358.3 114.4 359 113.5 359.8 112.6 360.5 111.9 361 111 361.6 110 362.1 109 362.5 107.9 363 106.5 363.5 105.5 363.8 104.5 364.1 103.2 364.5 102 364.9 101 365.2 99.8 365.5 98.5 365.8 97 365.9 95.5 365.8 94 365.9 93 366.1 91.5 366.3 90 366.3 89 366 88 365.4 87 364.8 86 364.1 85.3 363.5 84.5 362.8 83.8 362 83.1 361 82.5 360.2 82 359.5 81.2 358.5 80.5 357.6 80 356.7 79.5 355.7 79 354.5 78.7 353.5 78.4 352.5 78.1 351 78 349.5 78.1 348 78.4 346.5 78.8 345.5 79.1 344.5 79.5 343.5 79.9 342 80.2 341 80.5 340 81 339 81.7 338 82.5 337.2 83.5 336.6 84.5 336.1 85.5 335.7 86.5 335.1 87.5 334.5 88.5 334 89.5 333.5 90.5 333.1 91.5 332.8 92.5 332.5 94 332.1 95 331.8 96.5 331.6 97.5 331.5M94.6 332.5 96 332.3 97.5 332.1 99 332.2 100.5 332.4 101.5 332.5 103 332.8 104.5 332.8 106 332.7 107.5 332.7 108.8 333 109.8 333.5 110.6 334 111.5 334.7 112.4 335.5 113 336.1 114 337 114.5 337.5 115.5 338.5 116 339 116.9 340 117.5 340.7 118.1 341.5 118.8 342.5 119.3 343.5 119.7 344.5 120.1 345.5 120.3 347 120.1 348.5 119.7 349.5 119.1 350.5 118.5 351.3 117.9 352 117.2 353 116.7 354 116.2 355 115.7 356 115.1 357 114.5 357.9 114 358.5 113 359.4 112.2 360 111.4 360.5 110.4 361 109.4 361.5 108.3 362 107.2 362.5 106 363 105 363.3 104 363.6 102.5 364 101.5 364.2 100.4 364.5 99 364.8 98 365 96.5 365.1 95 365.1 93.5 365.3 92.3 365.5 91 365.7 89.7 365.5 88.5 365 87.7 364.5 87 364 86 363.3 85 362.5 84.5 361.9 83.8 361 83.1 360 82.5 359.2 82 358.5 81.2 357.5 80.5 356.5 80 355.6 79.6 354.5 79.2 353.5 79 352.5 78.7 351 78.6 349.5 78.7 348 79 346.6 79.4 345.5 79.8 344.5 80.1 343.5 80.5 342 80.8 341 81.2 340 81.8 339 82.5 338.2 83.4 337.5 84.3 337 85.3 336.5 86.3 336 87.1 335.5 88 335 89 334.4 90 333.9 91.1 333.5 92.5 333.1 93.5 332.8 94.6 332.5M95.7 333 97 332.9 98.5 332.8 100 332.9 101 333.1 102.5 333.3 104 333.5 105 333.5 106 333.5 107.3 333.5 108.5 333.8 109.5 334.4 110.3 335 111 335.6 112 336.5 112.7 337 113.5 337.7 114.4 338.5 115 339.2 115.7 340 116.5 341 117 341.7 117.5 342.5 118.1 343.5 118.6 344.5 119.1 345.5 119.4 347 119.3 348.5 118.8 349.5 118.1 350.5 117.5 351.2 116.9 352 116.3 353 115.8 354 115.3 355 114.9 356 114.4 357 113.6 358 113 358.6 112 359.4 111 359.9 110 360.4 109 360.9 108 361.4 107 361.9 106 362.4 105 362.7 104 363 102.5 363.3 101.4 363.5 100 363.8 98.8 364 97.5 364.2 96 364.4 94.5 364.5 93.5 364.6 92 364.8 90.5 364.9 89.1 364.5 88.1 364 87.3 363.5 86.5 363 85.5 362.2 84.9 361.5 84.2 360.5 83.5 359.5 83 358.8 82.3 358 81.5 357 81 356.3 80.5 355.4 80 354.2 79.6 353 79.4 352 79.2 350.5 79.2 349 79.4 347.5 79.6 346.5 80 345.4 80.5 344.1 80.8 343 81.1 342 81.5 340.9 82 339.9 82.7 339 83.5 338.3 84.5 337.7 85.5 337.2 86.5 336.6 87.5 336 88.3 335.5 89.1 335 90.1 334.5 91.4 334 92.5 333.7 93.5 333.4 95 333.1 95.7 333M93.9 334 95 333.9 96.5 333.7 98 333.6 99.5 333.5 101 333.7 102.4 334 103.5 334.2 105 334.3 106.5 334.4 107.5 334.5 108.6 335 109.5 335.7 110.5 336.5 111.1 337 112 337.6 113 338.4 113.6 339 114.5 340 115 340.6 115.7 341.5 116.4 342.5 117 343.5 117.5 344.3 118 345.3 118.5 346.5 118.6 347.5 118.4 348.5 117.9 349.5 117.1 350.5 116.5 351.3 116 352.1 115.5 353 115 354.1 114.5 355.3 114 356.3 113.5 357.2 112.8 358 112 358.6 111 359.2 110 359.7 109 360.2 108 360.7 107 361.2 106 361.7 105 362.1 103.5 362.5 102.5 362.7 101 362.8 99.7 363 98.5 363.2 97 363.5 96 363.6 94.5 363.8 93.1 364 92 364.1 90.5 364.2 89.5 363.9 88.5 363.5 87.5 362.9 86.5 362.3 85.6 361.5 85 360.7 84.5 360 83.8 359 83.1 358 82.5 357.4 81.8 356.5 81.1 355.5 80.6 354.5 80.3 353.5 80 352.1 79.9 351 79.8 349.5 79.9 348 80.1 347 80.5 345.6 80.9 344.5 81.2 343.5 81.5 342.5 82 341.2 82.5 340.3 83.2 339.5 84 338.8 85 338.2 86 337.7 87 337.1 87.9 336.5 88.6 336 89.5 335.5 90.5 335 91.8 334.5 93 334.2 93.9 334M97.4 334.5 98.5 334.4 100 334.4 101 334.5 102.5 334.8 103.5 335.1 105 335.3 106.5 335.4 107.5 335.7 108.5 336.2 109.5 336.9 110.3 337.5 111 338 112 338.8 112.8 339.5 113.5 340.3 114 341 114.7 342 115.5 343 116 343.7 116.6 344.5 117.2 345.5 117.6 346.5 117.7 348 117.3 349 116.7 350 116 350.9 115.5 351.7 115 352.6 114.5 353.7 114 354.9 113.5 355.9 113 356.8 112.4 357.5 111.5 358.2 110.5 358.7 109.5 359.2 108.5 359.7 107.5 360.3 106.5 360.9 105.5 361.3 104.5 361.7 103 362 102 362.1 100.5 362.2 99 362.3 98 362.5 96.5 362.8 95.2 363 94 363.2 92.5 363.4 91 363.5 89.5 363.2 88.5 362.8 87.5 362.3 86.5 361.5 85.9 361 85.2 360 84.5 359 84 358.3 83.3 357.5 82.5 356.6 82 355.9 81.4 355 81 354 80.6 352.5 80.4 351.5 80.3 350 80.4 348.5 80.5 347.5 80.9 346 81.3 345 81.6 344 82 342.9 82.5 341.6 83 340.7 83.7 340 84.5 339.3 85.5 338.7 86.5 338.1 87.5 337.5 88.3 337 89 336.5 90 335.9 91 335.5 92.5 335 93.5 334.8 95 334.7 96.5 334.6 97.4 334.5M97 335.5 98 335.3 99.5 335.2 101 335.4 102 335.6 103.5 336 104.5 336.1 106 336.4 107 336.6 108 337.1 109 337.7 110 338.4 110.8 339 111.5 339.6 112.3 340.5 113 341.4 113.5 342.2 114.1 343 115 344 115.5 344.5 116.2 345.5 116.7 346.5 116.8 348 116.5 349 115.8 350 115.2 351 114.6 352 114.1 353 113.7 354 113.3 355 112.7 356 112 356.9 111.3 357.5 110.4 358 109.4 358.5 108.5 359 107.5 359.6 106.5 360.2 105.5 360.7 104.5 361.1 103 361.3 101.5 361.5 100.5 361.5 99 361.7 97.5 361.9 96.5 362.1 95 362.4 94 362.5 92.5 362.7 91 362.8 89.6 362.5 88.5 362.1 87.5 361.6 86.8 361 86 360.1 85.5 359.4 84.9 358.5 84.1 357.5 83.5 356.9 82.7 356 82 355 81.5 354 81.2 353 81 351.7 80.9 350.5 80.9 349 81 348 81.4 346.5 81.7 345.5 82 344.5 82.5 343.1 83 342 83.5 341.1 84.1 340.5 85 339.8 86 339.2 87 338.6 87.9 338 88.7 337.5 89.5 337 90.5 336.4 91.7 336 93 335.7 94.5 335.7 96 335.6 97 335.5M96.2 336.5 97.5 336.4 99 336.2 100.5 336.3 101.5 336.5 103 336.8 104.2 337 105.5 337.2 106.7 337.5 107.8 338 108.6 338.5 109.5 339.1 110.5 339.9 111.1 340.5 111.8 341.5 112.5 342.5 113 343.3 113.6 344 114.5 344.8 115.1 345.5 115.8 346.5 116 347.5 115.8 348.5 115.3 349.5 114.7 350.5 114.1 351.5 113.7 352.5 113.2 353.5 112.8 354.5 112.2 355.5 111.5 356.4 110.7 357 109.9 357.5 109 358 108 358.6 107 359.3 106 359.9 105 360.3 104 360.6 102.5 360.8 101 360.9 99.9 361 98.5 361.1 97 361.3 96 361.5 94.5 361.8 93.3 362 92 362.1 90.5 362 89.5 361.8 88.5 361.4 87.5 360.8 86.7 360 86 359.1 85.5 358.4 84.8 357.5 84 356.7 83.4 356 82.6 355 82.1 354 81.8 353 81.5 351.6 81.4 350.5 81.4 349 81.5 348 81.9 346.5 82.3 345.5 82.6 344.5 83 343.4 83.5 342.3 84 341.5 85 340.6 85.9 340 86.7 339.5 87.5 339 88.5 338.4 89.5 337.7 90.5 337.2 91.5 336.9 93 336.6 94.5 336.5 96 336.5 96.2 336.5M92.4 337.5 93.5 337.4 95 337.4 96.5 337.3 98 337.2 99.5 337.2 101 337.4 102 337.6 103.5 337.7 105 337.9 106 338.1 107 338.5 108 339.1 109 339.8 109.8 340.5 110.5 341.3 111 342 111.7 343 112.4 344 113 344.6 113.9 345.5 114.5 346.1 115 347 115 348.4 114.5 349.5 114 350.4 113.5 351.3 113 352.4 112.5 353.5 112 354.5 111.5 355.3 110.8 356 110 356.6 109 357.2 108 357.9 107.2 358.5 106.4 359 105.5 359.5 104 360 103 360.2 101.5 360.3 100 360.4 99 360.5 97.5 360.7 96 360.9 95 361.1 93.5 361.3 92 361.5 90.5 361.3 89.3 361 88.3 360.5 87.5 359.9 86.7 359 86 358.1 85.5 357.5 84.6 356.5 84 355.9 83.3 355 82.7 354 82.3 353 82 351.5 81.9 350.5 81.9 349 82.1 348 82.5 346.5 82.8 345.5 83.2 344.5 83.6 343.5 84.1 342.5 84.9 341.5 85.6 341 86.5 340.4 87.5 339.7 88.5 339.1 89.5 338.5 90.5 338 91.5 337.7 92.4 337.5M91.3 338.5 92.5 338.2 94 338.1 95.5 338.1 97 338 98.5 338 100 338.1 101.5 338.3 103 338.4 104 338.5 105.5 338.8 106.5 339.1 107.5 339.7 108.5 340.4 109.1 341 110 342 110.5 342.8 111 343.6 111.7 344.5 112.5 345.4 113.1 346 113.9 347 114.1 348 113.9 349 113.4 350 112.8 351 112.4 352 111.9 353 111.4 354 110.7 355 110 355.6 109 356.3 108.2 357 107.5 357.5 106.5 358.3 105.5 358.9 104.5 359.3 103.5 359.5 102 359.7 100.5 359.9 99.3 360 98 360.1 96.5 360.2 95 360.4 94 360.6 92.5 360.8 91 360.7 90 360.5 88.8 360 88 359.4 87.1 358.5 86.5 357.8 85.8 357 85 356.2 84.4 355.5 83.6 354.5 83.1 353.5 82.7 352.5 82.5 351.5 82.4 350 82.5 348.5 82.7 347.5 83.1 346.5 83.5 345.3 84 344 84.5 343.1 85 342.4 86 341.5 86.7 341 87.5 340.5 88.5 339.8 89.5 339.3 90.5 338.8 91.3 338.5M92.3 339 93.5 338.8 95 338.8 96.5 338.7 98 338.7 99.5 338.8 101 339 102 339 103.5 339.2 105 339.4 106 339.8 107 340.3 107.9 341 108.5 341.6 109.3 342.5 109.9 343.5 110.5 344.3 111 345 111.9 346 112.5 346.8 113 347.9 113 348.5 112.5 349.8 112 350.9 111.5 352 111 353 110.5 353.9 110 354.5 109 355.4 108.3 356 107.5 356.7 106.5 357.5 105.8 358 104.9 358.5 103.5 358.9 102.5 359 101 359.3 99.5 359.5 98.5 359.6 97 359.7 95.5 359.8 94 360 93 360.1 91.5 360.1 90.5 359.9 89.4 359.5 88.5 358.9 87.5 358 87 357.4 86.1 356.5 85.5 355.9 84.7 355 84 354.1 83.5 353.2 83.1 352 82.9 351 82.9 349.5 83 348.5 83.4 347 83.8 346 84.2 345 84.7 344 85.4 343 86 342.3 87 341.6 87.8 341 88.6 340.5 89.5 340 90.5 339.5 92 339 92.3 339M93.4 339.5 94.5 339.4 96 339.3 97.5 339.3 99 339.4 100.1 339.5 101.5 339.6 103 339.8 104.4 340 105.5 340.4 106.5 340.9 107.3 341.5 108 342.3 108.5 343 109.2 344 109.9 345 110.5 345.8 111.1 346.5 111.6 347.5 111.7 349 111.4 350 111 351 110.5 352.1 110 353 109.2 354 108.5 354.7 107.7 355.5 107 356.2 106.1 357 105.4 357.5 104.4 358 103 358.4 102 358.5 100.5 358.8 99.2 359 98 359.1 96.5 359.2 95 359.3 93.5 359.4 92 359.5 90.5 359.2 89.5 358.7 88.5 358 88 357.5 87 356.5 86.4 356 85.5 355.1 85 354.5 84.3 353.5 83.8 352.5 83.5 351.3 83.4 350 83.5 348.7 83.8 347.5 84.2 346.5 84.6 345.5 85.1 344.5 85.8 343.5 86.5 342.8 87.4 342 88.2 341.5 89 341 90 340.4 91 340 92.5 339.6 93.4 339.5M94.6 340 96 339.9 97.5 339.9 99 340 100 340.1 101.5 340.2 103 340.4 104 340.6 105.1 341 106 341.5 107 342.4 107.5 343.1 108.2 344 108.9 345 109.5 345.9 110 346.7 110.5 347.8 110.6 349 110.3 350 110 351 109.5 352 108.9 353 108.1 354 107.5 354.7 106.7 355.5 106 356.2 105 357 104 357.4 103 357.7 101.6 358 100.5 358.3 99.2 358.5 98 358.6 96.5 358.7 95 358.7 93.5 358.8 92 358.8 90.7 358.5 89.7 358 89 357.5 88 356.6 87.3 356 86.5 355.3 85.8 354.5 85 353.5 84.5 352.7 84.1 351.5 83.9 350.5 84 349 84.2 348 84.6 347 85 346 85.6 345 86.2 344 87 343.2 87.8 342.5 88.5 342 89.5 341.3 90.5 340.8 91.5 340.5 93 340.2 94.5 340 94.6 340M96.4 340.5 97.4 340.5 98.5 340.5 100 340.6 101.5 340.8 103 341 104 341.3 105 341.8 105.9 342.5 106.5 343.2 107.1 344 107.8 345 108.5 346 109 346.8 109.4 348 109.4 349.5 109 350.9 108.5 352 108 352.7 107.4 353.5 106.6 354.5 106 355.2 105.1 356 104.3 356.5 103 357 102 357.3 101 357.5 99.5 357.9 98.5 358.1 97 358.2 95.5 358.2 94 358.2 92.5 358.2 91.5 358 90.3 357.5 89.5 357 88.5 356.2 87.7 355.5 87 354.9 86.1 354 85.5 353.2 85 352.3 84.5 351 84.4 350 84.5 349 85 347.5 85.4 346.5 85.9 345.5 86.5 344.7 87.1 344 88 343.1 88.8 342.5 89.5 342 90.5 341.5 91.8 341 93 340.7 94.5 340.6 96 340.5 96.4 340.5M92.2 341.5 93.5 341.3 95 341.1 96.5 341.1 98 341.1 99.5 341.1 101 341.3 102.5 341.5 103.5 341.8 104.5 342.4 105.2 343 106 343.9 106.5 344.6 107.1 345.5 107.8 346.5 108.3 347.5 108.5 348.8 108.5 349.5 108 351 107.5 351.9 107 352.7 106.4 353.5 105.6 354.5 105 355.1 104 355.8 103 356.2 102 356.5 100.6 357 99.5 357.3 98.5 357.5 97 357.6 95.5 357.6 94 357.6 92.8 357.5 91.5 357.2 90.5 356.8 89.5 356.1 88.7 355.5 88 354.9 87 354 86.5 353.5 85.8 352.5 85.3 351.5 85 350 85 349.5 85.3 348 85.8 347 86.3 346 87 345 87.5 344.4 88.5 343.5 89.1 343 90 342.4 91 341.9 92.2 341.5M92.5 342 93.5 341.8 95 341.7 96.5 341.6 98 341.6 99.5 341.7 101 341.8 102 342 103.3 342.5 104 343 105 344 105.5 344.7 106.1 345.5 106.8 346.5 107.3 347.5 107.5 348.5 107.5 349.6 107 351 106.5 352 106 352.7 105.4 353.5 104.5 354.4 103.6 355 102.6 355.5 101.5 356 100.5 356.4 99.5 356.7 98.2 357 97 357.1 95.5 357 94.5 357 93 356.9 91.5 356.5 90.5 356 89.8 355.5 89 354.9 88 354.1 87.4 353.5 86.6 352.5 86.1 351.5 85.7 350.5 85.7 349 86 347.9 86.5 346.8 87 346 87.7 345 88.5 344.2 89.4 343.5 90.1 343 91 342.5 92.5 342M92.9 342.5 94 342.3 95.5 342.2 97 342.2 98.5 342.2 100 342.3 101.4 342.5 102.5 342.9 103.4 343.5 104 344.1 104.7 345 105.4 346 106 346.9 106.5 348 106.6 349 106.5 350 106 351.1 105.5 352 104.7 353 104 353.7 103 354.4 102 354.9 101 355.4 100 355.8 99 356.2 97.5 356.5 96 356.5 94.5 356.3 93 356.2 92 355.9 91 355.5 90 354.8 89 354 88.4 353.5 87.5 352.5 87 351.7 86.5 350.6 86.3 349.5 86.5 348.4 87 347.1 87.5 346.3 88.1 345.5 89 344.5 89.6 344 90.5 343.4 91.5 342.9 92.9 342.5M93.3 343 94.5 342.9 96 342.8 97.5 342.8 99 342.8 100.5 343 101.5 343.3 102.5 343.8 103.2 344.5 104 345.5 104.5 346.2 105 347 105.5 348.2 105.6 349.5 105.3 350.5 104.7 351.5 104 352.4 103.4 353 102.5 353.7 101.5 354.3 100.5 354.8 99.5 355.3 98.5 355.6 97 355.9 95.5 355.8 94 355.6 93 355.5 91.5 355 90.7 354.5 90 354 89 353.1 88.5 352.5 87.8 351.5 87.3 350.5 87.1 349 87.5 347.5 88 346.6 88.5 345.9 89.3 345 90 344.4 91 343.8 92 343.3 93.3 343M94.1 343.5 95.5 343.4 97 343.4 98.5 343.4 99.5 343.5 101 343.9 102 344.5 102.5 345 103.2 346 103.8 347 104.3 348 104.4 349.5 104 350.6 103.4 351.5 102.5 352.4 101.8 353 101 353.6 100 354.2 99 354.7 98 355 96.5 355.2 95 355.1 94 354.9 92.5 354.6 91.5 354.2 90.5 353.5 89.9 353 89.1 352 88.5 351.1 88 350 87.9 349 88.1 348 88.5 347 89.2 346 90 345.2 90.9 344.5 91.9 344 93 343.7 94.1 343.5M92.3 344.5 93.5 344.2 95 344.1 96.5 344.1 98 344.1 99.5 344.3 100.5 344.7 101.5 345.4 102 346.1 102.5 347 103 348.5 103 349.2 102.5 350.5 102 351.3 101.3 352 100.5 352.7 99.5 353.4 98.5 354 97.5 354.3 96 354.4 94.5 354.3 93 354 92 353.7 91 353 90.5 352.5 89.7 351.5 89.1 350.5 88.8 349.5 88.8 348 89.3 347 90 346 90.6 345.5 91.5 344.9 92.3 344.5M93 345 94.5 344.8 96 344.8 97.5 344.9 98.5 345 99.8 345.5 100.5 346.2 101 347.1 101.3 348.5 101 350 100.5 351 100 351.6 99.1 352.5 98.3 353 97 353.4 96 353.6 94.5 353.5 93.5 353.4 92.4 353 91.5 352.4 90.6 351.5 90 350.5 89.7 349.5 89.7 348 90.1 347 91 346 91.8 345.5 93 345 93 345M92.5 346 94 345.6 95.5 345.6 97 345.8 98 346.1 99 346.8 99.5 347.9 99.5 348.9 99.2 350 98.6 351 98 351.7 97 352.3 96 352.5 94.5 352.6 93.5 352.5 92.4 352 91.5 351.2 91 350.5 90.5 349 90.9 347.5 91.5 346.7 92.5 346 92.5 346M92.9 347 94 346.6 95.5 346.7 96.6 347 97.5 347.9 97.6 349 97.3 350 96.5 350.9 95.5 351.4 94.5 351.5 93.5 351.3 92.5 350.8 91.9 350 91.7 348.5 92.2 347.5 92.9 347" fill="none" stroke="#000" stroke-width="1.04" stroke-linejoin="round" clip-path="url(#c3)"/>
<path d="M218.5 438.5 219.5 438.5 221 438.4 222.5 438.4 224 438.4 225.5 438.3 227 438.2 228.5 438.1 230 438.1 231.5 438.2 232.8 438.5 234 438.8 235 439.2 236 439.7 237 440.3 238 441 238.5 441.5 239.2 442.5 239.6 443.5 239.9 445 240 446.5 240.1 447.5 240.1 449 239.9 450 239 450.5 237.5 450.8 236 450.9 234.7 451 233.5 451.1 232 451.2 230.5 451.2 229 451.2 227.5 451.2 226 451.2 224.5 451.2 223 451.2 221.5 451.2 220 451.2 218.5 451.1 217 451.1 215.5 451.1 214 451 212.9 451 211.5 451 210 450.9 208.5 450.9 207 450.9 205.5 450.8 204 450.8 202.5 450.7 201 450.7 199.5 450.6 198.1 450.5 197 450.5 195.5 450.4 194 450.3 192.5 450.2 191 450 190 449.9 188.5 449.6 187.5 449 187.4 448 187.8 447 188.5 446.1 189.1 445.5 190 444.9 191 444.3 192 443.9 193 443.5 194.5 443 195.5 442.7 196.5 442.4 197.8 442 199 441.6 200 441.4 201.5 441.1 202.5 440.9 204 440.7 205 440.5 206.5 440.1 207.5 439.9 209 439.6 210 439.4 211.5 439.1 212.7 439 214 438.9 215.5 438.7 217 438.6 218.5 438.5M225.8 440.5 227 440.3 228.5 440.2 230 440.2 231.5 440.3 232.5 440.5 234 441 235 441.5 235.9 442 236.5 442.5 237.5 443.5 238 444.1 238.5 445 239 446.2 239.2 447.5 239.4 449 238.7 450 237.5 450.3 236 450.5 235 450.6 233.5 450.7 232 450.8 230.5 450.8 229 450.8 227.5 450.8 226 450.8 224.5 450.8 223 450.8 221.5 450.8 220 450.8 218.5 450.8 217 450.7 215.5 450.7 214 450.7 212.5 450.6 211 450.6 209.9 450.5 208.5 450.5 207 450.4 205.5 450.3 204 450.3 202.5 450.2 201 450.1 199.9 450 198.5 449.8 197 449.6 196 449.4 195.3 448.5 195.8 447.5 196.5 446.7 197.3 446 198 445.5 199 445 200.1 444.5 201.5 444.1 202.5 443.8 203.5 443.5 205 443.1 206 442.9 207.5 442.5 208.5 442.2 209.5 441.9 211 441.5 212 441.4 213.5 441.2 215 441 216 440.9 217.5 440.7 219 440.6 220.5 440.6 222 440.6 223.5 440.7 225 440.6 225.8 440.5M228.6 441.5 230 441.4 231.3 441.5 232.5 441.7 233.5 442.1 234.5 442.5 235.5 443.2 236.3 444 237 444.9 237.5 445.8 238 447 238.3 448 238.3 449.5 237.2 450 236 450.2 234.5 450.4 233 450.5 232 450.6 230.5 450.6 229 450.6 227.5 450.6 226 450.6 224.5 450.6 223 450.6 221.5 450.5 220 450.5 218.6 450.5 217.5 450.5 216 450.5 214.5 450.4 213 450.4 211.5 450.3 210 450.2 208.5 450.2 207 450.1 205.5 450 204.5 449.9 203 449.7 201.5 449.5 200.5 449.1 200.1 448 201 447 201.8 446.5 202.7 446 203.7 445.5 205 445 206 444.7 207 444.4 208.1 444 209.5 443.5 210.5 443.2 211.5 442.9 213 442.6 214 442.5 215.5 442.3 217 442.2 218.5 442 219.5 442 221 442 222 442 223.5 442 224.5 442 226 441.8 227.5 441.6 228.6 441.5M228.9 442.5 230 442.4 231.4 442.5 232.5 442.7 233.5 443.1 234.5 443.6 235.5 444.5 236 445.1 236.5 446 237 447.2 237.4 448.5 237 449.6 235.9 450 234.5 450.2 233 450.3 231.5 450.4 230 450.4 228.5 450.4 227 450.4 225.5 450.4 224 450.4 222.5 450.4 221 450.4 219.5 450.4 218 450.3 216.5 450.3 215 450.3 213.5 450.2 212 450.1 210.5 450 209.5 449.9 208 449.8 206.5 449.6 205.2 449.5 204 449.1 203.9 448 204.5 447.4 205.5 446.8 206.5 446.3 207.5 445.9 208.5 445.4 209.5 444.9 210.5 444.5 211.9 444 213 443.7 214.4 443.5 215.5 443.4 217 443.3 218.5 443.2 220 443.1 221.5 443.1 223 443.1 224 443 225.5 442.9 227 442.7 228.5 442.5 228.9 442.5M227.7 443.5 229 443.4 230.5 443.3 232 443.5 233 443.8 234 444.3 234.8 445 235.5 445.9 236 446.9 236.4 448 236.6 449 236 449.6 234.6 450 233.5 450.1 232 450.2 230.5 450.3 229 450.3 227.5 450.3 226 450.3 224.5 450.3 223 450.2 221.5 450.2 220 450.2 218.5 450.2 217 450.1 215.5 450.1 214 450 213 450 211.5 449.8 210 449.6 209 449.5 207.5 449 207.5 448.3 208.2 447.5 209 446.9 210 446.2 211 445.6 212 445.1 213 444.8 214.1 444.5 215.5 444.3 217 444.3 218.5 444.3 220 444.2 221.5 444.1 222.5 444 224 443.8 225.5 443.7 227 443.6 227.7 443.5M224.8 444.5 226 444.4 227.5 444.3 229 444.2 230.5 444.1 232 444.3 233 444.7 234 445.3 234.6 446 235.2 447 235.6 448 235.5 449.3 234.5 449.7 233.1 450 232 450.1 230.5 450.1 229 450.1 227.5 450.1 226 450.1 224.5 450.1 223 450.1 221.5 450.1 220 450.1 218.5 450 217.5 450 216 449.9 214.5 449.8 213 449.7 211.5 449.5 210.5 449 210.5 448 211 447.4 212 446.5 212.8 446 214 445.5 215 445.3 216.5 445.3 218 445.3 219.5 445.3 221 445.1 222 444.9 223.5 444.7 224.8 444.5M228 445 229 444.9 230.5 444.9 231.5 445 232.8 445.5 233.5 446 234.4 447 234.8 448 234.5 449.4 233.5 449.7 232 449.9 230.5 450 229.5 450 228 450 226.6 450 225.5 450 224 449.9 222.5 449.9 221 449.9 219.5 449.8 218 449.7 216.5 449.7 215 449.6 214 449.5 212.5 449 212.5 448.3 213.1 447.5 214 446.8 215 446.4 216.5 446.3 218 446.3 219.5 446.2 221 446 222 445.8 223.2 445.5 224.5 445.3 226 445.1 227.5 445 228 445M224.7 446 226 445.9 227.5 445.8 229 445.7 230.5 445.7 231.8 446 232.8 446.5 233.5 447.2 234 448 234 449.1 233 449.6 231.5 449.7 230 449.8 228.5 449.8 227 449.8 225.5 449.8 224 449.7 222.5 449.7 221 449.7 219.5 449.6 218 449.5 217 449.3 215.5 449 215 448.5 215.5 448 217 447.5 218 447.4 219.5 447.2 220.6 447 222 446.7 223 446.4 224.5 446 224.7 446M224.2 447 225.5 446.8 227 446.6 228.5 446.6 230 446.6 231.5 446.9 232.5 447.5 233 448.1 233 449.1 232 449.5 230.5 449.6 229 449.6 227.5 449.6 226 449.6 224.5 449.5 223.1 449.5 222 449.4 220.5 449.3 219.1 449 220 448.3 221 447.9 222.4 447.5 223.5 447.2 224.2 447M225.3 448 226.5 447.7 228 447.6 229.5 447.7 231 448 231.7 448.5 231 449.1 229.5 449.2 228 449.3 226.5 449.2 225 449 224.2 448.5 225.3 448" fill="none" stroke="#000" stroke-width="0.85" stroke-linejoin="round" clip-path="url(#c3)"/>
<rect x="51.3" y="262.6" width="190.3" height="189.4" fill="none" stroke="#1a1a1a" stroke-width="1.3"/>
<path d="M46.8 279.6H51.3M46.8 322H51.3M46.8 366H51.3M46.8 411.2H51.3M46.8 432H51.3M49.5 397.6H51.3M49.5 389.6H51.3M49.5 384H51.3M49.5 379.6H51.3M49.5 376H51.3M49.5 373H51.3M49.5 370.4H51.3M49.5 368.1H51.3M49.5 352.8H51.3M49.5 345H51.3M49.5 339.5H51.3M49.5 335.2H51.3M49.5 331.8H51.3M49.5 328.8H51.3M49.5 326.3H51.3M49.5 324H51.3M49.5 309.2H51.3M49.5 301.8H51.3M49.5 296.5H51.3M49.5 292.4H51.3M49.5 289H51.3M49.5 286.2H51.3M49.5 283.7H51.3M49.5 281.5H51.3M49.5 266.8H51.3M49.5 428.3H51.3M49.5 424.9H51.3M49.5 422H51.3M49.5 419.5H51.3M49.5 417.4H51.3M49.5 415.6H51.3M49.5 413.9H51.3M49.5 412.4H51.3M49.5 435.7H51.3M49.5 439.1H51.3M49.5 442H51.3M49.5 444.5H51.3M49.5 446.6H51.3M49.5 448.4H51.3M49.5 450.1H51.3M71.2 452V457.5M91.7 452V457.5M137 452V457.5M180.8 452V457.5M224 452V457.5M105.3 452V454.6M113.3 452V454.6M119 452V454.6M123.4 452V454.6M127 452V454.6M130 452V454.6M132.6 452V454.6M134.9 452V454.6M150.2 452V454.6M157.9 452V454.6M163.4 452V454.6M167.6 452V454.6M171.1 452V454.6M174 452V454.6M176.6 452V454.6M178.8 452V454.6M193.8 452V454.6M201.4 452V454.6M206.8 452V454.6M211 452V454.6M214.4 452V454.6M217.3 452V454.6M219.8 452V454.6M222 452V454.6M237 452V454.6M74.9 452V454.6M78.2 452V454.6M81 452V454.6M83.5 452V454.6M85.5 452V454.6M87.4 452V454.6M89 452V454.6M90.5 452V454.6M67.5 452V454.6M64.2 452V454.6M61.4 452V454.6M58.9 452V454.6M56.9 452V454.6M55 452V454.6M53.4 452V454.6M51.9 452V454.6" stroke="#1a1a1a" stroke-width="0.9" fill="none"/>
<path d="M70.9 452V456.5M47.8 432H51.3" stroke="#1a1a1a" stroke-width="1.8" fill="none"/>
<text x="43.8" y="282.7" text-anchor="end" class="tk">10<tspan dy="-3.2" class="sp">5</tspan></text>
<text x="43.8" y="325.1" text-anchor="end" class="tk">10<tspan dy="-3.2" class="sp">4</tspan></text>
<text x="43.8" y="369.1" text-anchor="end" class="tk">10<tspan dy="-3.2" class="sp">3</tspan></text>
<text x="43.8" y="414.3" text-anchor="end" class="tk">10<tspan dy="-3.2" class="sp">2</tspan></text>
<text x="42.8" y="435.1" text-anchor="end" class="tk">0</text>
<text x="72.2" y="469.8" text-anchor="middle" class="tk">0</text>
<text x="90.9" y="469.8" text-anchor="middle" class="tk">10<tspan dy="-3.2" class="sp">2</tspan></text>
<text x="136.2" y="469.8" text-anchor="middle" class="tk">10<tspan dy="-3.2" class="sp">3</tspan></text>
<text x="180" y="469.8" text-anchor="middle" class="tk">10<tspan dy="-3.2" class="sp">4</tspan></text>
<text x="223.2" y="469.8" text-anchor="middle" class="tk">10<tspan dy="-3.2" class="sp">5</tspan></text>
<text x="148.7" y="488.3" text-anchor="middle" class="ti">IgG</text>
<text transform="translate(17 360) rotate(-90)" text-anchor="middle" class="ti">IgM</text>
<rect x="51.5" y="294.6" width="126.6" height="99.5" fill="none" stroke="#1a1a1a" stroke-width="1"/>
<rect x="184.4" y="434" width="56.8" height="18" fill="none" stroke="#1a1a1a" stroke-width="1"/>
<text x="91" y="291" class="pc">92%</text>
<text x="187.3" y="428.2" class="pc">1.56%</text>
<path d="M402.6 269.7V441H466.5" stroke="#1a1a1a" stroke-width="1.3" fill="none"/>
<text x="396.6" y="445.5" text-anchor="end" class="bt">0</text>
<text x="396.6" y="411.3" text-anchor="end" class="bt">20</text>
<text x="396.6" y="377.2" text-anchor="end" class="bt">40</text>
<text x="396.6" y="343" text-anchor="end" class="bt">60</text>
<text x="396.6" y="308.9" text-anchor="end" class="bt">80</text>
<text x="396.6" y="274.7" text-anchor="end" class="bt">100</text>
<path d="M398.4 441H402.6M398.4 406.8H402.6M398.4 372.7H402.6M398.4 338.5H402.6M398.4 304.4H402.6M398.4 270.2H402.6M419.5 441V446.3M451.2 441V446.3" stroke="#1a1a1a" stroke-width="1.2" fill="none"/>
<path d="M419.4 294.1V286M413.7 286H425.2" stroke="#1a1a1a" stroke-width="1.1" fill="none"/>
<rect x="408.8" y="294.1" width="21.4" height="146.9" fill="#808080" stroke="#1a1a1a" stroke-width="1"/>
<path d="M451.2 435.9V434.2M446 434.2H456.3" stroke="#1a1a1a" stroke-width="1.1" fill="none"/>
<rect x="440.4" y="435.9" width="21.5" height="5.1" fill="#808080" stroke="#1a1a1a" stroke-width="1"/>
<text transform="translate(368.6 359) rotate(-90)" text-anchor="middle" class="ti" letter-spacing="0.35">% B220<tspan dy="-7.5" font-size="11.5">+</tspan><tspan dy="7.5">CD19</tspan><tspan dy="-7.5" font-size="11.5">+</tspan></text>
<text transform="translate(404.5 484.5) rotate(-50.5)" class="ti">IgM<tspan dy="-7.5" font-size="11.5">+</tspan></text>
<text transform="translate(438 483.8) rotate(-50.5)" class="ti">IgG<tspan dy="-7.5" font-size="11.5">+</tspan></text>
<text transform="translate(413.4 513.7) rotate(-50.5)" class="ti">IgM</text>
</svg>
</body></html>
